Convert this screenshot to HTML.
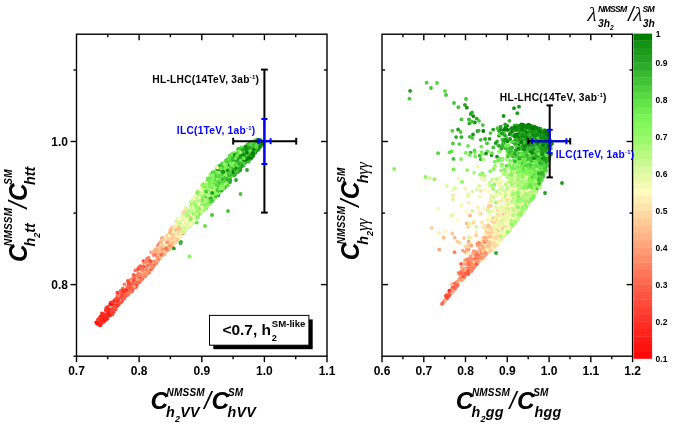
<!DOCTYPE html>
<html><head><meta charset="utf-8"><title>chart</title>
<style>
html,body{margin:0;padding:0;background:#fff;}
body{width:692px;height:425px;position:relative;overflow:hidden;font-family:"Liberation Sans",sans-serif;}
svg text{font-family:"Liberation Sans",sans-serif;}
svg .sf{font-family:"Liberation Serif",serif;}
svg .ss{font-family:"Liberation Sans",sans-serif;}
</style></head><body>
<svg width="692" height="425" viewBox="0 0 692 425" style="position:absolute;left:0;top:0;will-change:transform">
<rect width="692" height="425" fill="#fff"/>
<g>
<circle cx="178.2" cy="226.2" r="1.9" fill="#ffc694"/>
<circle cx="240.5" cy="167.8" r="1.9" fill="#22a022"/>
<circle cx="191.6" cy="220.7" r="1.9" fill="#a4f872"/>
<circle cx="243.4" cy="160.3" r="1.9" fill="#169416"/>
<circle cx="256.5" cy="149.6" r="1.9" fill="#39b932"/>
<circle cx="176.4" cy="241.2" r="1.9" fill="#ffdba2"/>
<circle cx="215.9" cy="170.6" r="1.9" fill="#a3f871"/>
<circle cx="166.8" cy="243.1" r="1.9" fill="#ffe7ad"/>
<circle cx="261.4" cy="142.7" r="1.9" fill="#4ecf3d"/>
<circle cx="181.2" cy="223.3" r="1.9" fill="#ffe2a9"/>
<circle cx="241.5" cy="158.7" r="1.9" fill="#5adc44"/>
<circle cx="134.1" cy="282.9" r="1.9" fill="#ff674d"/>
<circle cx="112.4" cy="308.7" r="1.9" fill="#ff4b39"/>
<circle cx="214.8" cy="192.9" r="1.9" fill="#89f65e"/>
<circle cx="177.3" cy="238.5" r="1.9" fill="#ffe2a8"/>
<circle cx="177.6" cy="239.1" r="1.9" fill="#ff936e"/>
<circle cx="185.3" cy="227.3" r="1.9" fill="#ffedb2"/>
<circle cx="166.8" cy="236.3" r="1.9" fill="#ffc693"/>
<circle cx="235.4" cy="160.4" r="1.9" fill="#118f11"/>
<circle cx="173.8" cy="238.9" r="1.9" fill="#ffcb97"/>
<circle cx="180.1" cy="236.7" r="1.9" fill="#ffd8a1"/>
<circle cx="260.9" cy="142.3" r="1.9" fill="#028002"/>
<circle cx="161.5" cy="244.9" r="1.9" fill="#ff926d"/>
<circle cx="211.9" cy="178.7" r="1.9" fill="#caf991"/>
<circle cx="188.6" cy="224.9" r="1.9" fill="#e6faa9"/>
<circle cx="225.4" cy="160.7" r="1.9" fill="#8ff761"/>
<circle cx="129.2" cy="290.1" r="1.9" fill="#ff4736"/>
<circle cx="262.1" cy="143.8" r="1.9" fill="#007e00"/>
<circle cx="230.2" cy="175.7" r="1.9" fill="#5bdc44"/>
<circle cx="142.3" cy="278.4" r="1.9" fill="#ff8564"/>
<circle cx="226.4" cy="182.8" r="1.9" fill="#69e74c"/>
<circle cx="226.8" cy="169.6" r="1.9" fill="#69e74c"/>
<circle cx="246.8" cy="156.6" r="1.9" fill="#22a022"/>
<circle cx="100.2" cy="325.3" r="1.9" fill="#ff0303"/>
<circle cx="204.5" cy="190.8" r="1.9" fill="#c0f98a"/>
<circle cx="157.1" cy="255.0" r="1.9" fill="#ffd09b"/>
<circle cx="174.8" cy="241.2" r="1.9" fill="#ffc190"/>
<circle cx="209.8" cy="185.0" r="1.9" fill="#79f255"/>
<circle cx="180.5" cy="243.0" r="1.9" fill="#28a628"/>
<circle cx="208.5" cy="194.5" r="1.9" fill="#7af355"/>
<circle cx="240.7" cy="165.8" r="1.9" fill="#23a123"/>
<circle cx="259.2" cy="142.9" r="1.9" fill="#0c8a0c"/>
<circle cx="172.2" cy="241.1" r="1.9" fill="#ffcc98"/>
<circle cx="100.6" cy="316.7" r="1.9" fill="#ff100d"/>
<circle cx="255.2" cy="143.2" r="1.9" fill="#159315"/>
<circle cx="214.3" cy="196.7" r="1.9" fill="#5fe147"/>
<circle cx="243.2" cy="161.2" r="1.9" fill="#179517"/>
<circle cx="173.0" cy="245.5" r="1.9" fill="#ffd7a0"/>
<circle cx="130.6" cy="285.6" r="1.9" fill="#ff5d46"/>
<circle cx="239.0" cy="154.5" r="1.9" fill="#84f55b"/>
<circle cx="217.2" cy="192.9" r="1.9" fill="#60e147"/>
<circle cx="216.3" cy="176.4" r="1.9" fill="#5fe146"/>
<circle cx="184.0" cy="211.7" r="1.9" fill="#ecfaae"/>
<circle cx="187.6" cy="215.2" r="1.9" fill="#aff97b"/>
<circle cx="228.0" cy="159.1" r="1.9" fill="#52d33f"/>
<circle cx="158.3" cy="258.0" r="1.9" fill="#ffaf83"/>
<circle cx="219.4" cy="182.9" r="1.9" fill="#2aa929"/>
<circle cx="244.1" cy="159.6" r="1.9" fill="#169416"/>
<circle cx="123.1" cy="297.3" r="1.9" fill="#ff382b"/>
<circle cx="230.6" cy="165.5" r="1.9" fill="#30af2d"/>
<circle cx="107.8" cy="306.8" r="1.9" fill="#ff392b"/>
<circle cx="247.3" cy="155.4" r="1.9" fill="#0b890b"/>
<circle cx="240.7" cy="165.0" r="1.9" fill="#0e8c0e"/>
<circle cx="248.6" cy="156.4" r="1.9" fill="#007e00"/>
<circle cx="226.0" cy="185.4" r="1.9" fill="#3aba32"/>
<circle cx="236.5" cy="171.7" r="1.9" fill="#118f11"/>
<circle cx="118.5" cy="303.8" r="1.9" fill="#ff5c45"/>
<circle cx="182.4" cy="218.1" r="1.9" fill="#d5fa9b"/>
<circle cx="145.0" cy="268.2" r="1.9" fill="#ff6c51"/>
<circle cx="183.1" cy="233.3" r="1.9" fill="#ff9570"/>
<circle cx="260.0" cy="140.8" r="1.9" fill="#37b630"/>
<circle cx="177.5" cy="237.3" r="1.9" fill="#fff2b7"/>
<circle cx="258.3" cy="144.0" r="1.9" fill="#0e8c0e"/>
<circle cx="180.2" cy="225.0" r="1.9" fill="#ddfaa1"/>
<circle cx="250.3" cy="146.1" r="1.9" fill="#45c538"/>
<circle cx="126.3" cy="289.7" r="1.9" fill="#ff231b"/>
<circle cx="207.0" cy="206.8" r="1.9" fill="#95f865"/>
<circle cx="198.2" cy="215.0" r="1.9" fill="#fcfabb"/>
<circle cx="175.5" cy="241.5" r="1.9" fill="#ffc895"/>
<circle cx="244.6" cy="158.6" r="1.9" fill="#007e00"/>
<circle cx="186.5" cy="227.5" r="1.9" fill="#f5fab6"/>
<circle cx="244.8" cy="148.3" r="1.9" fill="#4bcc3c"/>
<circle cx="255.5" cy="145.1" r="1.9" fill="#23a123"/>
<circle cx="223.6" cy="173.4" r="1.9" fill="#2aa829"/>
<circle cx="130.9" cy="280.2" r="1.9" fill="#ff3f2f"/>
<circle cx="243.6" cy="161.6" r="1.9" fill="#007e00"/>
<circle cx="245.7" cy="150.9" r="1.9" fill="#3bba33"/>
<circle cx="199.5" cy="209.4" r="1.9" fill="#a9f975"/>
<circle cx="194.2" cy="219.6" r="1.9" fill="#e2faa6"/>
<circle cx="208.0" cy="197.8" r="1.9" fill="#90f762"/>
<circle cx="257.0" cy="144.8" r="1.9" fill="#1f9d1f"/>
<circle cx="189.2" cy="210.3" r="1.9" fill="#c3f98c"/>
<circle cx="154.7" cy="249.8" r="1.9" fill="#ffbc8c"/>
<circle cx="192.3" cy="219.8" r="1.9" fill="#ffd09b"/>
<circle cx="239.3" cy="170.1" r="1.9" fill="#40c035"/>
<circle cx="147.9" cy="269.7" r="1.9" fill="#ff8e6a"/>
<circle cx="174.5" cy="235.9" r="1.9" fill="#ffb788"/>
<circle cx="247.1" cy="157.6" r="1.9" fill="#8cf75f"/>
<circle cx="123.3" cy="291.7" r="1.9" fill="#ff503c"/>
<circle cx="253.4" cy="144.6" r="1.9" fill="#38b731"/>
<circle cx="197.5" cy="205.9" r="1.9" fill="#6be94d"/>
<circle cx="184.5" cy="232.0" r="1.9" fill="#ffdba3"/>
<circle cx="244.6" cy="162.5" r="1.9" fill="#3dbc33"/>
<circle cx="212.5" cy="195.6" r="1.9" fill="#75f052"/>
<circle cx="233.0" cy="166.2" r="1.9" fill="#6ce94d"/>
<circle cx="130.5" cy="287.5" r="1.9" fill="#ff4534"/>
<circle cx="143.6" cy="276.4" r="1.9" fill="#ff6b51"/>
<circle cx="148.9" cy="272.8" r="1.9" fill="#ff5d46"/>
<circle cx="248.2" cy="150.2" r="1.9" fill="#2dab2b"/>
<circle cx="234.2" cy="165.1" r="1.9" fill="#48c93a"/>
<circle cx="224.6" cy="170.0" r="1.9" fill="#58da43"/>
<circle cx="124.4" cy="284.5" r="1.9" fill="#ff8564"/>
<circle cx="232.0" cy="175.3" r="1.9" fill="#24a224"/>
<circle cx="245.4" cy="154.1" r="1.9" fill="#159315"/>
<circle cx="214.6" cy="189.4" r="1.9" fill="#3bbb33"/>
<circle cx="227.0" cy="160.8" r="1.9" fill="#45c638"/>
<circle cx="142.8" cy="268.3" r="1.9" fill="#ffb285"/>
<circle cx="165.2" cy="251.9" r="1.9" fill="#ffb98a"/>
<circle cx="117.0" cy="300.5" r="1.9" fill="#ff7759"/>
<circle cx="247.1" cy="150.1" r="1.9" fill="#28a628"/>
<circle cx="205.8" cy="195.3" r="1.9" fill="#47c739"/>
<circle cx="211.3" cy="181.8" r="1.9" fill="#3fbe35"/>
<circle cx="230.9" cy="157.6" r="1.9" fill="#22a022"/>
<circle cx="232.1" cy="165.9" r="1.9" fill="#3ebd34"/>
<circle cx="229.3" cy="180.6" r="1.9" fill="#4fd03e"/>
<circle cx="206.5" cy="194.9" r="1.9" fill="#84f55b"/>
<circle cx="235.4" cy="169.6" r="1.9" fill="#2aa829"/>
<circle cx="217.0" cy="195.4" r="1.9" fill="#8af65e"/>
<circle cx="243.5" cy="158.4" r="1.9" fill="#62e348"/>
<circle cx="196.6" cy="217.5" r="1.9" fill="#c2f98b"/>
<circle cx="182.4" cy="218.4" r="1.9" fill="#e3faa6"/>
<circle cx="145.3" cy="275.8" r="1.9" fill="#ff7b5c"/>
<circle cx="210.1" cy="202.4" r="1.9" fill="#41c136"/>
<circle cx="231.0" cy="171.5" r="1.9" fill="#219f21"/>
<circle cx="189.6" cy="221.7" r="1.9" fill="#b7f982"/>
<circle cx="114.3" cy="303.9" r="1.9" fill="#ff513d"/>
<circle cx="196.1" cy="217.8" r="1.9" fill="#8cf75f"/>
<circle cx="232.9" cy="153.5" r="1.9" fill="#80f559"/>
<circle cx="244.5" cy="148.7" r="1.9" fill="#47c739"/>
<circle cx="204.1" cy="207.8" r="1.9" fill="#dbfaa0"/>
<circle cx="253.4" cy="150.5" r="1.9" fill="#50d13e"/>
<circle cx="212.3" cy="199.1" r="1.9" fill="#8ef760"/>
<circle cx="148.4" cy="270.6" r="1.9" fill="#ffa77d"/>
<circle cx="157.7" cy="245.8" r="1.9" fill="#ff8a68"/>
<circle cx="157.2" cy="260.8" r="1.9" fill="#ffb185"/>
<circle cx="248.8" cy="159.2" r="1.9" fill="#169416"/>
<circle cx="135.5" cy="285.9" r="1.9" fill="#ff6249"/>
<circle cx="254.8" cy="148.9" r="1.9" fill="#1d9b1d"/>
<circle cx="185.3" cy="215.1" r="1.9" fill="#eefab0"/>
<circle cx="158.1" cy="260.5" r="1.9" fill="#ffb688"/>
<circle cx="234.2" cy="152.8" r="1.9" fill="#79f254"/>
<circle cx="215.5" cy="192.6" r="1.9" fill="#8bf75f"/>
<circle cx="254.1" cy="144.9" r="1.9" fill="#33b22e"/>
<circle cx="171.8" cy="242.2" r="1.9" fill="#ff9570"/>
<circle cx="152.8" cy="252.7" r="1.9" fill="#ff946f"/>
<circle cx="201.4" cy="194.1" r="1.9" fill="#e5faa9"/>
<circle cx="173.7" cy="226.5" r="1.9" fill="#ffe8ae"/>
<circle cx="147.3" cy="272.6" r="1.9" fill="#ffa078"/>
<circle cx="189.6" cy="222.1" r="1.9" fill="#fafaba"/>
<circle cx="211.3" cy="180.8" r="1.9" fill="#51d23f"/>
<circle cx="255.2" cy="149.8" r="1.9" fill="#2fae2c"/>
<circle cx="189.6" cy="224.0" r="1.9" fill="#c5f98e"/>
<circle cx="226.0" cy="160.3" r="1.9" fill="#59db43"/>
<circle cx="198.1" cy="196.8" r="1.9" fill="#e8faab"/>
<circle cx="256.6" cy="139.6" r="1.9" fill="#59da43"/>
<circle cx="211.2" cy="180.0" r="1.9" fill="#5ddf46"/>
<circle cx="248.8" cy="155.1" r="1.9" fill="#0a880a"/>
<circle cx="241.6" cy="163.7" r="1.9" fill="#abf977"/>
<circle cx="143.0" cy="277.0" r="1.9" fill="#ff7155"/>
<circle cx="139.4" cy="282.1" r="1.9" fill="#ff7457"/>
<circle cx="159.5" cy="252.0" r="1.9" fill="#ffb688"/>
<circle cx="242.0" cy="154.5" r="1.9" fill="#3dbc33"/>
<circle cx="140.2" cy="280.9" r="1.9" fill="#ff8160"/>
<circle cx="224.5" cy="187.7" r="1.9" fill="#48c93a"/>
<circle cx="192.0" cy="222.4" r="1.9" fill="#ecfaae"/>
<circle cx="240.7" cy="163.0" r="1.9" fill="#7ef457"/>
<circle cx="209.8" cy="202.5" r="1.9" fill="#7ff458"/>
<circle cx="180.9" cy="225.8" r="1.9" fill="#fbfaba"/>
<circle cx="233.4" cy="174.3" r="1.9" fill="#65e54a"/>
<circle cx="178.0" cy="218.6" r="1.9" fill="#d1fa98"/>
<circle cx="237.2" cy="167.3" r="1.9" fill="#3fbe35"/>
<circle cx="256.6" cy="140.7" r="1.9" fill="#0e8c0e"/>
<circle cx="246.4" cy="147.2" r="1.9" fill="#82f55a"/>
<circle cx="249.0" cy="146.0" r="1.9" fill="#58d943"/>
<circle cx="236.1" cy="157.8" r="1.9" fill="#7bf456"/>
<circle cx="181.0" cy="242.0" r="1.9" fill="#33b22e"/>
<circle cx="157.5" cy="251.1" r="1.9" fill="#ff7658"/>
<circle cx="244.9" cy="154.9" r="1.9" fill="#068406"/>
<circle cx="241.5" cy="157.6" r="1.9" fill="#3bba32"/>
<circle cx="196.1" cy="197.5" r="1.9" fill="#baf984"/>
<circle cx="211.2" cy="194.8" r="1.9" fill="#81f559"/>
<circle cx="244.8" cy="153.4" r="1.9" fill="#4fd03e"/>
<circle cx="132.3" cy="290.2" r="1.9" fill="#ff3a2c"/>
<circle cx="135.3" cy="280.2" r="1.9" fill="#ff6f54"/>
<circle cx="258.1" cy="146.2" r="1.9" fill="#007e00"/>
<circle cx="240.0" cy="163.1" r="1.9" fill="#2eac2b"/>
<circle cx="244.6" cy="148.1" r="1.9" fill="#55d741"/>
<circle cx="229.6" cy="180.7" r="1.9" fill="#72ee51"/>
<circle cx="214.0" cy="194.4" r="1.9" fill="#8ef760"/>
<circle cx="146.9" cy="273.0" r="1.9" fill="#ffc593"/>
<circle cx="215.1" cy="197.7" r="1.9" fill="#7df457"/>
<circle cx="147.1" cy="258.7" r="1.9" fill="#ff8060"/>
<circle cx="220.3" cy="188.0" r="1.9" fill="#41c136"/>
<circle cx="196.7" cy="215.1" r="1.9" fill="#ccf993"/>
<circle cx="169.7" cy="239.5" r="1.9" fill="#ffe3aa"/>
<circle cx="175.5" cy="241.7" r="1.9" fill="#ffc291"/>
<circle cx="257.9" cy="140.2" r="1.9" fill="#30af2c"/>
<circle cx="243.6" cy="150.0" r="1.9" fill="#5ddf46"/>
<circle cx="179.1" cy="229.2" r="1.9" fill="#fff2b7"/>
<circle cx="223.8" cy="175.1" r="1.9" fill="#2ead2b"/>
<circle cx="139.1" cy="275.4" r="1.9" fill="#ff5e46"/>
<circle cx="259.2" cy="141.0" r="1.9" fill="#30af2d"/>
<circle cx="217.6" cy="192.9" r="1.9" fill="#64e449"/>
<circle cx="225.9" cy="172.4" r="1.9" fill="#73ee51"/>
<circle cx="96.3" cy="322.5" r="1.9" fill="#ff0f0c"/>
<circle cx="257.8" cy="147.9" r="1.9" fill="#149214"/>
<circle cx="235.0" cy="167.9" r="1.9" fill="#59db43"/>
<circle cx="161.1" cy="252.8" r="1.9" fill="#ff9670"/>
<circle cx="172.0" cy="242.7" r="1.9" fill="#ff8b69"/>
<circle cx="144.5" cy="269.8" r="1.9" fill="#ffcc98"/>
<circle cx="144.8" cy="273.4" r="1.9" fill="#ff6249"/>
<circle cx="159.6" cy="245.5" r="1.9" fill="#ffdaa2"/>
<circle cx="135.8" cy="286.0" r="1.9" fill="#ff5b44"/>
<circle cx="213.9" cy="173.5" r="1.9" fill="#46c739"/>
<circle cx="192.5" cy="222.2" r="1.9" fill="#70ec50"/>
<circle cx="108.3" cy="313.0" r="1.9" fill="#ff4736"/>
<circle cx="202.3" cy="186.0" r="1.9" fill="#73ee51"/>
<circle cx="242.3" cy="162.8" r="1.9" fill="#1b991b"/>
<circle cx="165.8" cy="248.7" r="1.9" fill="#ffdfa6"/>
<circle cx="215.4" cy="176.0" r="1.9" fill="#58da43"/>
<circle cx="247.1" cy="158.5" r="1.9" fill="#118f11"/>
<circle cx="242.1" cy="150.1" r="1.9" fill="#33b22e"/>
<circle cx="224.4" cy="177.8" r="1.9" fill="#43c337"/>
<circle cx="240.3" cy="169.0" r="1.9" fill="#007e00"/>
<circle cx="191.1" cy="211.9" r="1.9" fill="#83f55a"/>
<circle cx="111.1" cy="302.3" r="1.9" fill="#ff3528"/>
<circle cx="160.3" cy="258.9" r="1.9" fill="#ffd49e"/>
<circle cx="111.9" cy="304.8" r="1.9" fill="#ff503c"/>
<circle cx="243.8" cy="156.4" r="1.9" fill="#35b42f"/>
<circle cx="147.2" cy="268.7" r="1.9" fill="#ff8866"/>
<circle cx="168.0" cy="241.0" r="1.9" fill="#ffa67c"/>
<circle cx="169.2" cy="240.5" r="1.9" fill="#ffb889"/>
<circle cx="255.6" cy="145.7" r="1.9" fill="#149214"/>
<circle cx="188.8" cy="211.6" r="1.9" fill="#adf979"/>
<circle cx="242.4" cy="156.7" r="1.9" fill="#3cbb33"/>
<circle cx="128.5" cy="285.7" r="1.9" fill="#ff503d"/>
<circle cx="231.3" cy="157.8" r="1.9" fill="#50d13e"/>
<circle cx="174.2" cy="241.2" r="1.9" fill="#ffdca4"/>
<circle cx="194.1" cy="210.1" r="1.9" fill="#bdf986"/>
<circle cx="218.6" cy="170.6" r="1.9" fill="#8ff761"/>
<circle cx="198.9" cy="191.0" r="1.9" fill="#d3fa9a"/>
<circle cx="197.3" cy="215.9" r="1.9" fill="#fffabe"/>
<circle cx="222.3" cy="163.6" r="1.9" fill="#6cea4e"/>
<circle cx="171.3" cy="236.5" r="1.9" fill="#ffc190"/>
<circle cx="243.0" cy="165.7" r="1.9" fill="#28a628"/>
<circle cx="138.7" cy="267.5" r="1.9" fill="#ff7f5f"/>
<circle cx="141.7" cy="277.4" r="1.9" fill="#ff684e"/>
<circle cx="260.0" cy="141.3" r="1.9" fill="#43c337"/>
<circle cx="112.1" cy="312.1" r="1.9" fill="#ff4534"/>
<circle cx="239.5" cy="163.0" r="1.9" fill="#2baa2a"/>
<circle cx="197.9" cy="215.6" r="1.9" fill="#91f762"/>
<circle cx="206.2" cy="185.8" r="1.9" fill="#93f863"/>
<circle cx="239.7" cy="164.0" r="1.9" fill="#007e00"/>
<circle cx="200.6" cy="209.8" r="1.9" fill="#85f55b"/>
<circle cx="189.5" cy="223.0" r="1.9" fill="#e5faa8"/>
<circle cx="237.3" cy="171.2" r="1.9" fill="#4acb3b"/>
<circle cx="247.0" cy="170.0" r="1.9" fill="#28a628"/>
<circle cx="222.7" cy="181.7" r="1.9" fill="#51d23f"/>
<circle cx="215.1" cy="189.1" r="1.9" fill="#30ae2c"/>
<circle cx="189.5" cy="223.5" r="1.9" fill="#baf984"/>
<circle cx="221.3" cy="170.9" r="1.9" fill="#a5f873"/>
<circle cx="162.7" cy="249.6" r="1.9" fill="#ffab80"/>
<circle cx="236.1" cy="163.8" r="1.9" fill="#23a123"/>
<circle cx="159.4" cy="243.9" r="1.9" fill="#ff6249"/>
<circle cx="117.1" cy="305.7" r="1.9" fill="#ff3226"/>
<circle cx="224.9" cy="182.4" r="1.9" fill="#6ae84c"/>
<circle cx="257.0" cy="149.5" r="1.9" fill="#38b731"/>
<circle cx="173.1" cy="242.3" r="1.9" fill="#ffe2a9"/>
<circle cx="219.2" cy="187.9" r="1.9" fill="#66e54a"/>
<circle cx="155.0" cy="261.4" r="1.9" fill="#ff8463"/>
<circle cx="254.8" cy="147.7" r="1.9" fill="#007e00"/>
<circle cx="177.8" cy="237.5" r="1.9" fill="#ffeab0"/>
<circle cx="152.2" cy="265.7" r="1.9" fill="#ffc996"/>
<circle cx="247.5" cy="144.7" r="1.9" fill="#37b630"/>
<circle cx="262.2" cy="141.3" r="1.9" fill="#36b530"/>
<circle cx="246.5" cy="150.9" r="1.9" fill="#4acb3b"/>
<circle cx="239.0" cy="161.5" r="1.9" fill="#51d33f"/>
<circle cx="224.8" cy="165.2" r="1.9" fill="#65e54a"/>
<circle cx="213.0" cy="183.2" r="1.9" fill="#a7f874"/>
<circle cx="159.4" cy="250.8" r="1.9" fill="#ff936e"/>
<circle cx="224.0" cy="180.4" r="1.9" fill="#59da43"/>
<circle cx="197.7" cy="193.7" r="1.9" fill="#d2fa98"/>
<circle cx="140.4" cy="277.1" r="1.9" fill="#ff9d76"/>
<circle cx="217.8" cy="192.6" r="1.9" fill="#81f559"/>
<circle cx="135.0" cy="285.5" r="1.9" fill="#ff684e"/>
<circle cx="161.5" cy="241.1" r="1.9" fill="#ffdca4"/>
<circle cx="154.0" cy="251.7" r="1.9" fill="#ffad81"/>
<circle cx="165.4" cy="252.5" r="1.9" fill="#ffcf9a"/>
<circle cx="234.7" cy="173.3" r="1.9" fill="#1f9d1f"/>
<circle cx="181.2" cy="229.0" r="1.9" fill="#caf992"/>
<circle cx="134.0" cy="287.5" r="1.9" fill="#ff4232"/>
<circle cx="250.0" cy="148.1" r="1.9" fill="#42c236"/>
<circle cx="205.1" cy="193.3" r="1.9" fill="#99f868"/>
<circle cx="234.5" cy="159.8" r="1.9" fill="#088608"/>
<circle cx="212.6" cy="188.5" r="1.9" fill="#92f863"/>
<circle cx="246.3" cy="158.3" r="1.9" fill="#108e10"/>
<circle cx="103.8" cy="316.7" r="1.9" fill="#ff2b21"/>
<circle cx="178.7" cy="232.3" r="1.9" fill="#fff6ba"/>
<circle cx="198.3" cy="197.8" r="1.9" fill="#57d842"/>
<circle cx="254.5" cy="147.8" r="1.9" fill="#34b32f"/>
<circle cx="106.9" cy="315.8" r="1.9" fill="#ff3125"/>
<circle cx="167.0" cy="246.8" r="1.9" fill="#ffd69f"/>
<circle cx="245.3" cy="159.9" r="1.9" fill="#49c93a"/>
<circle cx="161.7" cy="254.6" r="1.9" fill="#ffa47b"/>
<circle cx="169.5" cy="242.3" r="1.9" fill="#ffc290"/>
<circle cx="138.0" cy="269.3" r="1.9" fill="#ff4333"/>
<circle cx="176.7" cy="226.3" r="1.9" fill="#ffedb3"/>
<circle cx="144.5" cy="272.9" r="1.9" fill="#ffac80"/>
<circle cx="215.9" cy="181.2" r="1.9" fill="#45c638"/>
<circle cx="142.3" cy="275.4" r="1.9" fill="#ff9872"/>
<circle cx="213.0" cy="198.2" r="1.9" fill="#8af65e"/>
<circle cx="182.7" cy="222.9" r="1.9" fill="#ffbe8e"/>
<circle cx="227.0" cy="182.8" r="1.9" fill="#4acb3b"/>
<circle cx="247.1" cy="157.3" r="1.9" fill="#5adb44"/>
<circle cx="170.7" cy="239.6" r="1.9" fill="#ffbf8e"/>
<circle cx="211.2" cy="180.9" r="1.9" fill="#81f559"/>
<circle cx="207.0" cy="200.2" r="1.9" fill="#a9f976"/>
<circle cx="239.5" cy="152.0" r="1.9" fill="#46c638"/>
<circle cx="245.9" cy="148.7" r="1.9" fill="#7df457"/>
<circle cx="239.6" cy="167.8" r="1.9" fill="#149214"/>
<circle cx="175.5" cy="236.3" r="1.9" fill="#f2fab3"/>
<circle cx="198.4" cy="214.4" r="1.9" fill="#9cf86b"/>
<circle cx="246.2" cy="161.6" r="1.9" fill="#27a527"/>
<circle cx="118.3" cy="299.5" r="1.9" fill="#ff3a2c"/>
<circle cx="171.4" cy="229.6" r="1.9" fill="#ffeeb4"/>
<circle cx="243.9" cy="156.5" r="1.9" fill="#007e00"/>
<circle cx="240.7" cy="153.3" r="1.9" fill="#7ff558"/>
<circle cx="216.9" cy="187.4" r="1.9" fill="#90f761"/>
<circle cx="176.7" cy="226.2" r="1.9" fill="#dcfaa0"/>
<circle cx="245.4" cy="160.3" r="1.9" fill="#209e20"/>
<circle cx="225.3" cy="180.1" r="1.9" fill="#5bdd44"/>
<circle cx="158.6" cy="253.4" r="1.9" fill="#ffaf83"/>
<circle cx="110.5" cy="315.3" r="1.9" fill="#ff4937"/>
<circle cx="239.9" cy="169.3" r="1.9" fill="#007e00"/>
<circle cx="105.7" cy="319.9" r="1.9" fill="#ff261d"/>
<circle cx="251.5" cy="154.3" r="1.9" fill="#108e10"/>
<circle cx="207.9" cy="189.3" r="1.9" fill="#cffa96"/>
<circle cx="192.7" cy="209.9" r="1.9" fill="#ddfaa2"/>
<circle cx="150.6" cy="268.8" r="1.9" fill="#ff6d52"/>
<circle cx="257.0" cy="145.8" r="1.9" fill="#4dce3c"/>
<circle cx="199.1" cy="192.2" r="1.9" fill="#f8fab8"/>
<circle cx="189.9" cy="218.4" r="1.9" fill="#b7f982"/>
<circle cx="175.5" cy="232.3" r="1.9" fill="#ffd49e"/>
<circle cx="224.0" cy="180.0" r="1.9" fill="#6be94d"/>
<circle cx="205.3" cy="202.4" r="1.9" fill="#90f761"/>
<circle cx="247.1" cy="151.0" r="1.9" fill="#56d842"/>
<circle cx="251.1" cy="153.7" r="1.9" fill="#007e00"/>
<circle cx="198.1" cy="194.3" r="1.9" fill="#7ef457"/>
<circle cx="146.0" cy="272.8" r="1.9" fill="#ff7759"/>
<circle cx="248.6" cy="158.1" r="1.9" fill="#44c438"/>
<circle cx="135.3" cy="270.4" r="1.9" fill="#ff7356"/>
<circle cx="232.3" cy="164.5" r="1.9" fill="#8cf75f"/>
<circle cx="160.7" cy="246.7" r="1.9" fill="#ffb889"/>
<circle cx="257.2" cy="149.4" r="1.9" fill="#30af2d"/>
<circle cx="253.9" cy="153.4" r="1.9" fill="#83f55a"/>
<circle cx="236.2" cy="158.3" r="1.9" fill="#1e9c1e"/>
<circle cx="186.2" cy="227.3" r="1.9" fill="#c2f98b"/>
<circle cx="234.7" cy="162.1" r="1.9" fill="#4ecf3d"/>
<circle cx="203.0" cy="209.3" r="1.9" fill="#bdf986"/>
<circle cx="208.8" cy="195.4" r="1.9" fill="#a0f86e"/>
<circle cx="135.6" cy="287.2" r="1.9" fill="#ff684e"/>
<circle cx="259.1" cy="144.2" r="1.9" fill="#007e00"/>
<circle cx="195.0" cy="218.9" r="1.9" fill="#c6f98e"/>
<circle cx="242.0" cy="159.5" r="1.9" fill="#4aca3b"/>
<circle cx="259.6" cy="146.0" r="1.9" fill="#098709"/>
<circle cx="249.7" cy="159.4" r="1.9" fill="#1c9a1c"/>
<circle cx="144.0" cy="271.1" r="1.9" fill="#ff6148"/>
<circle cx="225.5" cy="185.4" r="1.9" fill="#40c035"/>
<circle cx="179.0" cy="228.9" r="1.9" fill="#ffcd99"/>
<circle cx="202.3" cy="187.9" r="1.9" fill="#bbf985"/>
<circle cx="149.3" cy="265.3" r="1.9" fill="#ffa178"/>
<circle cx="205.0" cy="226.0" r="1.9" fill="#5ee046"/>
<circle cx="244.6" cy="161.9" r="1.9" fill="#42c237"/>
<circle cx="174.4" cy="242.0" r="1.9" fill="#ffd69f"/>
<circle cx="104.3" cy="315.4" r="1.9" fill="#ff3529"/>
<circle cx="164.2" cy="238.4" r="1.9" fill="#ffb588"/>
<circle cx="254.4" cy="150.9" r="1.9" fill="#38b731"/>
<circle cx="193.9" cy="206.9" r="1.9" fill="#a7f874"/>
<circle cx="239.9" cy="165.0" r="1.9" fill="#3fbf35"/>
<circle cx="224.7" cy="187.5" r="1.9" fill="#2fae2c"/>
<circle cx="200.5" cy="209.3" r="1.9" fill="#86f65c"/>
<circle cx="217.0" cy="195.0" r="1.9" fill="#43c337"/>
<circle cx="201.6" cy="195.9" r="1.9" fill="#59db43"/>
<circle cx="191.2" cy="216.8" r="1.9" fill="#dbfaa0"/>
<circle cx="191.0" cy="202.1" r="1.9" fill="#9ef86c"/>
<circle cx="224.0" cy="181.1" r="1.9" fill="#55d741"/>
<circle cx="254.1" cy="150.3" r="1.9" fill="#098709"/>
<circle cx="98.1" cy="319.5" r="1.9" fill="#ff2a20"/>
<circle cx="183.3" cy="216.9" r="1.9" fill="#c7f98f"/>
<circle cx="144.7" cy="276.2" r="1.9" fill="#ff684e"/>
<circle cx="191.8" cy="213.7" r="1.9" fill="#f3fab4"/>
<circle cx="105.9" cy="309.9" r="1.9" fill="#ff4131"/>
<circle cx="260.3" cy="145.1" r="1.9" fill="#28a628"/>
<circle cx="216.6" cy="179.0" r="1.9" fill="#3dbd34"/>
<circle cx="204.5" cy="205.6" r="1.9" fill="#eafaac"/>
<circle cx="222.9" cy="172.5" r="1.9" fill="#89f65e"/>
<circle cx="120.8" cy="290.7" r="1.9" fill="#ff5c45"/>
<circle cx="172.8" cy="242.9" r="1.9" fill="#ff8967"/>
<circle cx="150.4" cy="262.0" r="1.9" fill="#ff9872"/>
<circle cx="261.1" cy="144.6" r="1.9" fill="#007e00"/>
<circle cx="126.3" cy="294.1" r="1.9" fill="#ff5c45"/>
<circle cx="247.6" cy="160.1" r="1.9" fill="#7ef457"/>
<circle cx="104.7" cy="320.4" r="1.9" fill="#ff3c2d"/>
<circle cx="185.0" cy="218.4" r="1.9" fill="#f7fab8"/>
<circle cx="223.0" cy="182.9" r="1.9" fill="#3fbe35"/>
<circle cx="195.7" cy="212.2" r="1.9" fill="#8df760"/>
<circle cx="128.0" cy="294.7" r="1.9" fill="#ff5d46"/>
<circle cx="232.1" cy="175.9" r="1.9" fill="#6be94d"/>
<circle cx="107.9" cy="312.7" r="1.9" fill="#ff4937"/>
<circle cx="196.1" cy="213.0" r="1.9" fill="#a3f870"/>
<circle cx="247.3" cy="160.1" r="1.9" fill="#007e00"/>
<circle cx="105.6" cy="315.8" r="1.9" fill="#ff2019"/>
<circle cx="221.9" cy="189.9" r="1.9" fill="#74ef52"/>
<circle cx="218.3" cy="176.6" r="1.9" fill="#74ee51"/>
<circle cx="107.4" cy="308.2" r="1.9" fill="#ff2f24"/>
<circle cx="146.7" cy="273.4" r="1.9" fill="#ff523e"/>
<circle cx="240.4" cy="165.2" r="1.9" fill="#6be94d"/>
<circle cx="218.2" cy="170.0" r="1.9" fill="#82f559"/>
<circle cx="238.9" cy="154.6" r="1.9" fill="#7bf355"/>
<circle cx="245.9" cy="160.4" r="1.9" fill="#56d742"/>
<circle cx="238.9" cy="149.4" r="1.9" fill="#1e9c1e"/>
<circle cx="127.9" cy="280.6" r="1.9" fill="#ff7c5d"/>
<circle cx="143.2" cy="275.8" r="1.9" fill="#ff5c45"/>
<circle cx="249.0" cy="153.5" r="1.9" fill="#46c639"/>
<circle cx="223.8" cy="183.9" r="1.9" fill="#54d541"/>
<circle cx="225.8" cy="161.3" r="1.9" fill="#aaf977"/>
<circle cx="139.9" cy="267.4" r="1.9" fill="#ff5f47"/>
<circle cx="216.8" cy="170.0" r="1.9" fill="#9af869"/>
<circle cx="189.7" cy="221.5" r="1.9" fill="#9bf86a"/>
<circle cx="254.3" cy="145.5" r="1.9" fill="#3ebe34"/>
<circle cx="186.4" cy="210.5" r="1.9" fill="#ffeeb3"/>
<circle cx="200.4" cy="197.4" r="1.9" fill="#9af869"/>
<circle cx="260.4" cy="141.6" r="1.9" fill="#1e9c1e"/>
<circle cx="143.1" cy="267.0" r="1.9" fill="#ffaa80"/>
<circle cx="205.8" cy="199.0" r="1.9" fill="#a2f870"/>
<circle cx="135.0" cy="277.7" r="1.9" fill="#ff5741"/>
<circle cx="131.4" cy="281.9" r="1.9" fill="#ff4635"/>
<circle cx="257.4" cy="141.9" r="1.9" fill="#4ecf3d"/>
<circle cx="142.2" cy="270.7" r="1.9" fill="#ff8463"/>
<circle cx="199.9" cy="210.1" r="1.9" fill="#cdf994"/>
<circle cx="178.4" cy="234.4" r="1.9" fill="#e6faa9"/>
<circle cx="131.3" cy="288.1" r="1.9" fill="#ff6149"/>
<circle cx="208.0" cy="204.2" r="1.9" fill="#a1f86f"/>
<circle cx="218.4" cy="192.3" r="1.9" fill="#64e449"/>
<circle cx="200.0" cy="211.7" r="1.9" fill="#cefa95"/>
<circle cx="143.2" cy="266.1" r="1.9" fill="#ffa57c"/>
<circle cx="258.4" cy="145.2" r="1.9" fill="#0c8a0c"/>
<circle cx="194.7" cy="214.5" r="1.9" fill="#f2fab3"/>
<circle cx="227.9" cy="166.3" r="1.9" fill="#2fae2c"/>
<circle cx="237.5" cy="163.1" r="1.9" fill="#2dab2b"/>
<circle cx="247.5" cy="149.4" r="1.9" fill="#5ddf46"/>
<circle cx="194.1" cy="197.7" r="1.9" fill="#effab0"/>
<circle cx="132.4" cy="281.6" r="1.9" fill="#ff5a43"/>
<circle cx="238.6" cy="154.2" r="1.9" fill="#7af355"/>
<circle cx="214.3" cy="191.9" r="1.9" fill="#99f868"/>
<circle cx="253.1" cy="151.7" r="1.9" fill="#0e8c0e"/>
<circle cx="249.2" cy="149.1" r="1.9" fill="#30ae2c"/>
<circle cx="113.2" cy="309.7" r="1.9" fill="#ff3125"/>
<circle cx="133.9" cy="287.3" r="1.9" fill="#ff6149"/>
<circle cx="207.2" cy="200.9" r="1.9" fill="#25a325"/>
<circle cx="188.7" cy="220.0" r="1.9" fill="#dbfaa0"/>
<circle cx="255.5" cy="141.5" r="1.9" fill="#3fbf35"/>
<circle cx="257.0" cy="142.1" r="1.9" fill="#169416"/>
<circle cx="111.5" cy="312.5" r="1.9" fill="#ff4937"/>
<circle cx="222.0" cy="165.5" r="1.9" fill="#6ce94d"/>
<circle cx="216.6" cy="182.1" r="1.9" fill="#cffa96"/>
<circle cx="214.7" cy="183.2" r="1.9" fill="#46c638"/>
<circle cx="208.3" cy="201.2" r="1.9" fill="#8af65e"/>
<circle cx="249.5" cy="144.3" r="1.9" fill="#91f862"/>
<circle cx="157.4" cy="257.2" r="1.9" fill="#ff906c"/>
<circle cx="172.5" cy="245.0" r="1.9" fill="#ffd39d"/>
<circle cx="221.1" cy="180.9" r="1.9" fill="#77f153"/>
<circle cx="191.2" cy="206.4" r="1.9" fill="#90f762"/>
<circle cx="202.0" cy="186.8" r="1.9" fill="#f2fab3"/>
<circle cx="142.2" cy="279.1" r="1.9" fill="#ff674d"/>
<circle cx="169.8" cy="245.9" r="1.9" fill="#ffa57c"/>
<circle cx="236.1" cy="155.1" r="1.9" fill="#4acb3b"/>
<circle cx="235.1" cy="168.0" r="1.9" fill="#209e20"/>
<circle cx="127.5" cy="287.3" r="1.9" fill="#ff6b50"/>
<circle cx="179.5" cy="235.7" r="1.9" fill="#edfaaf"/>
<circle cx="218.2" cy="191.5" r="1.9" fill="#94f864"/>
<circle cx="236.7" cy="166.4" r="1.9" fill="#0b890b"/>
<circle cx="214.3" cy="172.0" r="1.9" fill="#68e74b"/>
<circle cx="240.4" cy="157.4" r="1.9" fill="#5ee046"/>
<circle cx="131.9" cy="285.2" r="1.9" fill="#ff5842"/>
<circle cx="225.6" cy="184.0" r="1.9" fill="#95f864"/>
<circle cx="163.2" cy="251.8" r="1.9" fill="#ff8f6b"/>
<circle cx="209.2" cy="178.6" r="1.9" fill="#41c136"/>
<circle cx="193.1" cy="222.4" r="1.9" fill="#ccf994"/>
<circle cx="207.6" cy="200.6" r="1.9" fill="#87f65d"/>
<circle cx="176.6" cy="221.1" r="1.9" fill="#ffd7a0"/>
<circle cx="252.2" cy="154.2" r="1.9" fill="#3fbf35"/>
<circle cx="244.6" cy="154.5" r="1.9" fill="#1f9d1f"/>
<circle cx="198.2" cy="215.4" r="1.9" fill="#b6f981"/>
<circle cx="201.5" cy="210.1" r="1.9" fill="#c6f98e"/>
<circle cx="222.3" cy="185.7" r="1.9" fill="#97f866"/>
<circle cx="251.0" cy="147.7" r="1.9" fill="#34b32f"/>
<circle cx="199.7" cy="207.5" r="1.9" fill="#d9fa9e"/>
<circle cx="227.9" cy="185.1" r="1.9" fill="#5fe147"/>
<circle cx="253.6" cy="150.5" r="1.9" fill="#007e00"/>
<circle cx="235.5" cy="163.9" r="1.9" fill="#46c638"/>
<circle cx="239.2" cy="169.4" r="1.9" fill="#4fcf3d"/>
<circle cx="117.8" cy="293.3" r="1.9" fill="#ff5e46"/>
<circle cx="194.2" cy="201.0" r="1.9" fill="#92f863"/>
<circle cx="113.6" cy="310.5" r="1.9" fill="#ff2c22"/>
<circle cx="228.4" cy="179.4" r="1.9" fill="#6be84d"/>
<circle cx="111.9" cy="304.3" r="1.9" fill="#ff291f"/>
<circle cx="209.1" cy="198.0" r="1.9" fill="#7ff458"/>
<circle cx="238.3" cy="153.0" r="1.9" fill="#70ec50"/>
<circle cx="140.3" cy="276.6" r="1.9" fill="#ff664d"/>
<circle cx="167.7" cy="249.8" r="1.9" fill="#ff8b68"/>
<circle cx="237.6" cy="160.5" r="1.9" fill="#52d440"/>
<circle cx="182.6" cy="212.8" r="1.9" fill="#ffe3a9"/>
<circle cx="203.9" cy="184.4" r="1.9" fill="#b6f981"/>
<circle cx="205.6" cy="203.9" r="1.9" fill="#6feb4f"/>
<circle cx="120.3" cy="296.9" r="1.9" fill="#ff5d46"/>
<circle cx="256.5" cy="144.5" r="1.9" fill="#33b12e"/>
<circle cx="101.3" cy="323.6" r="1.9" fill="#ff2f24"/>
<circle cx="120.6" cy="292.2" r="1.9" fill="#ff7759"/>
<circle cx="257.9" cy="143.4" r="1.9" fill="#028002"/>
<circle cx="250.2" cy="155.4" r="1.9" fill="#007e00"/>
<circle cx="223.6" cy="187.6" r="1.9" fill="#57d942"/>
<circle cx="126.1" cy="295.6" r="1.9" fill="#ff684e"/>
<circle cx="189.8" cy="225.3" r="1.9" fill="#e2faa5"/>
<circle cx="223.3" cy="185.2" r="1.9" fill="#42c236"/>
<circle cx="165.8" cy="245.4" r="1.9" fill="#ffcf9a"/>
<circle cx="245.3" cy="147.9" r="1.9" fill="#209e20"/>
<circle cx="212.4" cy="176.7" r="1.9" fill="#42c236"/>
<circle cx="211.6" cy="199.6" r="1.9" fill="#40c036"/>
<circle cx="200.9" cy="198.5" r="1.9" fill="#90f762"/>
<circle cx="226.2" cy="169.6" r="1.9" fill="#8df760"/>
<circle cx="130.7" cy="289.9" r="1.9" fill="#ff694f"/>
<circle cx="255.5" cy="145.8" r="1.9" fill="#37b630"/>
<circle cx="243.0" cy="165.0" r="1.9" fill="#40bf35"/>
<circle cx="153.1" cy="265.2" r="1.9" fill="#ff634a"/>
<circle cx="149.7" cy="260.6" r="1.9" fill="#ff7054"/>
<circle cx="123.4" cy="291.6" r="1.9" fill="#ff7054"/>
<circle cx="192.5" cy="220.1" r="1.9" fill="#a1f86f"/>
<circle cx="231.6" cy="163.8" r="1.9" fill="#71ed50"/>
<circle cx="201.5" cy="187.1" r="1.9" fill="#fff8bc"/>
<circle cx="230.1" cy="160.1" r="1.9" fill="#5bdd44"/>
<circle cx="115.7" cy="309.3" r="1.9" fill="#ff6148"/>
<circle cx="190.2" cy="207.9" r="1.9" fill="#eefaaf"/>
<circle cx="241.2" cy="159.8" r="1.9" fill="#48c83a"/>
<circle cx="172.4" cy="243.5" r="1.9" fill="#ffe1a8"/>
<circle cx="222.2" cy="164.0" r="1.9" fill="#7ef457"/>
<circle cx="178.3" cy="231.1" r="1.9" fill="#d8fa9e"/>
<circle cx="254.4" cy="144.0" r="1.9" fill="#84f55b"/>
<circle cx="167.2" cy="250.7" r="1.9" fill="#ffc08f"/>
<circle cx="259.9" cy="145.6" r="1.9" fill="#038103"/>
<circle cx="103.9" cy="321.8" r="1.9" fill="#ff2f24"/>
<circle cx="244.8" cy="152.0" r="1.9" fill="#76f053"/>
<circle cx="147.7" cy="262.5" r="1.9" fill="#ffa57c"/>
<circle cx="112.9" cy="310.1" r="1.9" fill="#ff5a43"/>
<circle cx="204.6" cy="204.2" r="1.9" fill="#a4f872"/>
<circle cx="192.5" cy="209.9" r="1.9" fill="#96f866"/>
<circle cx="164.6" cy="238.6" r="1.9" fill="#ffb688"/>
<circle cx="245.1" cy="162.3" r="1.9" fill="#29a728"/>
<circle cx="146.2" cy="274.0" r="1.9" fill="#ff6149"/>
<circle cx="115.6" cy="307.0" r="1.9" fill="#ff5540"/>
<circle cx="202.7" cy="200.1" r="1.9" fill="#92f863"/>
<circle cx="186.6" cy="222.7" r="1.9" fill="#ffecb1"/>
<circle cx="250.7" cy="154.6" r="1.9" fill="#1f9d1f"/>
<circle cx="245.1" cy="158.8" r="1.9" fill="#29a729"/>
<circle cx="220.9" cy="184.7" r="1.9" fill="#83f55a"/>
<circle cx="197.0" cy="195.8" r="1.9" fill="#aff97b"/>
<circle cx="166.1" cy="251.3" r="1.9" fill="#ffa97e"/>
<circle cx="115.1" cy="307.8" r="1.9" fill="#ff3f30"/>
<circle cx="226.1" cy="166.3" r="1.9" fill="#59db43"/>
<circle cx="205.9" cy="208.8" r="1.9" fill="#9bf86a"/>
<circle cx="182.1" cy="222.1" r="1.9" fill="#ffd7a0"/>
<circle cx="176.4" cy="229.7" r="1.9" fill="#ffc190"/>
<circle cx="223.1" cy="170.3" r="1.9" fill="#54d540"/>
<circle cx="121.9" cy="293.4" r="1.9" fill="#ff533e"/>
<circle cx="186.6" cy="228.3" r="1.9" fill="#defaa3"/>
<circle cx="100.1" cy="317.6" r="1.9" fill="#ff2f24"/>
<circle cx="244.5" cy="157.0" r="1.9" fill="#209e20"/>
<circle cx="236.7" cy="160.1" r="1.9" fill="#32b12e"/>
<circle cx="184.9" cy="229.7" r="1.9" fill="#d0fa96"/>
<circle cx="158.6" cy="258.5" r="1.9" fill="#ff8866"/>
<circle cx="236.1" cy="168.7" r="1.9" fill="#3fbf35"/>
<circle cx="236.7" cy="166.2" r="1.9" fill="#1c9a1c"/>
<circle cx="137.4" cy="277.5" r="1.9" fill="#ff8866"/>
<circle cx="210.6" cy="200.7" r="1.9" fill="#8af65e"/>
<circle cx="219.5" cy="181.8" r="1.9" fill="#72ed51"/>
<circle cx="189.5" cy="256.5" r="1.9" fill="#8af65e"/>
<circle cx="240.9" cy="154.3" r="1.9" fill="#3fbf35"/>
<circle cx="201.3" cy="198.2" r="1.9" fill="#89f65d"/>
<circle cx="254.4" cy="149.9" r="1.9" fill="#4ccc3c"/>
<circle cx="251.6" cy="145.8" r="1.9" fill="#1d9b1d"/>
<circle cx="161.6" cy="248.6" r="1.9" fill="#ffa77d"/>
<circle cx="240.6" cy="155.6" r="1.9" fill="#23a123"/>
<circle cx="202.0" cy="211.5" r="1.9" fill="#b1f97c"/>
<circle cx="214.3" cy="195.2" r="1.9" fill="#74ef52"/>
<circle cx="145.9" cy="273.8" r="1.9" fill="#ff8b68"/>
<circle cx="258.6" cy="148.8" r="1.9" fill="#2cab2a"/>
<circle cx="210.2" cy="190.3" r="1.9" fill="#6be94d"/>
<circle cx="137.9" cy="279.6" r="1.9" fill="#ff8564"/>
<circle cx="242.1" cy="147.9" r="1.9" fill="#23a123"/>
<circle cx="238.0" cy="149.1" r="1.9" fill="#4dce3d"/>
<circle cx="232.3" cy="167.0" r="1.9" fill="#3bbb33"/>
<circle cx="189.3" cy="216.9" r="1.9" fill="#ffbf8e"/>
<circle cx="218.0" cy="178.4" r="1.9" fill="#54d540"/>
<circle cx="256.7" cy="141.7" r="1.9" fill="#54d540"/>
<circle cx="212.9" cy="179.1" r="1.9" fill="#3bba33"/>
<circle cx="205.7" cy="198.8" r="1.9" fill="#51d23f"/>
<circle cx="229.8" cy="170.9" r="1.9" fill="#59db43"/>
<circle cx="211.4" cy="201.3" r="1.9" fill="#7bf355"/>
<circle cx="223.4" cy="178.9" r="1.9" fill="#49c93a"/>
<circle cx="185.8" cy="212.2" r="1.9" fill="#ccf993"/>
<circle cx="212.8" cy="191.9" r="1.9" fill="#a6f873"/>
<circle cx="242.7" cy="164.1" r="1.9" fill="#0a880a"/>
<circle cx="235.0" cy="166.1" r="1.9" fill="#1a981a"/>
<circle cx="240.7" cy="150.2" r="1.9" fill="#5cde45"/>
<circle cx="167.2" cy="244.7" r="1.9" fill="#fff9bd"/>
<circle cx="225.6" cy="168.4" r="1.9" fill="#b2f97d"/>
<circle cx="259.6" cy="146.8" r="1.9" fill="#34b32f"/>
<circle cx="183.7" cy="224.1" r="1.9" fill="#ecfaae"/>
<circle cx="253.8" cy="146.9" r="1.9" fill="#37b630"/>
<circle cx="173.1" cy="233.6" r="1.9" fill="#ffe0a7"/>
<circle cx="175.8" cy="233.1" r="1.9" fill="#ff946f"/>
<circle cx="214.1" cy="174.8" r="1.9" fill="#6fec4f"/>
<circle cx="206.2" cy="192.2" r="1.9" fill="#61e248"/>
<circle cx="208.6" cy="204.1" r="1.9" fill="#d8fa9e"/>
<circle cx="128.1" cy="294.1" r="1.9" fill="#ff4b38"/>
<circle cx="137.8" cy="275.4" r="1.9" fill="#ff4937"/>
<circle cx="213.6" cy="181.4" r="1.9" fill="#6be84d"/>
<circle cx="187.0" cy="224.8" r="1.9" fill="#b8f982"/>
<circle cx="122.8" cy="289.0" r="1.9" fill="#ff7457"/>
<circle cx="253.5" cy="148.9" r="1.9" fill="#53d440"/>
<circle cx="201.8" cy="194.2" r="1.9" fill="#88f65d"/>
<circle cx="227.0" cy="180.4" r="1.9" fill="#22a022"/>
<circle cx="194.9" cy="202.9" r="1.9" fill="#d2fa99"/>
<circle cx="234.7" cy="175.0" r="1.9" fill="#219f21"/>
<circle cx="240.9" cy="153.7" r="1.9" fill="#6dea4e"/>
<circle cx="250.8" cy="156.4" r="1.9" fill="#0f8d0f"/>
<circle cx="248.6" cy="158.2" r="1.9" fill="#32b12e"/>
<circle cx="246.2" cy="153.8" r="1.9" fill="#0c8a0c"/>
<circle cx="224.6" cy="177.1" r="1.9" fill="#7cf456"/>
<circle cx="236.7" cy="159.1" r="1.9" fill="#2dac2b"/>
<circle cx="232.0" cy="171.2" r="1.9" fill="#76f053"/>
<circle cx="183.1" cy="215.6" r="1.9" fill="#d5fa9b"/>
<circle cx="123.7" cy="295.9" r="1.9" fill="#ff513d"/>
<circle cx="143.8" cy="266.3" r="1.9" fill="#ff5b45"/>
<circle cx="230.0" cy="182.0" r="1.9" fill="#219f21"/>
<circle cx="219.6" cy="171.9" r="1.9" fill="#8ef761"/>
<circle cx="207.2" cy="181.6" r="1.9" fill="#adf979"/>
<circle cx="213.8" cy="188.7" r="1.9" fill="#b9f983"/>
<circle cx="204.3" cy="187.8" r="1.9" fill="#87f65c"/>
<circle cx="224.5" cy="173.8" r="1.9" fill="#94f864"/>
<circle cx="222.4" cy="179.3" r="1.9" fill="#25a325"/>
<circle cx="205.5" cy="198.1" r="1.9" fill="#7ef457"/>
<circle cx="246.0" cy="151.4" r="1.9" fill="#4acb3b"/>
<circle cx="135.9" cy="286.5" r="1.9" fill="#ff5742"/>
<circle cx="205.2" cy="193.8" r="1.9" fill="#b8f982"/>
<circle cx="172.7" cy="244.2" r="1.9" fill="#ffcd99"/>
<circle cx="232.0" cy="156.6" r="1.9" fill="#6ae84d"/>
<circle cx="245.9" cy="161.3" r="1.9" fill="#52d440"/>
<circle cx="258.8" cy="147.4" r="1.9" fill="#1b991b"/>
<circle cx="142.4" cy="268.7" r="1.9" fill="#ff7457"/>
<circle cx="250.2" cy="153.0" r="1.9" fill="#3dbc34"/>
<circle cx="207.7" cy="195.5" r="1.9" fill="#5adc44"/>
<circle cx="218.2" cy="195.3" r="1.9" fill="#1d9b1d"/>
<circle cx="255.6" cy="141.2" r="1.9" fill="#56d842"/>
<circle cx="104.3" cy="318.6" r="1.9" fill="#ff211a"/>
<circle cx="171.4" cy="240.9" r="1.9" fill="#ffa77d"/>
<circle cx="148.5" cy="257.8" r="1.9" fill="#ff7e5e"/>
<circle cx="128.2" cy="281.3" r="1.9" fill="#ff5641"/>
<circle cx="199.2" cy="194.8" r="1.9" fill="#bcf986"/>
<circle cx="243.9" cy="164.4" r="1.9" fill="#43c337"/>
<circle cx="131.8" cy="280.1" r="1.9" fill="#ffb285"/>
<circle cx="149.1" cy="269.6" r="1.9" fill="#ff7c5d"/>
<circle cx="246.6" cy="148.4" r="1.9" fill="#149214"/>
<circle cx="179.7" cy="236.4" r="1.9" fill="#ffa57c"/>
<circle cx="212.7" cy="180.8" r="1.9" fill="#99f868"/>
<circle cx="198.3" cy="208.3" r="1.9" fill="#c9f991"/>
<circle cx="129.1" cy="282.8" r="1.9" fill="#ff7b5c"/>
<circle cx="196.8" cy="194.6" r="1.9" fill="#cbf992"/>
<circle cx="261.4" cy="142.5" r="1.9" fill="#118f11"/>
<circle cx="171.1" cy="240.7" r="1.9" fill="#ffd8a1"/>
<circle cx="191.5" cy="220.9" r="1.9" fill="#b6f980"/>
<circle cx="249.2" cy="153.6" r="1.9" fill="#2dab2b"/>
<circle cx="183.1" cy="219.1" r="1.9" fill="#ffb285"/>
<circle cx="200.7" cy="194.7" r="1.9" fill="#8bf75f"/>
<circle cx="195.0" cy="219.1" r="1.9" fill="#ffdfa6"/>
<circle cx="172.0" cy="244.9" r="1.9" fill="#ffe8ae"/>
<circle cx="126.8" cy="293.2" r="1.9" fill="#ff3b2d"/>
<circle cx="148.4" cy="269.0" r="1.9" fill="#ff7054"/>
<circle cx="143.7" cy="261.2" r="1.9" fill="#ff3226"/>
<circle cx="245.2" cy="151.2" r="1.9" fill="#4fd03e"/>
<circle cx="124.3" cy="297.9" r="1.9" fill="#ff2f24"/>
<circle cx="216.8" cy="177.6" r="1.9" fill="#4ecf3d"/>
<circle cx="238.5" cy="157.6" r="1.9" fill="#24a224"/>
<circle cx="225.9" cy="178.1" r="1.9" fill="#2ba92a"/>
<circle cx="234.5" cy="160.6" r="1.9" fill="#4ecf3d"/>
<circle cx="238.1" cy="170.9" r="1.9" fill="#29a728"/>
<circle cx="246.8" cy="146.9" r="1.9" fill="#23a123"/>
<circle cx="135.3" cy="285.6" r="1.9" fill="#ff7e5f"/>
<circle cx="172.3" cy="241.6" r="1.9" fill="#ffeaaf"/>
<circle cx="145.2" cy="275.1" r="1.9" fill="#ffbb8c"/>
<circle cx="224.8" cy="182.2" r="1.9" fill="#48c93a"/>
<circle cx="192.0" cy="224.3" r="1.9" fill="#f4fab5"/>
<circle cx="171.2" cy="246.0" r="1.9" fill="#ff8f6b"/>
<circle cx="189.7" cy="224.7" r="1.9" fill="#c8f990"/>
<circle cx="189.4" cy="224.2" r="1.9" fill="#e2faa5"/>
<circle cx="259.5" cy="143.6" r="1.9" fill="#0e8c0e"/>
<circle cx="161.4" cy="255.7" r="1.9" fill="#ffc794"/>
<circle cx="130.1" cy="291.7" r="1.9" fill="#ff5641"/>
<circle cx="232.1" cy="164.1" r="1.9" fill="#219f21"/>
<circle cx="145.3" cy="273.3" r="1.9" fill="#ff7c5d"/>
<circle cx="257.9" cy="149.9" r="1.9" fill="#0a880a"/>
<circle cx="254.5" cy="152.5" r="1.9" fill="#209e20"/>
<circle cx="253.3" cy="153.0" r="1.9" fill="#34b32f"/>
<circle cx="173.0" cy="237.1" r="1.9" fill="#ffcb97"/>
<circle cx="117.7" cy="294.9" r="1.9" fill="#ff7054"/>
<circle cx="174.4" cy="231.9" r="1.9" fill="#f3fab4"/>
<circle cx="205.6" cy="202.9" r="1.9" fill="#56d842"/>
<circle cx="245.3" cy="154.8" r="1.9" fill="#29a729"/>
<circle cx="248.8" cy="157.7" r="1.9" fill="#45c638"/>
<circle cx="168.2" cy="247.7" r="1.9" fill="#ff9a73"/>
<circle cx="260.1" cy="141.9" r="1.9" fill="#0a880a"/>
<circle cx="125.6" cy="292.1" r="1.9" fill="#ff3e2f"/>
<circle cx="258.5" cy="145.5" r="1.9" fill="#4aca3b"/>
<circle cx="221.8" cy="173.8" r="1.9" fill="#42c236"/>
<circle cx="253.6" cy="141.4" r="1.9" fill="#3fbf35"/>
<circle cx="235.9" cy="166.9" r="1.9" fill="#47c739"/>
<circle cx="230.2" cy="180.6" r="1.9" fill="#22a022"/>
<circle cx="221.2" cy="186.2" r="1.9" fill="#55d641"/>
<circle cx="243.7" cy="148.9" r="1.9" fill="#81f559"/>
<circle cx="262.6" cy="143.2" r="1.9" fill="#007e00"/>
<circle cx="204.9" cy="200.3" r="1.9" fill="#8ff761"/>
<circle cx="97.3" cy="323.9" r="1.9" fill="#ff1813"/>
<circle cx="202.4" cy="200.1" r="1.9" fill="#96f866"/>
<circle cx="106.4" cy="310.3" r="1.9" fill="#ff130f"/>
<circle cx="249.9" cy="147.6" r="1.9" fill="#007e00"/>
<circle cx="106.3" cy="307.9" r="1.9" fill="#ff3528"/>
<circle cx="241.6" cy="152.6" r="1.9" fill="#45c538"/>
<circle cx="255.3" cy="152.4" r="1.9" fill="#088608"/>
<circle cx="234.9" cy="168.8" r="1.9" fill="#179517"/>
<circle cx="152.0" cy="264.7" r="1.9" fill="#ff916c"/>
<circle cx="180.2" cy="233.7" r="1.9" fill="#ffe3aa"/>
<circle cx="252.7" cy="142.9" r="1.9" fill="#1e9c1e"/>
<circle cx="248.3" cy="156.1" r="1.9" fill="#4ccc3c"/>
<circle cx="114.2" cy="300.7" r="1.9" fill="#ff231b"/>
<circle cx="210.3" cy="198.8" r="1.9" fill="#aef97a"/>
<circle cx="170.5" cy="245.6" r="1.9" fill="#ffc794"/>
<circle cx="196.9" cy="217.6" r="1.9" fill="#e9faac"/>
<circle cx="215.8" cy="179.5" r="1.9" fill="#56d842"/>
<circle cx="242.1" cy="153.1" r="1.9" fill="#209e20"/>
<circle cx="186.0" cy="208.2" r="1.9" fill="#bbf985"/>
<circle cx="197.1" cy="218.0" r="1.9" fill="#a7f874"/>
<circle cx="254.5" cy="141.5" r="1.9" fill="#82f55a"/>
<circle cx="251.4" cy="146.4" r="1.9" fill="#0f8d0f"/>
<circle cx="187.4" cy="217.2" r="1.9" fill="#aff97b"/>
<circle cx="173.5" cy="242.7" r="1.9" fill="#ffe2a9"/>
<circle cx="258.9" cy="147.9" r="1.9" fill="#149214"/>
<circle cx="224.1" cy="179.3" r="1.9" fill="#1f9d1f"/>
<circle cx="227.6" cy="173.0" r="1.9" fill="#3dbc34"/>
<circle cx="218.2" cy="166.1" r="1.9" fill="#6feb4f"/>
<circle cx="232.0" cy="167.5" r="1.9" fill="#0d8b0d"/>
<circle cx="193.6" cy="199.2" r="1.9" fill="#f6fab7"/>
<circle cx="106.3" cy="310.6" r="1.9" fill="#ff3427"/>
<circle cx="226.0" cy="167.1" r="1.9" fill="#32b02d"/>
<circle cx="253.2" cy="141.9" r="1.9" fill="#4bcc3b"/>
<circle cx="232.3" cy="155.7" r="1.9" fill="#56d842"/>
<circle cx="194.8" cy="207.2" r="1.9" fill="#90f762"/>
<circle cx="231.6" cy="171.2" r="1.9" fill="#0f8d0f"/>
<circle cx="235.5" cy="173.2" r="1.9" fill="#27a527"/>
<circle cx="204.5" cy="198.5" r="1.9" fill="#a0f86e"/>
<circle cx="136.5" cy="284.8" r="1.9" fill="#ff4f3c"/>
<circle cx="229.0" cy="177.4" r="1.9" fill="#22a022"/>
<circle cx="217.9" cy="169.5" r="1.9" fill="#89f65e"/>
<circle cx="203.8" cy="190.1" r="1.9" fill="#c4f98c"/>
<circle cx="173.4" cy="233.9" r="1.9" fill="#ffc694"/>
<circle cx="258.6" cy="147.4" r="1.9" fill="#007e00"/>
<circle cx="208.6" cy="179.8" r="1.9" fill="#65e54a"/>
<circle cx="228.0" cy="211.0" r="1.9" fill="#43c337"/>
<circle cx="260.6" cy="140.4" r="1.9" fill="#219f21"/>
<circle cx="254.0" cy="153.5" r="1.9" fill="#41c136"/>
<circle cx="173.1" cy="243.5" r="1.9" fill="#ffeeb4"/>
<circle cx="248.6" cy="145.7" r="1.9" fill="#28a628"/>
<circle cx="213.4" cy="185.5" r="1.9" fill="#82f55a"/>
<circle cx="239.9" cy="150.4" r="1.9" fill="#31b02d"/>
<circle cx="248.8" cy="154.7" r="1.9" fill="#0d8b0d"/>
<circle cx="247.9" cy="147.4" r="1.9" fill="#1a981a"/>
<circle cx="210.2" cy="174.3" r="1.9" fill="#c4f98c"/>
<circle cx="255.5" cy="143.7" r="1.9" fill="#007e00"/>
<circle cx="199.8" cy="204.4" r="1.9" fill="#a3f871"/>
<circle cx="245.6" cy="152.4" r="1.9" fill="#2baa2a"/>
<circle cx="220.5" cy="185.6" r="1.9" fill="#8bf75f"/>
<circle cx="180.5" cy="231.9" r="1.9" fill="#fff1b6"/>
<circle cx="213.2" cy="195.3" r="1.9" fill="#89f65e"/>
<circle cx="210.6" cy="191.3" r="1.9" fill="#85f55b"/>
<circle cx="239.2" cy="163.8" r="1.9" fill="#007e00"/>
<circle cx="187.4" cy="212.3" r="1.9" fill="#bff988"/>
<circle cx="134.5" cy="276.2" r="1.9" fill="#ff4534"/>
<circle cx="234.9" cy="171.3" r="1.9" fill="#3ab932"/>
<circle cx="238.9" cy="149.2" r="1.9" fill="#a9f976"/>
<circle cx="234.2" cy="168.8" r="1.9" fill="#5adc44"/>
<circle cx="183.2" cy="232.0" r="1.9" fill="#ffdea5"/>
<circle cx="226.4" cy="171.0" r="1.9" fill="#6fec4f"/>
<circle cx="144.0" cy="272.6" r="1.9" fill="#ffb386"/>
<circle cx="161.8" cy="238.5" r="1.9" fill="#ff9c75"/>
<circle cx="132.6" cy="285.6" r="1.9" fill="#ff664d"/>
<circle cx="209.5" cy="180.6" r="1.9" fill="#74ef52"/>
<circle cx="186.0" cy="228.9" r="1.9" fill="#cbf992"/>
<circle cx="205.7" cy="184.9" r="1.9" fill="#65e54a"/>
<circle cx="177.4" cy="236.5" r="1.9" fill="#ff8564"/>
<circle cx="178.6" cy="223.0" r="1.9" fill="#70ec4f"/>
<circle cx="216.7" cy="167.2" r="1.9" fill="#cbf992"/>
<circle cx="222.2" cy="164.0" r="1.9" fill="#84f55a"/>
<circle cx="243.0" cy="160.0" r="1.9" fill="#51d23f"/>
<circle cx="195.4" cy="212.5" r="1.9" fill="#84f55b"/>
<circle cx="243.4" cy="154.6" r="1.9" fill="#34b32f"/>
<circle cx="173.8" cy="248.4" r="1.9" fill="#209e20"/>
<circle cx="197.3" cy="192.1" r="1.9" fill="#8df760"/>
<circle cx="101.8" cy="319.7" r="1.9" fill="#ff4030"/>
<circle cx="176.8" cy="236.4" r="1.9" fill="#fff4b9"/>
<circle cx="190.0" cy="224.0" r="1.9" fill="#f5fab6"/>
<circle cx="153.4" cy="266.7" r="1.9" fill="#ff8f6c"/>
<circle cx="189.6" cy="224.9" r="1.9" fill="#a0f86e"/>
<circle cx="250.5" cy="144.9" r="1.9" fill="#44c437"/>
<circle cx="227.2" cy="179.3" r="1.9" fill="#4fcf3d"/>
<circle cx="244.8" cy="152.8" r="1.9" fill="#007e00"/>
<circle cx="202.5" cy="204.4" r="1.9" fill="#6dea4e"/>
<circle cx="100.6" cy="322.6" r="1.9" fill="#ff2f24"/>
<circle cx="188.7" cy="219.6" r="1.9" fill="#dffaa3"/>
<circle cx="230.0" cy="178.1" r="1.9" fill="#64e449"/>
<circle cx="122.1" cy="295.5" r="1.9" fill="#ff4433"/>
<circle cx="168.9" cy="249.2" r="1.9" fill="#ffa37a"/>
<circle cx="221.2" cy="187.9" r="1.9" fill="#2dac2b"/>
<circle cx="132.1" cy="278.7" r="1.9" fill="#ff9972"/>
<circle cx="212.6" cy="190.3" r="1.9" fill="#96f866"/>
<circle cx="243.7" cy="147.9" r="1.9" fill="#3fbe35"/>
<circle cx="226.1" cy="178.9" r="1.9" fill="#2dac2b"/>
<circle cx="238.9" cy="157.1" r="1.9" fill="#3ebe34"/>
<circle cx="190.7" cy="219.7" r="1.9" fill="#b7f981"/>
<circle cx="225.3" cy="168.5" r="1.9" fill="#81f559"/>
<circle cx="229.7" cy="176.7" r="1.9" fill="#47c839"/>
<circle cx="203.2" cy="185.5" r="1.9" fill="#7ff458"/>
<circle cx="212.9" cy="178.0" r="1.9" fill="#b6f980"/>
<circle cx="212.2" cy="181.1" r="1.9" fill="#82f559"/>
<circle cx="188.8" cy="226.8" r="1.9" fill="#9ff86d"/>
<circle cx="251.3" cy="148.0" r="1.9" fill="#129012"/>
<circle cx="253.7" cy="146.2" r="1.9" fill="#84f55b"/>
<circle cx="131.8" cy="286.4" r="1.9" fill="#ff4634"/>
<circle cx="163.0" cy="238.3" r="1.9" fill="#ff684e"/>
<circle cx="224.2" cy="165.0" r="1.9" fill="#5fe147"/>
<circle cx="220.1" cy="191.5" r="1.9" fill="#a5f873"/>
<circle cx="233.4" cy="171.3" r="1.9" fill="#47c839"/>
<circle cx="101.7" cy="316.4" r="1.9" fill="#ff0c09"/>
<circle cx="191.3" cy="219.3" r="1.9" fill="#97f866"/>
<circle cx="188.4" cy="225.7" r="1.9" fill="#f2fab3"/>
<circle cx="258.8" cy="140.1" r="1.9" fill="#7ff558"/>
<circle cx="175.3" cy="238.9" r="1.9" fill="#ffcd99"/>
<circle cx="220.1" cy="185.6" r="1.9" fill="#5adc44"/>
<circle cx="197.4" cy="193.1" r="1.9" fill="#78f254"/>
<circle cx="144.1" cy="262.4" r="1.9" fill="#ff8b68"/>
<circle cx="228.3" cy="172.2" r="1.9" fill="#57d942"/>
<circle cx="148.7" cy="270.2" r="1.9" fill="#ff6b50"/>
<circle cx="239.9" cy="167.2" r="1.9" fill="#31b02d"/>
<circle cx="172.3" cy="244.2" r="1.9" fill="#ffc996"/>
<circle cx="228.7" cy="167.2" r="1.9" fill="#c8f990"/>
<circle cx="228.7" cy="178.9" r="1.9" fill="#76f053"/>
<circle cx="260.1" cy="141.8" r="1.9" fill="#3fbe35"/>
<circle cx="196.7" cy="222.5" r="1.9" fill="#5ee046"/>
<circle cx="206.8" cy="205.0" r="1.9" fill="#75ef52"/>
<circle cx="220.5" cy="183.9" r="1.9" fill="#27a527"/>
<circle cx="250.0" cy="144.0" r="1.9" fill="#4ece3d"/>
<circle cx="138.4" cy="273.3" r="1.9" fill="#ff7f5f"/>
<circle cx="258.4" cy="142.2" r="1.9" fill="#6eeb4f"/>
<circle cx="134.5" cy="276.5" r="1.9" fill="#ff7054"/>
<circle cx="241.2" cy="147.7" r="1.9" fill="#72ed51"/>
<circle cx="188.1" cy="226.0" r="1.9" fill="#96f866"/>
<circle cx="212.8" cy="200.6" r="1.9" fill="#5ddf45"/>
<circle cx="162.7" cy="239.2" r="1.9" fill="#ffab80"/>
<circle cx="114.7" cy="305.5" r="1.9" fill="#ff3125"/>
<circle cx="186.8" cy="226.9" r="1.9" fill="#adf979"/>
<circle cx="216.6" cy="183.4" r="1.9" fill="#1c9a1c"/>
<circle cx="198.0" cy="215.6" r="1.9" fill="#6dea4e"/>
<circle cx="241.8" cy="149.3" r="1.9" fill="#28a628"/>
<circle cx="220.9" cy="190.4" r="1.9" fill="#39b932"/>
<circle cx="116.4" cy="306.2" r="1.9" fill="#ff372a"/>
<circle cx="140.8" cy="274.3" r="1.9" fill="#ff8866"/>
<circle cx="223.3" cy="164.4" r="1.9" fill="#7bf355"/>
<circle cx="191.9" cy="204.4" r="1.9" fill="#7af355"/>
<circle cx="257.5" cy="140.4" r="1.9" fill="#6dea4e"/>
<circle cx="150.9" cy="252.3" r="1.9" fill="#ffad82"/>
<circle cx="184.8" cy="221.7" r="1.9" fill="#f1fab2"/>
<circle cx="206.4" cy="207.3" r="1.9" fill="#73ee51"/>
<circle cx="239.7" cy="163.7" r="1.9" fill="#088608"/>
<circle cx="238.4" cy="166.3" r="1.9" fill="#2ba929"/>
<circle cx="217.3" cy="189.2" r="1.9" fill="#47c739"/>
<circle cx="196.6" cy="215.4" r="1.9" fill="#cbf992"/>
<circle cx="197.5" cy="211.3" r="1.9" fill="#71ec50"/>
<circle cx="136.7" cy="284.9" r="1.9" fill="#ff4635"/>
<circle cx="219.1" cy="169.4" r="1.9" fill="#42c236"/>
<circle cx="202.9" cy="203.1" r="1.9" fill="#b0f97c"/>
<circle cx="139.5" cy="275.6" r="1.9" fill="#ff8765"/>
<circle cx="180.6" cy="226.1" r="1.9" fill="#effab1"/>
<circle cx="201.5" cy="200.3" r="1.9" fill="#62e348"/>
<circle cx="238.1" cy="150.0" r="1.9" fill="#6ae84c"/>
<circle cx="217.8" cy="173.0" r="1.9" fill="#70ec50"/>
<circle cx="208.4" cy="201.5" r="1.9" fill="#e1faa5"/>
<circle cx="188.1" cy="224.7" r="1.9" fill="#e6faa9"/>
<circle cx="177.8" cy="219.0" r="1.9" fill="#e4faa7"/>
<circle cx="165.5" cy="250.6" r="1.9" fill="#ff9671"/>
<circle cx="154.0" cy="262.8" r="1.9" fill="#ffd8a1"/>
<circle cx="207.5" cy="178.4" r="1.9" fill="#75f053"/>
<circle cx="216.9" cy="177.5" r="1.9" fill="#50d13e"/>
<circle cx="249.0" cy="147.9" r="1.9" fill="#1d9b1d"/>
<circle cx="170.6" cy="246.1" r="1.9" fill="#ffd49e"/>
<circle cx="202.0" cy="198.4" r="1.9" fill="#dbfaa0"/>
<circle cx="192.8" cy="210.4" r="1.9" fill="#dafa9f"/>
<circle cx="228.5" cy="164.7" r="1.9" fill="#098709"/>
<circle cx="257.9" cy="147.4" r="1.9" fill="#58d942"/>
<circle cx="157.5" cy="253.7" r="1.9" fill="#ffc190"/>
<circle cx="235.7" cy="172.5" r="1.9" fill="#51d23f"/>
<circle cx="130.0" cy="285.6" r="1.9" fill="#ff5c45"/>
<circle cx="207.8" cy="181.2" r="1.9" fill="#59db43"/>
<circle cx="191.2" cy="221.7" r="1.9" fill="#a8f975"/>
<circle cx="118.7" cy="303.9" r="1.9" fill="#ff382a"/>
<circle cx="177.9" cy="219.2" r="1.9" fill="#dafa9f"/>
<circle cx="164.1" cy="249.3" r="1.9" fill="#ffdaa2"/>
<circle cx="220.2" cy="189.6" r="1.9" fill="#55d741"/>
<circle cx="231.5" cy="167.6" r="1.9" fill="#3aba32"/>
<circle cx="228.2" cy="159.6" r="1.9" fill="#078507"/>
<circle cx="154.8" cy="264.1" r="1.9" fill="#ff6d52"/>
<circle cx="209.9" cy="185.1" r="1.9" fill="#92f863"/>
<circle cx="219.4" cy="176.4" r="1.9" fill="#70ec50"/>
<circle cx="138.6" cy="277.5" r="1.9" fill="#ff8c69"/>
<circle cx="250.8" cy="156.6" r="1.9" fill="#108e10"/>
<circle cx="223.9" cy="173.2" r="1.9" fill="#54d540"/>
<circle cx="194.6" cy="217.1" r="1.9" fill="#8ff761"/>
<circle cx="206.0" cy="195.8" r="1.9" fill="#8ff761"/>
<circle cx="162.9" cy="249.4" r="1.9" fill="#ff9872"/>
<circle cx="203.0" cy="184.4" r="1.9" fill="#7ff558"/>
<circle cx="154.8" cy="249.0" r="1.9" fill="#ffdfa6"/>
<circle cx="255.0" cy="145.2" r="1.9" fill="#2caa2a"/>
<circle cx="244.2" cy="163.3" r="1.9" fill="#85f55b"/>
<circle cx="193.5" cy="216.5" r="1.9" fill="#ccf993"/>
<circle cx="239.0" cy="163.7" r="1.9" fill="#72ed51"/>
<circle cx="131.7" cy="291.7" r="1.9" fill="#ff7558"/>
<circle cx="113.6" cy="310.2" r="1.9" fill="#ff2f24"/>
<circle cx="250.6" cy="145.1" r="1.9" fill="#0f8d0f"/>
<circle cx="100.2" cy="317.9" r="1.9" fill="#ff2c22"/>
<circle cx="226.2" cy="178.9" r="1.9" fill="#25a325"/>
<circle cx="159.6" cy="253.5" r="1.9" fill="#ff9872"/>
<circle cx="153.6" cy="255.1" r="1.9" fill="#ff906c"/>
<circle cx="178.3" cy="225.5" r="1.9" fill="#ffe1a8"/>
<circle cx="242.1" cy="158.3" r="1.9" fill="#28a628"/>
<circle cx="231.8" cy="165.2" r="1.9" fill="#7bf355"/>
<circle cx="243.1" cy="156.7" r="1.9" fill="#159315"/>
<circle cx="227.1" cy="182.8" r="1.9" fill="#6cea4e"/>
<circle cx="189.0" cy="224.3" r="1.9" fill="#c5f98d"/>
<circle cx="237.9" cy="165.2" r="1.9" fill="#58d942"/>
<circle cx="127.6" cy="293.4" r="1.9" fill="#ff5c45"/>
<circle cx="217.6" cy="168.3" r="1.9" fill="#83f55a"/>
<circle cx="103.8" cy="319.7" r="1.9" fill="#ff0a08"/>
<circle cx="239.9" cy="170.4" r="1.9" fill="#1e9c1e"/>
<circle cx="231.7" cy="163.2" r="1.9" fill="#31af2d"/>
<circle cx="261.2" cy="144.1" r="1.9" fill="#007e00"/>
<circle cx="194.7" cy="206.1" r="1.9" fill="#89f65d"/>
<circle cx="198.1" cy="209.6" r="1.9" fill="#a8f975"/>
<circle cx="258.9" cy="144.5" r="1.9" fill="#57d842"/>
<circle cx="117.7" cy="301.6" r="1.9" fill="#ff2b21"/>
<circle cx="152.7" cy="261.6" r="1.9" fill="#ffad81"/>
<circle cx="244.9" cy="148.5" r="1.9" fill="#47c739"/>
<circle cx="255.7" cy="143.5" r="1.9" fill="#69e74c"/>
<circle cx="217.1" cy="192.3" r="1.9" fill="#4bcc3c"/>
<circle cx="255.5" cy="150.1" r="1.9" fill="#007e00"/>
<circle cx="216.9" cy="186.3" r="1.9" fill="#aaf976"/>
<circle cx="206.5" cy="187.9" r="1.9" fill="#92f863"/>
<circle cx="99.8" cy="324.9" r="1.9" fill="#ff2019"/>
<circle cx="193.0" cy="220.0" r="1.9" fill="#effab0"/>
<circle cx="205.1" cy="198.6" r="1.9" fill="#c4f98c"/>
<circle cx="241.1" cy="148.1" r="1.9" fill="#5adc44"/>
<circle cx="200.7" cy="211.9" r="1.9" fill="#82f55a"/>
<circle cx="146.2" cy="260.8" r="1.9" fill="#ff8866"/>
<circle cx="137.0" cy="284.9" r="1.9" fill="#ff7f60"/>
<circle cx="259.9" cy="139.8" r="1.9" fill="#149214"/>
<circle cx="205.2" cy="206.1" r="1.9" fill="#61e248"/>
<circle cx="221.7" cy="169.5" r="1.9" fill="#46c639"/>
<circle cx="181.3" cy="223.4" r="1.9" fill="#f6fab7"/>
<circle cx="161.0" cy="244.4" r="1.9" fill="#ffac81"/>
<circle cx="234.7" cy="170.1" r="1.9" fill="#52d33f"/>
<circle cx="223.1" cy="186.4" r="1.9" fill="#9ff86e"/>
<circle cx="125.9" cy="296.2" r="1.9" fill="#ff7b5c"/>
<circle cx="231.6" cy="160.1" r="1.9" fill="#56d742"/>
<circle cx="164.6" cy="251.2" r="1.9" fill="#ffc895"/>
<circle cx="122.8" cy="289.0" r="1.9" fill="#ff5b45"/>
<circle cx="176.4" cy="240.7" r="1.9" fill="#ffc190"/>
<circle cx="169.0" cy="246.5" r="1.9" fill="#fff0b5"/>
<circle cx="176.0" cy="232.5" r="1.9" fill="#ebfaae"/>
<circle cx="212.0" cy="201.0" r="1.9" fill="#4bcb3b"/>
<circle cx="252.6" cy="150.4" r="1.9" fill="#179517"/>
<circle cx="205.6" cy="197.6" r="1.9" fill="#43c437"/>
<circle cx="182.0" cy="222.7" r="1.9" fill="#fff8bc"/>
<circle cx="217.6" cy="169.0" r="1.9" fill="#159315"/>
<circle cx="205.0" cy="202.3" r="1.9" fill="#c2f98b"/>
<circle cx="231.0" cy="168.4" r="1.9" fill="#50d13e"/>
<circle cx="227.8" cy="162.1" r="1.9" fill="#6ce94d"/>
<circle cx="161.7" cy="253.6" r="1.9" fill="#ffa57c"/>
<circle cx="193.1" cy="213.3" r="1.9" fill="#9bf86a"/>
<circle cx="185.6" cy="223.4" r="1.9" fill="#ffedb2"/>
<circle cx="180.1" cy="229.6" r="1.9" fill="#fff8bc"/>
<circle cx="168.1" cy="236.2" r="1.9" fill="#ff9a73"/>
<circle cx="108.5" cy="312.2" r="1.9" fill="#ff271e"/>
<circle cx="209.5" cy="178.2" r="1.9" fill="#6ae84d"/>
<circle cx="233.9" cy="167.6" r="1.9" fill="#84f55b"/>
<circle cx="220.4" cy="185.7" r="1.9" fill="#39b932"/>
<circle cx="198.0" cy="209.1" r="1.9" fill="#95f865"/>
<circle cx="212.1" cy="188.3" r="1.9" fill="#f1fab3"/>
<circle cx="227.0" cy="161.9" r="1.9" fill="#48c83a"/>
<circle cx="162.2" cy="253.1" r="1.9" fill="#ffa078"/>
<circle cx="244.1" cy="148.1" r="1.9" fill="#74ef52"/>
<circle cx="257.9" cy="147.4" r="1.9" fill="#24a224"/>
<circle cx="217.0" cy="194.2" r="1.9" fill="#90f762"/>
<circle cx="211.0" cy="195.1" r="1.9" fill="#c3f98c"/>
<circle cx="156.4" cy="263.0" r="1.9" fill="#ff8362"/>
<circle cx="179.5" cy="227.4" r="1.9" fill="#ffb688"/>
<circle cx="200.1" cy="213.3" r="1.9" fill="#82f55a"/>
<circle cx="238.8" cy="149.0" r="1.9" fill="#3fbf35"/>
<circle cx="140.5" cy="266.1" r="1.9" fill="#ff644b"/>
<circle cx="242.9" cy="155.2" r="1.9" fill="#0b890b"/>
<circle cx="217.7" cy="179.3" r="1.9" fill="#88f65d"/>
<circle cx="254.2" cy="144.8" r="1.9" fill="#0a880a"/>
<circle cx="262.0" cy="142.7" r="1.9" fill="#29a729"/>
<circle cx="233.4" cy="162.8" r="1.9" fill="#5ddf46"/>
<circle cx="203.3" cy="191.0" r="1.9" fill="#81f559"/>
<circle cx="233.7" cy="159.5" r="1.9" fill="#0d8b0d"/>
<circle cx="227.0" cy="175.7" r="1.9" fill="#219f21"/>
<circle cx="209.9" cy="200.0" r="1.9" fill="#51d23f"/>
<circle cx="207.3" cy="183.6" r="1.9" fill="#82f559"/>
<circle cx="251.8" cy="146.4" r="1.9" fill="#3fbe35"/>
<circle cx="197.4" cy="201.3" r="1.9" fill="#bdf986"/>
<circle cx="201.5" cy="191.9" r="1.9" fill="#88f65d"/>
<circle cx="187.7" cy="227.4" r="1.9" fill="#dffaa3"/>
<circle cx="166.9" cy="235.7" r="1.9" fill="#f6fab7"/>
<circle cx="258.6" cy="142.9" r="1.9" fill="#50d13e"/>
<circle cx="185.8" cy="227.6" r="1.9" fill="#e6faa9"/>
<circle cx="211.1" cy="189.3" r="1.9" fill="#aef97a"/>
<circle cx="212.0" cy="215.0" r="1.9" fill="#43c337"/>
<circle cx="110.5" cy="303.2" r="1.9" fill="#ff4433"/>
<circle cx="188.3" cy="211.6" r="1.9" fill="#9ef86c"/>
<circle cx="134.1" cy="280.2" r="1.9" fill="#ff523d"/>
<circle cx="259.2" cy="141.4" r="1.9" fill="#65e44a"/>
<circle cx="145.5" cy="274.5" r="1.9" fill="#ff906c"/>
<circle cx="217.6" cy="167.5" r="1.9" fill="#e6faa9"/>
<circle cx="232.9" cy="173.2" r="1.9" fill="#32b12e"/>
<circle cx="144.6" cy="276.4" r="1.9" fill="#ff7b5c"/>
<circle cx="232.6" cy="159.1" r="1.9" fill="#4dcd3c"/>
<circle cx="261.6" cy="145.1" r="1.9" fill="#118f11"/>
<circle cx="256.2" cy="149.5" r="1.9" fill="#28a628"/>
<circle cx="170.1" cy="231.9" r="1.9" fill="#ffe4ab"/>
<circle cx="182.1" cy="218.5" r="1.9" fill="#f7fab7"/>
<circle cx="245.4" cy="160.9" r="1.9" fill="#179517"/>
<circle cx="224.0" cy="182.3" r="1.9" fill="#49c93a"/>
<circle cx="117.2" cy="298.2" r="1.9" fill="#ff7b5c"/>
<circle cx="248.5" cy="161.7" r="1.9" fill="#41c136"/>
<circle cx="245.0" cy="147.5" r="1.9" fill="#55d641"/>
<circle cx="222.3" cy="186.6" r="1.9" fill="#80f558"/>
<circle cx="172.9" cy="230.0" r="1.9" fill="#ffbf8f"/>
<circle cx="210.8" cy="200.2" r="1.9" fill="#b6f980"/>
<circle cx="251.1" cy="146.4" r="1.9" fill="#52d440"/>
<circle cx="179.1" cy="222.6" r="1.9" fill="#f3fab4"/>
<circle cx="212.0" cy="177.2" r="1.9" fill="#74ef52"/>
<circle cx="175.6" cy="240.3" r="1.9" fill="#ffce99"/>
<circle cx="190.4" cy="226.1" r="1.9" fill="#ffe0a7"/>
<circle cx="199.9" cy="200.0" r="1.9" fill="#b3f97e"/>
<circle cx="255.8" cy="149.2" r="1.9" fill="#007e00"/>
<circle cx="232.1" cy="174.2" r="1.9" fill="#38b731"/>
<circle cx="232.8" cy="163.2" r="1.9" fill="#84f55b"/>
<circle cx="162.2" cy="255.1" r="1.9" fill="#ff9670"/>
<circle cx="217.7" cy="184.8" r="1.9" fill="#49ca3a"/>
<circle cx="228.3" cy="167.7" r="1.9" fill="#179517"/>
<circle cx="159.3" cy="246.9" r="1.9" fill="#ffba8b"/>
<circle cx="112.3" cy="312.5" r="1.9" fill="#ff4332"/>
<circle cx="211.4" cy="174.3" r="1.9" fill="#79f255"/>
<circle cx="205.2" cy="197.4" r="1.9" fill="#33b22e"/>
<circle cx="200.4" cy="211.1" r="1.9" fill="#d1fa98"/>
<circle cx="258.2" cy="140.5" r="1.9" fill="#34b32f"/>
<circle cx="228.3" cy="179.9" r="1.9" fill="#34b32f"/>
<circle cx="249.4" cy="157.2" r="1.9" fill="#007e00"/>
<circle cx="178.8" cy="232.5" r="1.9" fill="#f0fab2"/>
<circle cx="157.2" cy="249.4" r="1.9" fill="#ffcc98"/>
<circle cx="254.4" cy="151.5" r="1.9" fill="#5adc44"/>
<circle cx="245.0" cy="162.0" r="1.9" fill="#179517"/>
<circle cx="255.1" cy="140.4" r="1.9" fill="#5ee046"/>
<circle cx="241.5" cy="166.6" r="1.9" fill="#22a022"/>
<circle cx="260.1" cy="146.3" r="1.9" fill="#007e00"/>
<circle cx="155.9" cy="250.2" r="1.9" fill="#ff946f"/>
<circle cx="204.5" cy="184.9" r="1.9" fill="#60e147"/>
<circle cx="247.5" cy="154.4" r="1.9" fill="#48c93a"/>
<circle cx="222.2" cy="166.8" r="1.9" fill="#37b630"/>
<circle cx="207.4" cy="196.2" r="1.9" fill="#44c438"/>
<circle cx="196.7" cy="213.9" r="1.9" fill="#c5f98d"/>
<circle cx="124.2" cy="296.8" r="1.9" fill="#ff4232"/>
<circle cx="122.6" cy="299.8" r="1.9" fill="#ff3e2f"/>
<circle cx="153.9" cy="252.2" r="1.9" fill="#ffb084"/>
<circle cx="221.5" cy="187.1" r="1.9" fill="#62e348"/>
<circle cx="221.7" cy="190.6" r="1.9" fill="#2fae2c"/>
<circle cx="222.6" cy="163.5" r="1.9" fill="#4dce3d"/>
<circle cx="206.7" cy="194.9" r="1.9" fill="#a1f86f"/>
<circle cx="247.0" cy="145.8" r="1.9" fill="#44c437"/>
<circle cx="212.5" cy="188.4" r="1.9" fill="#61e247"/>
<circle cx="225.5" cy="164.8" r="1.9" fill="#66e64a"/>
<circle cx="177.6" cy="235.2" r="1.9" fill="#ffedb2"/>
<circle cx="251.6" cy="157.9" r="1.9" fill="#007e00"/>
<circle cx="183.3" cy="218.7" r="1.9" fill="#e7faaa"/>
<circle cx="245.1" cy="147.3" r="1.9" fill="#3aba32"/>
<circle cx="214.0" cy="191.6" r="1.9" fill="#52d33f"/>
<circle cx="233.9" cy="172.1" r="1.9" fill="#49ca3a"/>
<circle cx="161.4" cy="254.6" r="1.9" fill="#ff6149"/>
<circle cx="121.5" cy="302.1" r="1.9" fill="#ff5943"/>
<circle cx="240.4" cy="149.7" r="1.9" fill="#54d541"/>
<circle cx="161.4" cy="244.4" r="1.9" fill="#ffad82"/>
<circle cx="153.1" cy="262.5" r="1.9" fill="#ff6149"/>
<circle cx="216.8" cy="191.2" r="1.9" fill="#4ecf3d"/>
<circle cx="129.9" cy="290.2" r="1.9" fill="#ff6f53"/>
<circle cx="226.2" cy="184.7" r="1.9" fill="#57d842"/>
<circle cx="257.4" cy="142.7" r="1.9" fill="#007e00"/>
<circle cx="168.9" cy="246.1" r="1.9" fill="#ff9c75"/>
<circle cx="220.8" cy="188.1" r="1.9" fill="#52d33f"/>
<circle cx="200.1" cy="193.2" r="1.9" fill="#8bf65f"/>
<circle cx="231.1" cy="160.9" r="1.9" fill="#5bdd44"/>
<circle cx="239.4" cy="162.8" r="1.9" fill="#74ee52"/>
<circle cx="223.7" cy="184.3" r="1.9" fill="#69e74c"/>
<circle cx="99.1" cy="321.7" r="1.9" fill="#ff221a"/>
<circle cx="176.6" cy="223.5" r="1.9" fill="#f2fab3"/>
<circle cx="209.3" cy="182.2" r="1.9" fill="#75ef52"/>
<circle cx="219.4" cy="184.0" r="1.9" fill="#58da43"/>
<circle cx="240.9" cy="152.9" r="1.9" fill="#209e20"/>
<circle cx="212.5" cy="172.5" r="1.9" fill="#51d23f"/>
<circle cx="237.1" cy="170.1" r="1.9" fill="#3cbc33"/>
<circle cx="206.2" cy="191.7" r="1.9" fill="#4ccd3c"/>
<circle cx="239.9" cy="169.1" r="1.9" fill="#179517"/>
<circle cx="126.1" cy="294.6" r="1.9" fill="#ff7658"/>
<circle cx="242.2" cy="162.2" r="1.9" fill="#7bf456"/>
<circle cx="180.0" cy="221.0" r="1.9" fill="#fff9bd"/>
<circle cx="238.4" cy="151.8" r="1.9" fill="#74ef52"/>
<circle cx="202.4" cy="210.7" r="1.9" fill="#c8f990"/>
<circle cx="249.9" cy="154.6" r="1.9" fill="#32b12e"/>
<circle cx="247.4" cy="150.0" r="1.9" fill="#108e10"/>
<circle cx="261.1" cy="142.0" r="1.9" fill="#1d9b1d"/>
<circle cx="196.7" cy="196.7" r="1.9" fill="#a6f873"/>
<circle cx="206.9" cy="206.2" r="1.9" fill="#cbf993"/>
<circle cx="249.2" cy="149.8" r="1.9" fill="#0a880a"/>
<circle cx="104.5" cy="314.1" r="1.9" fill="#ff2c22"/>
<circle cx="139.2" cy="281.9" r="1.9" fill="#ff5a43"/>
<circle cx="235.5" cy="156.6" r="1.9" fill="#7ff558"/>
<circle cx="241.9" cy="163.3" r="1.9" fill="#007e00"/>
<circle cx="192.3" cy="207.1" r="1.9" fill="#cdf994"/>
<circle cx="236.9" cy="164.2" r="1.9" fill="#83f55a"/>
<circle cx="257.2" cy="146.0" r="1.9" fill="#57d942"/>
<circle cx="254.9" cy="149.7" r="1.9" fill="#209e20"/>
<circle cx="220.9" cy="182.6" r="1.9" fill="#54d540"/>
<circle cx="188.7" cy="224.0" r="1.9" fill="#ffdba3"/>
<circle cx="158.8" cy="248.0" r="1.9" fill="#ffcd98"/>
<circle cx="216.4" cy="183.0" r="1.9" fill="#7cf456"/>
<circle cx="184.3" cy="228.2" r="1.9" fill="#c9f991"/>
<circle cx="247.8" cy="153.3" r="1.9" fill="#28a628"/>
<circle cx="227.6" cy="162.1" r="1.9" fill="#40c035"/>
<circle cx="205.7" cy="201.2" r="1.9" fill="#7df457"/>
<circle cx="139.2" cy="281.7" r="1.9" fill="#ff664d"/>
<circle cx="216.7" cy="185.5" r="1.9" fill="#56d842"/>
<circle cx="187.1" cy="225.8" r="1.9" fill="#fff3b7"/>
<circle cx="257.9" cy="149.4" r="1.9" fill="#29a729"/>
<circle cx="258.9" cy="142.4" r="1.9" fill="#36b530"/>
<circle cx="218.0" cy="182.6" r="1.9" fill="#69e74c"/>
<circle cx="157.4" cy="260.0" r="1.9" fill="#ffce9a"/>
<circle cx="195.5" cy="196.1" r="1.9" fill="#e4faa7"/>
<circle cx="149.5" cy="269.0" r="1.9" fill="#ffdca3"/>
<circle cx="198.9" cy="197.6" r="1.9" fill="#f4fab5"/>
<circle cx="259.5" cy="146.7" r="1.9" fill="#007e00"/>
<circle cx="237.5" cy="172.2" r="1.9" fill="#2eac2b"/>
<circle cx="250.4" cy="155.8" r="1.9" fill="#007e00"/>
<circle cx="123.1" cy="290.9" r="1.9" fill="#ff3226"/>
<circle cx="107.5" cy="318.4" r="1.9" fill="#ff2c21"/>
<circle cx="251.4" cy="145.8" r="1.9" fill="#6eeb4e"/>
<circle cx="187.5" cy="224.2" r="1.9" fill="#e1faa5"/>
<circle cx="260.4" cy="145.3" r="1.9" fill="#219f21"/>
<circle cx="237.6" cy="156.6" r="1.9" fill="#55d641"/>
<circle cx="250.5" cy="151.9" r="1.9" fill="#76f053"/>
<circle cx="251.6" cy="150.0" r="1.9" fill="#2aa929"/>
<circle cx="251.7" cy="144.6" r="1.9" fill="#4acb3b"/>
<circle cx="102.0" cy="313.4" r="1.9" fill="#ff231b"/>
<circle cx="260.4" cy="145.3" r="1.9" fill="#33b22e"/>
<circle cx="167.9" cy="235.4" r="1.9" fill="#ffb789"/>
<circle cx="176.3" cy="231.7" r="1.9" fill="#ffa67c"/>
<circle cx="129.7" cy="291.2" r="1.9" fill="#ff7558"/>
<circle cx="237.2" cy="163.1" r="1.9" fill="#4fd03e"/>
<circle cx="243.8" cy="157.7" r="1.9" fill="#3bba32"/>
<circle cx="171.6" cy="227.6" r="1.9" fill="#ffd39d"/>
<circle cx="256.3" cy="148.9" r="1.9" fill="#0e8c0e"/>
<circle cx="134.8" cy="281.7" r="1.9" fill="#ff4534"/>
<circle cx="242.1" cy="162.2" r="1.9" fill="#27a527"/>
<circle cx="252.3" cy="154.3" r="1.9" fill="#0d8b0d"/>
<circle cx="117.6" cy="297.6" r="1.9" fill="#ff281e"/>
<circle cx="170.2" cy="248.5" r="1.9" fill="#ffc291"/>
<circle cx="237.2" cy="153.3" r="1.9" fill="#4acb3b"/>
<circle cx="214.2" cy="191.0" r="1.9" fill="#95f865"/>
<circle cx="245.6" cy="146.6" r="1.9" fill="#0f8d0f"/>
<circle cx="135.1" cy="282.3" r="1.9" fill="#ff8564"/>
<circle cx="255.2" cy="149.8" r="1.9" fill="#2fae2c"/>
<circle cx="219.0" cy="182.1" r="1.9" fill="#45c538"/>
<circle cx="157.0" cy="253.9" r="1.9" fill="#ffb688"/>
<circle cx="181.2" cy="226.8" r="1.9" fill="#d5fa9b"/>
<circle cx="220.1" cy="165.7" r="1.9" fill="#36b630"/>
<circle cx="191.1" cy="219.5" r="1.9" fill="#7ff558"/>
<circle cx="258.7" cy="140.1" r="1.9" fill="#60e147"/>
<circle cx="260.5" cy="142.5" r="1.9" fill="#0e8c0e"/>
<circle cx="109.4" cy="314.3" r="1.9" fill="#ff120e"/>
<circle cx="170.4" cy="245.6" r="1.9" fill="#ff9772"/>
<circle cx="230.3" cy="180.0" r="1.9" fill="#35b42f"/>
<circle cx="229.3" cy="167.3" r="1.9" fill="#55d741"/>
<circle cx="254.8" cy="145.8" r="1.9" fill="#4ecf3d"/>
<circle cx="231.5" cy="170.6" r="1.9" fill="#0d8b0d"/>
<circle cx="133.3" cy="279.5" r="1.9" fill="#ff795b"/>
<circle cx="205.0" cy="199.6" r="1.9" fill="#ddfaa2"/>
<circle cx="103.4" cy="320.2" r="1.9" fill="#ff1712"/>
<circle cx="202.3" cy="193.9" r="1.9" fill="#b7f981"/>
<circle cx="135.2" cy="278.0" r="1.9" fill="#ff533e"/>
<circle cx="226.1" cy="175.8" r="1.9" fill="#7cf456"/>
<circle cx="187.0" cy="218.2" r="1.9" fill="#f8fab8"/>
<circle cx="185.3" cy="209.2" r="1.9" fill="#e1faa5"/>
<circle cx="132.3" cy="284.5" r="1.9" fill="#ff664c"/>
<circle cx="115.9" cy="298.9" r="1.9" fill="#ff4937"/>
<circle cx="249.7" cy="143.3" r="1.9" fill="#3fbf35"/>
<circle cx="258.5" cy="147.2" r="1.9" fill="#27a527"/>
<circle cx="231.9" cy="154.2" r="1.9" fill="#66e54a"/>
<circle cx="205.9" cy="182.5" r="1.9" fill="#dcfaa1"/>
<circle cx="223.0" cy="186.9" r="1.9" fill="#adf979"/>
<circle cx="237.0" cy="160.4" r="1.9" fill="#2aa829"/>
<circle cx="177.3" cy="232.5" r="1.9" fill="#fafaba"/>
<circle cx="119.8" cy="297.2" r="1.9" fill="#ff4534"/>
<circle cx="231.5" cy="157.3" r="1.9" fill="#6be84d"/>
<circle cx="230.2" cy="160.8" r="1.9" fill="#4bcc3c"/>
<circle cx="238.8" cy="166.3" r="1.9" fill="#5adc44"/>
<circle cx="135.6" cy="275.9" r="1.9" fill="#ff8866"/>
<circle cx="166.6" cy="251.3" r="1.9" fill="#ffdba3"/>
<circle cx="174.7" cy="239.8" r="1.9" fill="#ffd49e"/>
<circle cx="224.8" cy="173.6" r="1.9" fill="#88f65d"/>
<circle cx="147.6" cy="264.9" r="1.9" fill="#ff684e"/>
<circle cx="253.0" cy="149.7" r="1.9" fill="#4dce3d"/>
<circle cx="186.0" cy="212.8" r="1.9" fill="#bff989"/>
<circle cx="191.7" cy="223.3" r="1.9" fill="#91f762"/>
<circle cx="251.1" cy="149.6" r="1.9" fill="#57d842"/>
<circle cx="206.3" cy="204.6" r="1.9" fill="#81f559"/>
<circle cx="222.1" cy="188.4" r="1.9" fill="#9af869"/>
<circle cx="112.4" cy="314.4" r="1.9" fill="#ff503c"/>
<circle cx="170.0" cy="232.9" r="1.9" fill="#ffad82"/>
<circle cx="236.0" cy="180.0" r="1.9" fill="#28a628"/>
<circle cx="148.1" cy="271.2" r="1.9" fill="#ff8866"/>
<circle cx="158.6" cy="259.5" r="1.9" fill="#ffe7ad"/>
<circle cx="160.7" cy="244.6" r="1.9" fill="#ffd8a1"/>
<circle cx="228.5" cy="159.6" r="1.9" fill="#61e248"/>
<circle cx="137.7" cy="280.7" r="1.9" fill="#ff6048"/>
<circle cx="160.9" cy="241.5" r="1.9" fill="#ffb084"/>
<circle cx="202.7" cy="199.0" r="1.9" fill="#72ed51"/>
<circle cx="188.1" cy="224.4" r="1.9" fill="#e2faa6"/>
<circle cx="109.3" cy="309.3" r="1.9" fill="#ff2b21"/>
<circle cx="258.2" cy="147.0" r="1.9" fill="#007e00"/>
<circle cx="131.4" cy="289.5" r="1.9" fill="#ff644b"/>
<circle cx="208.3" cy="198.6" r="1.9" fill="#8ef761"/>
<circle cx="227.3" cy="168.6" r="1.9" fill="#84f55a"/>
<circle cx="259.9" cy="146.5" r="1.9" fill="#0f8d0f"/>
<circle cx="249.0" cy="154.6" r="1.9" fill="#4fd03e"/>
<circle cx="192.0" cy="201.0" r="1.9" fill="#c6f98e"/>
<circle cx="204.3" cy="209.4" r="1.9" fill="#93f863"/>
<circle cx="181.3" cy="221.2" r="1.9" fill="#e2faa6"/>
<circle cx="243.8" cy="152.6" r="1.9" fill="#55d641"/>
<circle cx="197.9" cy="210.4" r="1.9" fill="#88f65d"/>
<circle cx="112.6" cy="310.5" r="1.9" fill="#ff4634"/>
<circle cx="240.7" cy="157.3" r="1.9" fill="#7df457"/>
<circle cx="241.7" cy="163.9" r="1.9" fill="#189618"/>
<circle cx="222.2" cy="184.1" r="1.9" fill="#63e449"/>
<circle cx="112.0" cy="312.6" r="1.9" fill="#ff4d3a"/>
<circle cx="133.7" cy="274.8" r="1.9" fill="#ff5c45"/>
<circle cx="202.9" cy="197.0" r="1.9" fill="#90f762"/>
<circle cx="195.6" cy="219.7" r="1.9" fill="#f0fab2"/>
<circle cx="242.6" cy="154.2" r="1.9" fill="#007e00"/>
<circle cx="178.1" cy="233.3" r="1.9" fill="#ffe3aa"/>
<circle cx="250.3" cy="145.6" r="1.9" fill="#53d540"/>
<circle cx="262.2" cy="142.7" r="1.9" fill="#26a426"/>
<circle cx="201.8" cy="190.5" r="1.9" fill="#edfaaf"/>
<circle cx="227.7" cy="170.3" r="1.9" fill="#189618"/>
<circle cx="128.5" cy="294.1" r="1.9" fill="#ff7558"/>
<circle cx="210.6" cy="198.2" r="1.9" fill="#2aa829"/>
<circle cx="200.6" cy="207.6" r="1.9" fill="#adf979"/>
<circle cx="249.7" cy="149.1" r="1.9" fill="#007e00"/>
<circle cx="172.8" cy="243.0" r="1.9" fill="#ffbf8e"/>
<circle cx="240.2" cy="157.4" r="1.9" fill="#28a628"/>
<circle cx="252.6" cy="148.0" r="1.9" fill="#199719"/>
<circle cx="246.0" cy="150.7" r="1.9" fill="#4bcc3c"/>
<circle cx="225.4" cy="166.9" r="1.9" fill="#74ef52"/>
<circle cx="101.2" cy="320.1" r="1.9" fill="#ff261d"/>
<circle cx="202.3" cy="185.6" r="1.9" fill="#91f862"/>
<circle cx="262.8" cy="143.7" r="1.9" fill="#22a022"/>
<circle cx="233.5" cy="174.6" r="1.9" fill="#3cbc33"/>
<circle cx="177.6" cy="232.5" r="1.9" fill="#ffeeb4"/>
<circle cx="169.9" cy="240.9" r="1.9" fill="#ffc895"/>
<circle cx="145.9" cy="273.3" r="1.9" fill="#ff9570"/>
<circle cx="253.0" cy="150.3" r="1.9" fill="#007e00"/>
<circle cx="232.2" cy="169.1" r="1.9" fill="#219f21"/>
<circle cx="146.8" cy="273.5" r="1.9" fill="#ff9771"/>
<circle cx="220.8" cy="176.4" r="1.9" fill="#70ec50"/>
<circle cx="189.2" cy="212.1" r="1.9" fill="#c3f98c"/>
<circle cx="139.3" cy="279.2" r="1.9" fill="#ff7457"/>
<circle cx="233.8" cy="172.2" r="1.9" fill="#007e00"/>
<circle cx="140.8" cy="280.4" r="1.9" fill="#ff8060"/>
<circle cx="190.4" cy="223.1" r="1.9" fill="#ccf993"/>
<circle cx="219.5" cy="176.2" r="1.9" fill="#59db43"/>
<circle cx="167.0" cy="242.2" r="1.9" fill="#ff936e"/>
<circle cx="135.8" cy="285.0" r="1.9" fill="#ff4d3a"/>
<circle cx="251.3" cy="154.9" r="1.9" fill="#5fe046"/>
<circle cx="184.7" cy="211.8" r="1.9" fill="#ffd29c"/>
<circle cx="179.2" cy="223.1" r="1.9" fill="#c5f98e"/>
<circle cx="249.1" cy="147.8" r="1.9" fill="#209e20"/>
<circle cx="139.3" cy="278.3" r="1.9" fill="#ff4736"/>
<circle cx="253.2" cy="143.6" r="1.9" fill="#2aa929"/>
<circle cx="260.1" cy="143.0" r="1.9" fill="#26a426"/>
<circle cx="196.0" cy="216.3" r="1.9" fill="#99f868"/>
<circle cx="190.9" cy="225.2" r="1.9" fill="#edfaaf"/>
<circle cx="214.7" cy="187.8" r="1.9" fill="#a4f872"/>
<circle cx="98.4" cy="320.4" r="1.9" fill="#ff3125"/>
<circle cx="258.1" cy="141.6" r="1.9" fill="#007e00"/>
<circle cx="219.6" cy="187.9" r="1.9" fill="#3ebe34"/>
<circle cx="192.4" cy="205.4" r="1.9" fill="#c3f98c"/>
<circle cx="211.2" cy="200.4" r="1.9" fill="#49ca3a"/>
<circle cx="158.3" cy="259.6" r="1.9" fill="#ff8665"/>
<circle cx="251.5" cy="143.0" r="1.9" fill="#57d842"/>
<circle cx="168.8" cy="238.2" r="1.9" fill="#ffd69f"/>
<circle cx="118.5" cy="304.2" r="1.9" fill="#ff4e3a"/>
<circle cx="194.5" cy="217.5" r="1.9" fill="#ffdaa2"/>
<circle cx="251.6" cy="152.0" r="1.9" fill="#038103"/>
<circle cx="202.1" cy="211.9" r="1.9" fill="#e2faa6"/>
<circle cx="233.6" cy="159.3" r="1.9" fill="#1d9b1d"/>
<circle cx="118.5" cy="296.1" r="1.9" fill="#ff7e5e"/>
<circle cx="241.2" cy="160.7" r="1.9" fill="#54d540"/>
<circle cx="193.0" cy="202.4" r="1.9" fill="#9bf86a"/>
<circle cx="191.9" cy="201.1" r="1.9" fill="#d2fa99"/>
<circle cx="210.1" cy="195.0" r="1.9" fill="#8df760"/>
<circle cx="180.8" cy="230.0" r="1.9" fill="#ffca96"/>
<circle cx="216.1" cy="196.1" r="1.9" fill="#40c035"/>
<circle cx="165.8" cy="248.4" r="1.9" fill="#ff694f"/>
<circle cx="241.4" cy="152.7" r="1.9" fill="#41c136"/>
<circle cx="252.2" cy="147.8" r="1.9" fill="#39b831"/>
<circle cx="242.4" cy="149.8" r="1.9" fill="#26a426"/>
<circle cx="244.3" cy="163.7" r="1.9" fill="#4aca3b"/>
<circle cx="221.1" cy="168.3" r="1.9" fill="#6feb4f"/>
<circle cx="257.4" cy="144.5" r="1.9" fill="#007e00"/>
<circle cx="254.1" cy="147.9" r="1.9" fill="#4dcd3c"/>
<circle cx="209.0" cy="203.7" r="1.9" fill="#54d641"/>
<circle cx="209.4" cy="187.2" r="1.9" fill="#b0f97b"/>
<circle cx="113.3" cy="312.2" r="1.9" fill="#ff3d2e"/>
<circle cx="237.8" cy="169.2" r="1.9" fill="#60e147"/>
<circle cx="226.0" cy="165.0" r="1.9" fill="#90f762"/>
<circle cx="129.9" cy="288.6" r="1.9" fill="#ff5a43"/>
<circle cx="202.7" cy="204.9" r="1.9" fill="#88f65d"/>
<circle cx="186.6" cy="216.5" r="1.9" fill="#ffe1a8"/>
<circle cx="139.2" cy="279.7" r="1.9" fill="#ff8463"/>
<circle cx="212.2" cy="190.6" r="1.9" fill="#c1f98a"/>
<circle cx="160.1" cy="251.4" r="1.9" fill="#ffc392"/>
<circle cx="220.0" cy="180.3" r="1.9" fill="#5ee046"/>
<circle cx="214.8" cy="193.7" r="1.9" fill="#7ef457"/>
<circle cx="195.3" cy="219.4" r="1.9" fill="#d1fa97"/>
<circle cx="239.6" cy="156.6" r="1.9" fill="#1b991b"/>
<circle cx="107.0" cy="318.7" r="1.9" fill="#ff3629"/>
<circle cx="200.2" cy="207.4" r="1.9" fill="#9ef86d"/>
<circle cx="199.1" cy="209.3" r="1.9" fill="#bdf986"/>
<circle cx="200.0" cy="194.7" r="1.9" fill="#b9f983"/>
<circle cx="201.2" cy="206.8" r="1.9" fill="#9cf86a"/>
<circle cx="125.6" cy="295.5" r="1.9" fill="#ff634a"/>
<circle cx="156.4" cy="250.1" r="1.9" fill="#ffaa7f"/>
<circle cx="151.2" cy="269.3" r="1.9" fill="#ff5842"/>
<circle cx="204.4" cy="207.3" r="1.9" fill="#bff988"/>
<circle cx="117.4" cy="292.6" r="1.9" fill="#ff3d2e"/>
<circle cx="179.8" cy="236.6" r="1.9" fill="#f6fab6"/>
<circle cx="133.9" cy="280.3" r="1.9" fill="#ff4d3a"/>
<circle cx="216.4" cy="193.6" r="1.9" fill="#89f65e"/>
<circle cx="193.7" cy="208.6" r="1.9" fill="#d3fa99"/>
<circle cx="150.2" cy="261.2" r="1.9" fill="#ff4c3a"/>
<circle cx="110.5" cy="304.3" r="1.9" fill="#ff100d"/>
<circle cx="255.2" cy="147.9" r="1.9" fill="#40c035"/>
<circle cx="241.4" cy="160.8" r="1.9" fill="#79f254"/>
<circle cx="250.1" cy="150.9" r="1.9" fill="#64e449"/>
<circle cx="254.2" cy="150.0" r="1.9" fill="#58da43"/>
<circle cx="246.9" cy="159.2" r="1.9" fill="#088608"/>
<circle cx="194.5" cy="211.3" r="1.9" fill="#b4f97f"/>
<circle cx="239.8" cy="168.7" r="1.9" fill="#29a729"/>
<circle cx="181.9" cy="217.6" r="1.9" fill="#e6faa9"/>
<circle cx="117.4" cy="305.4" r="1.9" fill="#ff372a"/>
<circle cx="236.0" cy="171.8" r="1.9" fill="#45c638"/>
<circle cx="253.6" cy="153.2" r="1.9" fill="#2aa829"/>
<circle cx="169.1" cy="235.8" r="1.9" fill="#fefabd"/>
<circle cx="221.6" cy="171.8" r="1.9" fill="#33b12e"/>
<circle cx="173.0" cy="231.4" r="1.9" fill="#e3faa7"/>
<circle cx="200.5" cy="208.7" r="1.9" fill="#74ef52"/>
<circle cx="183.9" cy="230.3" r="1.9" fill="#ebfaae"/>
<circle cx="255.0" cy="142.6" r="1.9" fill="#52d33f"/>
<circle cx="203.3" cy="209.9" r="1.9" fill="#90f762"/>
<circle cx="179.0" cy="219.8" r="1.9" fill="#f8fab8"/>
<circle cx="221.2" cy="186.8" r="1.9" fill="#b6f980"/>
<circle cx="106.1" cy="318.2" r="1.9" fill="#ff261d"/>
<circle cx="230.0" cy="172.3" r="1.9" fill="#4bcc3c"/>
<circle cx="229.5" cy="155.9" r="1.9" fill="#5ddf46"/>
<circle cx="234.7" cy="158.4" r="1.9" fill="#89f65d"/>
<circle cx="254.0" cy="149.2" r="1.9" fill="#058305"/>
<circle cx="128.6" cy="283.0" r="1.9" fill="#ff4131"/>
<circle cx="137.2" cy="279.2" r="1.9" fill="#ffa67d"/>
<circle cx="223.3" cy="172.0" r="1.9" fill="#169416"/>
<circle cx="258.1" cy="140.0" r="1.9" fill="#189618"/>
<circle cx="170.5" cy="230.2" r="1.9" fill="#ffb386"/>
<circle cx="114.8" cy="309.4" r="1.9" fill="#ff4e3b"/>
<circle cx="202.2" cy="206.9" r="1.9" fill="#ffe5ab"/>
<circle cx="257.8" cy="147.0" r="1.9" fill="#017f01"/>
<circle cx="239.9" cy="163.7" r="1.9" fill="#159315"/>
<circle cx="123.7" cy="298.5" r="1.9" fill="#ff654c"/>
<circle cx="194.9" cy="217.4" r="1.9" fill="#eefab0"/>
<circle cx="153.5" cy="262.4" r="1.9" fill="#ff9771"/>
<circle cx="193.5" cy="220.7" r="1.9" fill="#ebfaae"/>
<circle cx="260.2" cy="140.6" r="1.9" fill="#007e00"/>
<circle cx="208.2" cy="195.3" r="1.9" fill="#bcf986"/>
<circle cx="230.7" cy="169.1" r="1.9" fill="#58da43"/>
<circle cx="109.4" cy="315.1" r="1.9" fill="#ff1914"/>
<circle cx="258.5" cy="141.5" r="1.9" fill="#007e00"/>
<circle cx="224.7" cy="178.0" r="1.9" fill="#48c83a"/>
<circle cx="167.8" cy="239.0" r="1.9" fill="#ffc996"/>
<circle cx="224.2" cy="163.9" r="1.9" fill="#8cf760"/>
<circle cx="151.9" cy="268.2" r="1.9" fill="#ff8463"/>
<circle cx="230.4" cy="163.4" r="1.9" fill="#75ef52"/>
<circle cx="240.0" cy="152.2" r="1.9" fill="#9cf86b"/>
<circle cx="165.2" cy="238.1" r="1.9" fill="#ffe5ab"/>
<circle cx="248.7" cy="157.8" r="1.9" fill="#007e00"/>
<circle cx="255.3" cy="143.8" r="1.9" fill="#3fbe35"/>
<circle cx="226.0" cy="160.7" r="1.9" fill="#54d641"/>
<circle cx="191.2" cy="223.3" r="1.9" fill="#fff3b8"/>
<circle cx="212.2" cy="192.9" r="1.9" fill="#1f9d1f"/>
<circle cx="232.9" cy="158.2" r="1.9" fill="#3dbc33"/>
<circle cx="243.6" cy="159.4" r="1.9" fill="#007e00"/>
<circle cx="253.2" cy="155.9" r="1.9" fill="#078507"/>
<circle cx="187.4" cy="215.2" r="1.9" fill="#a4f872"/>
<circle cx="164.4" cy="254.6" r="1.9" fill="#ffaf83"/>
<circle cx="240.4" cy="163.1" r="1.9" fill="#3bba32"/>
<circle cx="194.0" cy="207.4" r="1.9" fill="#e2faa6"/>
<circle cx="184.3" cy="231.3" r="1.9" fill="#d6fa9b"/>
<circle cx="223.2" cy="186.0" r="1.9" fill="#7ef457"/>
<circle cx="198.0" cy="208.1" r="1.9" fill="#96f866"/>
<circle cx="186.2" cy="223.1" r="1.9" fill="#fff1b6"/>
<circle cx="219.5" cy="173.8" r="1.9" fill="#56d741"/>
<circle cx="246.1" cy="149.2" r="1.9" fill="#118f11"/>
<circle cx="205.4" cy="202.0" r="1.9" fill="#a5f873"/>
<circle cx="218.7" cy="173.4" r="1.9" fill="#9bf86a"/>
<circle cx="208.6" cy="204.6" r="1.9" fill="#8df760"/>
<circle cx="143.6" cy="276.7" r="1.9" fill="#ff916d"/>
<circle cx="219.0" cy="189.8" r="1.9" fill="#4fd03e"/>
<circle cx="144.9" cy="272.0" r="1.9" fill="#ff9b74"/>
<circle cx="187.9" cy="226.2" r="1.9" fill="#e1faa5"/>
<circle cx="115.1" cy="307.1" r="1.9" fill="#ff523e"/>
<circle cx="178.7" cy="233.7" r="1.9" fill="#ffdba3"/>
<circle cx="214.9" cy="174.9" r="1.9" fill="#4dce3d"/>
<circle cx="225.5" cy="182.9" r="1.9" fill="#b7f982"/>
<circle cx="219.2" cy="175.4" r="1.9" fill="#5bdd44"/>
<circle cx="212.8" cy="175.2" r="1.9" fill="#96f866"/>
<circle cx="202.0" cy="193.0" r="1.9" fill="#d2fa98"/>
<circle cx="262.4" cy="143.5" r="1.9" fill="#007e00"/>
<circle cx="204.6" cy="206.4" r="1.9" fill="#84f55a"/>
<circle cx="166.7" cy="249.8" r="1.9" fill="#ffae82"/>
<circle cx="197.1" cy="217.5" r="1.9" fill="#8bf65f"/>
<circle cx="224.2" cy="181.0" r="1.9" fill="#53d440"/>
<circle cx="202.5" cy="207.9" r="1.9" fill="#e6faa9"/>
<circle cx="250.3" cy="155.1" r="1.9" fill="#1b991b"/>
<circle cx="206.1" cy="184.7" r="1.9" fill="#a2f86f"/>
<circle cx="253.0" cy="153.0" r="1.9" fill="#007e00"/>
<circle cx="134.1" cy="286.5" r="1.9" fill="#ffa078"/>
<circle cx="246.7" cy="152.6" r="1.9" fill="#007e00"/>
<circle cx="178.5" cy="228.9" r="1.9" fill="#ffbe8e"/>
<circle cx="147.0" cy="262.9" r="1.9" fill="#ff8e6a"/>
<circle cx="194.5" cy="210.1" r="1.9" fill="#d3fa9a"/>
<circle cx="255.7" cy="146.5" r="1.9" fill="#50d13e"/>
<circle cx="256.6" cy="147.3" r="1.9" fill="#57d942"/>
<circle cx="235.9" cy="168.5" r="1.9" fill="#199719"/>
<circle cx="182.1" cy="231.3" r="1.9" fill="#ccf994"/>
<circle cx="179.4" cy="218.7" r="1.9" fill="#fffabe"/>
<circle cx="198.5" cy="204.6" r="1.9" fill="#f2fab3"/>
<circle cx="162.2" cy="239.7" r="1.9" fill="#ffc996"/>
<circle cx="209.6" cy="186.0" r="1.9" fill="#77f153"/>
<circle cx="243.8" cy="158.4" r="1.9" fill="#66e64a"/>
<circle cx="195.5" cy="205.1" r="1.9" fill="#91f862"/>
<circle cx="185.2" cy="218.7" r="1.9" fill="#ebfaad"/>
<circle cx="240.5" cy="194.0" r="1.9" fill="#43c337"/>
<circle cx="166.8" cy="249.1" r="1.9" fill="#ff7759"/>
<circle cx="257.1" cy="144.5" r="1.9" fill="#59db43"/>
<circle cx="202.1" cy="211.1" r="1.9" fill="#bff988"/>
<circle cx="220.2" cy="188.4" r="1.9" fill="#89f65d"/>
<circle cx="176.3" cy="235.7" r="1.9" fill="#ffe6ac"/>
<circle cx="103.4" cy="316.0" r="1.9" fill="#ff2c22"/>
<circle cx="155.1" cy="254.7" r="1.9" fill="#ff7658"/>
<circle cx="234.7" cy="154.9" r="1.9" fill="#199719"/>
<circle cx="237.1" cy="155.4" r="1.9" fill="#6be94d"/>
<circle cx="257.0" cy="141.1" r="1.9" fill="#159315"/>
</g>
<g>
<circle cx="512.2" cy="193.0" r="1.9" fill="#bbf985"/>
<circle cx="519.9" cy="208.1" r="1.9" fill="#bef988"/>
<circle cx="513.9" cy="153.3" r="1.9" fill="#35b42f"/>
<circle cx="536.6" cy="152.4" r="1.9" fill="#80f558"/>
<circle cx="490.1" cy="246.6" r="1.9" fill="#ffd09b"/>
<circle cx="500.4" cy="216.2" r="1.9" fill="#fcfabb"/>
<circle cx="466.3" cy="252.3" r="1.9" fill="#ff7a5b"/>
<circle cx="503.2" cy="199.7" r="1.9" fill="#c6f98f"/>
<circle cx="517.8" cy="206.3" r="1.9" fill="#e3faa7"/>
<circle cx="531.1" cy="194.0" r="1.9" fill="#6eeb4f"/>
<circle cx="515.0" cy="199.0" r="1.9" fill="#ffe5ac"/>
<circle cx="527.1" cy="133.2" r="1.9" fill="#4ccd3c"/>
<circle cx="523.4" cy="207.5" r="1.9" fill="#a9f976"/>
<circle cx="509.8" cy="191.6" r="1.9" fill="#b4f97f"/>
<circle cx="542.5" cy="135.3" r="1.9" fill="#209e20"/>
<circle cx="485.2" cy="254.9" r="1.9" fill="#ffaa7f"/>
<circle cx="529.6" cy="154.7" r="1.9" fill="#6feb4f"/>
<circle cx="505.3" cy="225.9" r="1.9" fill="#c9f991"/>
<circle cx="501.9" cy="224.5" r="1.9" fill="#ffedb2"/>
<circle cx="541.2" cy="136.4" r="1.9" fill="#26a426"/>
<circle cx="479.6" cy="196.5" r="1.9" fill="#eefab0"/>
<circle cx="505.8" cy="126.9" r="1.9" fill="#1d9b1d"/>
<circle cx="529.0" cy="164.1" r="1.9" fill="#54d540"/>
<circle cx="518.3" cy="195.0" r="1.9" fill="#d5fa9b"/>
<circle cx="540.6" cy="150.0" r="1.9" fill="#27a527"/>
<circle cx="439.2" cy="232.7" r="1.9" fill="#ffeeb3"/>
<circle cx="524.5" cy="197.4" r="1.9" fill="#cffa96"/>
<circle cx="519.0" cy="159.5" r="1.9" fill="#179517"/>
<circle cx="489.9" cy="239.2" r="1.9" fill="#fff6bb"/>
<circle cx="498.4" cy="129.2" r="1.9" fill="#2cab2a"/>
<circle cx="477.5" cy="131.0" r="1.9" fill="#199719"/>
<circle cx="519.0" cy="185.6" r="1.9" fill="#ebfaad"/>
<circle cx="528.4" cy="203.2" r="1.9" fill="#71ed50"/>
<circle cx="543.6" cy="169.5" r="1.9" fill="#50d13e"/>
<circle cx="465.7" cy="272.1" r="1.9" fill="#ff8b68"/>
<circle cx="515.3" cy="219.1" r="1.9" fill="#cefa95"/>
<circle cx="509.0" cy="219.0" r="1.9" fill="#a3f870"/>
<circle cx="544.5" cy="153.7" r="1.9" fill="#2ba92a"/>
<circle cx="493.1" cy="189.0" r="1.9" fill="#a4f871"/>
<circle cx="541.5" cy="161.7" r="1.9" fill="#50d13e"/>
<circle cx="504.6" cy="231.5" r="1.9" fill="#e8faab"/>
<circle cx="528.2" cy="173.9" r="1.9" fill="#5bdd44"/>
<circle cx="545.3" cy="159.2" r="1.9" fill="#5ee046"/>
<circle cx="522.8" cy="209.1" r="1.9" fill="#caf991"/>
<circle cx="516.9" cy="219.0" r="1.9" fill="#d4fa9a"/>
<circle cx="532.9" cy="150.8" r="1.9" fill="#55d641"/>
<circle cx="517.3" cy="164.6" r="1.9" fill="#7cf456"/>
<circle cx="525.5" cy="162.4" r="1.9" fill="#59da43"/>
<circle cx="547.0" cy="152.3" r="1.9" fill="#108e10"/>
<circle cx="516.7" cy="211.4" r="1.9" fill="#f1fab3"/>
<circle cx="537.2" cy="153.1" r="1.9" fill="#118f11"/>
<circle cx="544.0" cy="141.7" r="1.9" fill="#0d8b0d"/>
<circle cx="520.0" cy="149.5" r="1.9" fill="#52d440"/>
<circle cx="443.7" cy="237.7" r="1.9" fill="#ffbd8d"/>
<circle cx="453.0" cy="189.8" r="1.9" fill="#ebfaad"/>
<circle cx="515.7" cy="215.4" r="1.9" fill="#b4f97f"/>
<circle cx="490.7" cy="250.0" r="1.9" fill="#edfaaf"/>
<circle cx="464.9" cy="104.8" r="1.9" fill="#23a123"/>
<circle cx="466.5" cy="211.4" r="1.9" fill="#fcfabb"/>
<circle cx="540.4" cy="161.0" r="1.9" fill="#42c237"/>
<circle cx="456.9" cy="281.7" r="1.9" fill="#ff9e76"/>
<circle cx="535.0" cy="152.4" r="1.9" fill="#3fbf35"/>
<circle cx="509.0" cy="215.9" r="1.9" fill="#ffdba3"/>
<circle cx="470.0" cy="215.4" r="1.9" fill="#ffb688"/>
<circle cx="523.6" cy="163.5" r="1.9" fill="#70ec4f"/>
<circle cx="543.2" cy="170.4" r="1.9" fill="#7ef457"/>
<circle cx="538.2" cy="186.6" r="1.9" fill="#57d942"/>
<circle cx="453.6" cy="283.9" r="1.9" fill="#ff634a"/>
<circle cx="503.6" cy="116.0" r="1.9" fill="#179517"/>
<circle cx="509.0" cy="229.5" r="1.9" fill="#d7fa9c"/>
<circle cx="551.3" cy="143.6" r="1.9" fill="#0f8d0f"/>
<circle cx="521.7" cy="179.7" r="1.9" fill="#baf984"/>
<circle cx="532.0" cy="127.8" r="1.9" fill="#007e00"/>
<circle cx="490.3" cy="248.9" r="1.9" fill="#ffb688"/>
<circle cx="533.3" cy="183.7" r="1.9" fill="#6ae84d"/>
<circle cx="505.2" cy="128.2" r="1.9" fill="#007e00"/>
<circle cx="511.1" cy="217.5" r="1.9" fill="#d5fa9b"/>
<circle cx="531.4" cy="173.1" r="1.9" fill="#a7f974"/>
<circle cx="522.2" cy="190.3" r="1.9" fill="#e7faaa"/>
<circle cx="517.7" cy="152.4" r="1.9" fill="#70ec50"/>
<circle cx="526.7" cy="175.2" r="1.9" fill="#55d641"/>
<circle cx="483.9" cy="246.6" r="1.9" fill="#ff9d76"/>
<circle cx="489.6" cy="138.8" r="1.9" fill="#1c9a1c"/>
<circle cx="529.4" cy="157.8" r="1.9" fill="#60e247"/>
<circle cx="527.1" cy="192.1" r="1.9" fill="#e2faa6"/>
<circle cx="521.3" cy="205.7" r="1.9" fill="#fff6bb"/>
<circle cx="511.9" cy="127.8" r="1.9" fill="#199719"/>
<circle cx="522.2" cy="142.1" r="1.9" fill="#34b32f"/>
<circle cx="532.2" cy="140.3" r="1.9" fill="#3cbc33"/>
<circle cx="506.4" cy="230.5" r="1.9" fill="#ffe7ad"/>
<circle cx="532.1" cy="173.7" r="1.9" fill="#90f762"/>
<circle cx="537.0" cy="175.8" r="1.9" fill="#48c83a"/>
<circle cx="520.8" cy="193.9" r="1.9" fill="#eefab0"/>
<circle cx="515.2" cy="174.1" r="1.9" fill="#d3fa9a"/>
<circle cx="516.4" cy="208.6" r="1.9" fill="#cefa95"/>
<circle cx="519.6" cy="207.7" r="1.9" fill="#c4f98c"/>
<circle cx="540.4" cy="134.7" r="1.9" fill="#038103"/>
<circle cx="535.2" cy="187.3" r="1.9" fill="#69e74c"/>
<circle cx="465.6" cy="152.8" r="1.9" fill="#78f154"/>
<circle cx="546.9" cy="134.0" r="1.9" fill="#007e00"/>
<circle cx="523.1" cy="194.2" r="1.9" fill="#eafaad"/>
<circle cx="541.1" cy="165.9" r="1.9" fill="#5cdd45"/>
<circle cx="498.5" cy="222.2" r="1.9" fill="#f8fab8"/>
<circle cx="534.4" cy="175.5" r="1.9" fill="#77f153"/>
<circle cx="484.8" cy="180.0" r="1.9" fill="#eafaad"/>
<circle cx="533.9" cy="180.8" r="1.9" fill="#8cf75f"/>
<circle cx="510.7" cy="225.9" r="1.9" fill="#c3f98c"/>
<circle cx="517.9" cy="161.6" r="1.9" fill="#62e348"/>
<circle cx="490.5" cy="250.3" r="1.9" fill="#ffc895"/>
<circle cx="546.5" cy="131.8" r="1.9" fill="#2ba92a"/>
<circle cx="506.4" cy="166.0" r="1.9" fill="#5adc44"/>
<circle cx="546.8" cy="152.2" r="1.9" fill="#33b22e"/>
<circle cx="541.6" cy="169.5" r="1.9" fill="#77f154"/>
<circle cx="472.7" cy="260.8" r="1.9" fill="#ffae82"/>
<circle cx="540.6" cy="160.2" r="1.9" fill="#29a729"/>
<circle cx="500.3" cy="188.9" r="1.9" fill="#caf992"/>
<circle cx="543.9" cy="135.3" r="1.9" fill="#22a022"/>
<circle cx="543.1" cy="146.2" r="1.9" fill="#65e54a"/>
<circle cx="539.9" cy="143.2" r="1.9" fill="#42c237"/>
<circle cx="545.5" cy="147.3" r="1.9" fill="#169416"/>
<circle cx="538.3" cy="133.2" r="1.9" fill="#088608"/>
<circle cx="530.3" cy="132.1" r="1.9" fill="#169416"/>
<circle cx="540.4" cy="160.7" r="1.9" fill="#73ee51"/>
<circle cx="530.5" cy="134.4" r="1.9" fill="#48c93a"/>
<circle cx="540.8" cy="160.2" r="1.9" fill="#0b890b"/>
<circle cx="507.3" cy="226.3" r="1.9" fill="#a5f872"/>
<circle cx="541.1" cy="134.8" r="1.9" fill="#1e9c1e"/>
<circle cx="539.7" cy="180.9" r="1.9" fill="#5adc44"/>
<circle cx="547.2" cy="143.0" r="1.9" fill="#1d9b1d"/>
<circle cx="527.3" cy="151.3" r="1.9" fill="#5cde45"/>
<circle cx="494.2" cy="242.0" r="1.9" fill="#ffe8ae"/>
<circle cx="538.6" cy="171.0" r="1.9" fill="#56d741"/>
<circle cx="530.4" cy="150.0" r="1.9" fill="#32b12d"/>
<circle cx="507.9" cy="210.4" r="1.9" fill="#cefa95"/>
<circle cx="534.2" cy="194.3" r="1.9" fill="#7af355"/>
<circle cx="533.3" cy="158.6" r="1.9" fill="#78f154"/>
<circle cx="469.0" cy="223.8" r="1.9" fill="#ffcd99"/>
<circle cx="524.2" cy="164.2" r="1.9" fill="#48c83a"/>
<circle cx="535.5" cy="143.5" r="1.9" fill="#26a426"/>
<circle cx="530.5" cy="125.5" r="1.9" fill="#34b32f"/>
<circle cx="490.8" cy="249.7" r="1.9" fill="#ffbd8d"/>
<circle cx="477.1" cy="263.3" r="1.9" fill="#ffa67c"/>
<circle cx="506.3" cy="229.3" r="1.9" fill="#9df86c"/>
<circle cx="516.3" cy="173.1" r="1.9" fill="#93f863"/>
<circle cx="521.4" cy="200.3" r="1.9" fill="#89f65e"/>
<circle cx="485.1" cy="252.4" r="1.9" fill="#ffc492"/>
<circle cx="469.1" cy="267.8" r="1.9" fill="#ffba8b"/>
<circle cx="537.0" cy="140.1" r="1.9" fill="#007e00"/>
<circle cx="522.5" cy="187.2" r="1.9" fill="#b6f980"/>
<circle cx="548.0" cy="157.3" r="1.9" fill="#4bcb3b"/>
<circle cx="492.6" cy="249.0" r="1.9" fill="#fff7bb"/>
<circle cx="537.5" cy="160.0" r="1.9" fill="#25a325"/>
<circle cx="509.3" cy="223.2" r="1.9" fill="#fff8bc"/>
<circle cx="523.8" cy="193.4" r="1.9" fill="#b7f982"/>
<circle cx="521.7" cy="159.0" r="1.9" fill="#5cde45"/>
<circle cx="515.7" cy="210.6" r="1.9" fill="#fff3b8"/>
<circle cx="503.6" cy="223.1" r="1.9" fill="#eafaad"/>
<circle cx="532.5" cy="188.9" r="1.9" fill="#67e64b"/>
<circle cx="534.2" cy="179.8" r="1.9" fill="#58da43"/>
<circle cx="529.6" cy="175.4" r="1.9" fill="#67e64b"/>
<circle cx="521.8" cy="204.5" r="1.9" fill="#caf991"/>
<circle cx="543.8" cy="162.2" r="1.9" fill="#22a022"/>
<circle cx="501.7" cy="229.8" r="1.9" fill="#edfaaf"/>
<circle cx="431.0" cy="88.0" r="1.9" fill="#43c337"/>
<circle cx="523.1" cy="186.1" r="1.9" fill="#c7f98f"/>
<circle cx="529.1" cy="187.9" r="1.9" fill="#7bf356"/>
<circle cx="524.2" cy="209.7" r="1.9" fill="#93f864"/>
<circle cx="525.8" cy="171.0" r="1.9" fill="#79f255"/>
<circle cx="526.1" cy="181.4" r="1.9" fill="#bbf985"/>
<circle cx="537.0" cy="161.1" r="1.9" fill="#8df760"/>
<circle cx="503.5" cy="227.5" r="1.9" fill="#c2f98b"/>
<circle cx="468.9" cy="271.0" r="1.9" fill="#ffae82"/>
<circle cx="548.9" cy="156.6" r="1.9" fill="#56d741"/>
<circle cx="527.4" cy="181.2" r="1.9" fill="#92f863"/>
<circle cx="519.5" cy="197.6" r="1.9" fill="#b3f97e"/>
<circle cx="512.6" cy="215.5" r="1.9" fill="#ffe8ae"/>
<circle cx="529.7" cy="156.6" r="1.9" fill="#3ab932"/>
<circle cx="502.7" cy="233.1" r="1.9" fill="#f8fab8"/>
<circle cx="542.5" cy="165.9" r="1.9" fill="#3cbc33"/>
<circle cx="516.3" cy="150.4" r="1.9" fill="#64e449"/>
<circle cx="541.0" cy="170.7" r="1.9" fill="#48c83a"/>
<circle cx="520.7" cy="186.7" r="1.9" fill="#9bf86a"/>
<circle cx="506.5" cy="208.8" r="1.9" fill="#d3fa99"/>
<circle cx="545.5" cy="157.4" r="1.9" fill="#5ddf45"/>
<circle cx="514.5" cy="191.0" r="1.9" fill="#d9fa9e"/>
<circle cx="504.7" cy="230.0" r="1.9" fill="#eafaad"/>
<circle cx="548.5" cy="145.7" r="1.9" fill="#1f9d1f"/>
<circle cx="474.3" cy="253.9" r="1.9" fill="#ffa87e"/>
<circle cx="526.4" cy="132.8" r="1.9" fill="#149214"/>
<circle cx="545.2" cy="159.2" r="1.9" fill="#28a628"/>
<circle cx="516.2" cy="195.2" r="1.9" fill="#e7faaa"/>
<circle cx="489.8" cy="182.7" r="1.9" fill="#c7f98f"/>
<circle cx="461.4" cy="279.5" r="1.9" fill="#ff795b"/>
<circle cx="528.6" cy="192.5" r="1.9" fill="#92f863"/>
<circle cx="529.2" cy="143.2" r="1.9" fill="#24a224"/>
<circle cx="507.5" cy="155.1" r="1.9" fill="#85f65b"/>
<circle cx="539.2" cy="136.5" r="1.9" fill="#1b991b"/>
<circle cx="527.3" cy="151.8" r="1.9" fill="#3ebe34"/>
<circle cx="521.0" cy="160.0" r="1.9" fill="#27a527"/>
<circle cx="538.5" cy="129.1" r="1.9" fill="#098709"/>
<circle cx="543.7" cy="162.5" r="1.9" fill="#49c93a"/>
<circle cx="530.3" cy="187.7" r="1.9" fill="#bcf986"/>
<circle cx="522.5" cy="146.6" r="1.9" fill="#27a527"/>
<circle cx="532.1" cy="133.2" r="1.9" fill="#38b831"/>
<circle cx="513.2" cy="208.6" r="1.9" fill="#f3fab4"/>
<circle cx="527.1" cy="152.6" r="1.9" fill="#5ee046"/>
<circle cx="496.7" cy="226.3" r="1.9" fill="#f8fab8"/>
<circle cx="462.0" cy="181.9" r="1.9" fill="#87f65d"/>
<circle cx="502.6" cy="223.5" r="1.9" fill="#fff2b7"/>
<circle cx="545.1" cy="136.8" r="1.9" fill="#0b890b"/>
<circle cx="532.1" cy="163.9" r="1.9" fill="#4bcb3b"/>
<circle cx="525.9" cy="167.1" r="1.9" fill="#91f862"/>
<circle cx="492.5" cy="244.0" r="1.9" fill="#ffefb4"/>
<circle cx="536.2" cy="190.8" r="1.9" fill="#67e64b"/>
<circle cx="515.7" cy="176.4" r="1.9" fill="#b8f983"/>
<circle cx="549.0" cy="159.8" r="1.9" fill="#26a426"/>
<circle cx="549.3" cy="146.7" r="1.9" fill="#31b02d"/>
<circle cx="507.2" cy="222.0" r="1.9" fill="#ffdaa2"/>
<circle cx="518.7" cy="187.8" r="1.9" fill="#cffa96"/>
<circle cx="518.3" cy="202.6" r="1.9" fill="#a2f870"/>
<circle cx="510.6" cy="212.4" r="1.9" fill="#bbf985"/>
<circle cx="512.2" cy="223.7" r="1.9" fill="#eefab0"/>
<circle cx="468.8" cy="268.7" r="1.9" fill="#ff6f53"/>
<circle cx="531.1" cy="172.4" r="1.9" fill="#5adc44"/>
<circle cx="538.0" cy="134.6" r="1.9" fill="#1a981a"/>
<circle cx="506.0" cy="216.8" r="1.9" fill="#b8f983"/>
<circle cx="526.1" cy="172.2" r="1.9" fill="#7ff558"/>
<circle cx="508.5" cy="225.7" r="1.9" fill="#f6fab6"/>
<circle cx="543.2" cy="144.4" r="1.9" fill="#007e00"/>
<circle cx="495.6" cy="241.7" r="1.9" fill="#ffd69f"/>
<circle cx="510.9" cy="190.9" r="1.9" fill="#78f154"/>
<circle cx="499.4" cy="238.7" r="1.9" fill="#ffcf9a"/>
<circle cx="486.4" cy="237.2" r="1.9" fill="#ffad81"/>
<circle cx="521.5" cy="129.9" r="1.9" fill="#0b890b"/>
<circle cx="522.3" cy="207.7" r="1.9" fill="#a8f975"/>
<circle cx="542.3" cy="154.7" r="1.9" fill="#1a981a"/>
<circle cx="523.6" cy="160.7" r="1.9" fill="#3dbd34"/>
<circle cx="498.1" cy="210.7" r="1.9" fill="#f0fab2"/>
<circle cx="497.7" cy="233.2" r="1.9" fill="#ffdea5"/>
<circle cx="495.2" cy="231.1" r="1.9" fill="#f7fab8"/>
<circle cx="494.8" cy="243.9" r="1.9" fill="#ffd59f"/>
<circle cx="545.2" cy="139.0" r="1.9" fill="#007e00"/>
<circle cx="509.3" cy="164.8" r="1.9" fill="#7af355"/>
<circle cx="520.8" cy="134.0" r="1.9" fill="#139113"/>
<circle cx="521.8" cy="203.4" r="1.9" fill="#89f65d"/>
<circle cx="517.5" cy="174.0" r="1.9" fill="#b7f982"/>
<circle cx="517.3" cy="214.9" r="1.9" fill="#97f867"/>
<circle cx="508.4" cy="208.3" r="1.9" fill="#ffe1a8"/>
<circle cx="521.3" cy="195.2" r="1.9" fill="#b4f97f"/>
<circle cx="518.9" cy="125.6" r="1.9" fill="#22a022"/>
<circle cx="520.8" cy="181.6" r="1.9" fill="#90f762"/>
<circle cx="493.5" cy="247.4" r="1.9" fill="#fff0b5"/>
<circle cx="527.5" cy="173.2" r="1.9" fill="#60e147"/>
<circle cx="535.3" cy="134.1" r="1.9" fill="#068406"/>
<circle cx="480.7" cy="159.2" r="1.9" fill="#3dbc33"/>
<circle cx="537.2" cy="135.5" r="1.9" fill="#209e20"/>
<circle cx="485.1" cy="189.6" r="1.9" fill="#f7fab7"/>
<circle cx="523.9" cy="134.7" r="1.9" fill="#3fbf35"/>
<circle cx="542.6" cy="149.4" r="1.9" fill="#2baa2a"/>
<circle cx="490.5" cy="248.3" r="1.9" fill="#ffe4aa"/>
<circle cx="510.3" cy="212.7" r="1.9" fill="#d8fa9d"/>
<circle cx="461.9" cy="279.8" r="1.9" fill="#ff6d51"/>
<circle cx="517.9" cy="196.9" r="1.9" fill="#a9f976"/>
<circle cx="528.7" cy="189.5" r="1.9" fill="#9bf86a"/>
<circle cx="547.2" cy="158.7" r="1.9" fill="#30af2d"/>
<circle cx="529.8" cy="152.4" r="1.9" fill="#30af2d"/>
<circle cx="533.6" cy="141.2" r="1.9" fill="#46c639"/>
<circle cx="538.3" cy="153.7" r="1.9" fill="#40c035"/>
<circle cx="531.4" cy="176.1" r="1.9" fill="#91f762"/>
<circle cx="546.2" cy="158.8" r="1.9" fill="#56d741"/>
<circle cx="547.8" cy="149.6" r="1.9" fill="#29a728"/>
<circle cx="527.1" cy="164.9" r="1.9" fill="#49c93a"/>
<circle cx="524.1" cy="199.8" r="1.9" fill="#dbfaa0"/>
<circle cx="476.1" cy="259.6" r="1.9" fill="#ff8f6c"/>
<circle cx="510.4" cy="187.4" r="1.9" fill="#9df86b"/>
<circle cx="522.1" cy="202.4" r="1.9" fill="#c5f98d"/>
<circle cx="544.4" cy="134.5" r="1.9" fill="#118f11"/>
<circle cx="532.7" cy="188.6" r="1.9" fill="#81f559"/>
<circle cx="479.9" cy="174.7" r="1.9" fill="#9ef86c"/>
<circle cx="505.0" cy="209.6" r="1.9" fill="#fff6bb"/>
<circle cx="479.3" cy="257.0" r="1.9" fill="#ffa87e"/>
<circle cx="545.7" cy="143.9" r="1.9" fill="#1c9a1c"/>
<circle cx="513.1" cy="142.2" r="1.9" fill="#007e00"/>
<circle cx="525.9" cy="149.4" r="1.9" fill="#4dce3d"/>
<circle cx="514.3" cy="220.8" r="1.9" fill="#cdf994"/>
<circle cx="506.5" cy="138.0" r="1.9" fill="#46c639"/>
<circle cx="541.2" cy="144.3" r="1.9" fill="#179517"/>
<circle cx="503.0" cy="206.5" r="1.9" fill="#e3faa7"/>
<circle cx="507.8" cy="199.9" r="1.9" fill="#fff0b5"/>
<circle cx="527.3" cy="159.6" r="1.9" fill="#36b530"/>
<circle cx="521.9" cy="177.2" r="1.9" fill="#aef97a"/>
<circle cx="492.2" cy="179.8" r="1.9" fill="#b8f982"/>
<circle cx="497.2" cy="232.2" r="1.9" fill="#fff4b9"/>
<circle cx="538.1" cy="180.4" r="1.9" fill="#81f559"/>
<circle cx="533.0" cy="179.2" r="1.9" fill="#82f559"/>
<circle cx="543.0" cy="176.5" r="1.9" fill="#77f154"/>
<circle cx="536.4" cy="131.8" r="1.9" fill="#0f8d0f"/>
<circle cx="539.3" cy="179.3" r="1.9" fill="#39b831"/>
<circle cx="518.9" cy="184.1" r="1.9" fill="#88f65d"/>
<circle cx="499.9" cy="212.4" r="1.9" fill="#d5fa9b"/>
<circle cx="534.5" cy="191.4" r="1.9" fill="#24a224"/>
<circle cx="496.5" cy="241.6" r="1.9" fill="#ffebb0"/>
<circle cx="541.7" cy="145.6" r="1.9" fill="#1d9b1d"/>
<circle cx="525.8" cy="172.6" r="1.9" fill="#80f559"/>
<circle cx="536.2" cy="184.1" r="1.9" fill="#86f65c"/>
<circle cx="535.7" cy="136.6" r="1.9" fill="#007e00"/>
<circle cx="547.0" cy="151.8" r="1.9" fill="#25a325"/>
<circle cx="514.2" cy="210.7" r="1.9" fill="#d3fa99"/>
<circle cx="543.8" cy="131.4" r="1.9" fill="#007e00"/>
<circle cx="495.5" cy="226.8" r="1.9" fill="#ffb789"/>
<circle cx="505.7" cy="231.3" r="1.9" fill="#ffe9af"/>
<circle cx="517.3" cy="113.2" r="1.9" fill="#1f9d1f"/>
<circle cx="520.9" cy="161.6" r="1.9" fill="#37b630"/>
<circle cx="524.3" cy="196.0" r="1.9" fill="#e6faa9"/>
<circle cx="506.3" cy="129.4" r="1.9" fill="#2aa829"/>
<circle cx="409.4" cy="98.7" r="1.9" fill="#4bcb3b"/>
<circle cx="542.9" cy="154.0" r="1.9" fill="#26a426"/>
<circle cx="541.3" cy="147.7" r="1.9" fill="#007e00"/>
<circle cx="521.2" cy="186.2" r="1.9" fill="#c5f98d"/>
<circle cx="519.2" cy="211.9" r="1.9" fill="#fdfabd"/>
<circle cx="509.7" cy="204.8" r="1.9" fill="#ffeeb3"/>
<circle cx="463.1" cy="274.8" r="1.9" fill="#ff6b51"/>
<circle cx="528.2" cy="150.7" r="1.9" fill="#007e00"/>
<circle cx="503.2" cy="231.0" r="1.9" fill="#fbfaba"/>
<circle cx="532.3" cy="171.0" r="1.9" fill="#60e147"/>
<circle cx="547.6" cy="158.4" r="1.9" fill="#27a527"/>
<circle cx="533.7" cy="139.5" r="1.9" fill="#32b12e"/>
<circle cx="516.8" cy="138.9" r="1.9" fill="#189618"/>
<circle cx="452.5" cy="287.8" r="1.9" fill="#ff4c39"/>
<circle cx="533.9" cy="167.5" r="1.9" fill="#51d23f"/>
<circle cx="513.3" cy="199.5" r="1.9" fill="#fff7bb"/>
<circle cx="453.7" cy="287.8" r="1.9" fill="#ff5a44"/>
<circle cx="540.9" cy="133.0" r="1.9" fill="#1c9a1c"/>
<circle cx="522.2" cy="176.3" r="1.9" fill="#9af869"/>
<circle cx="533.5" cy="149.8" r="1.9" fill="#35b42f"/>
<circle cx="445.4" cy="231.4" r="1.9" fill="#fff7bb"/>
<circle cx="523.4" cy="203.7" r="1.9" fill="#d2fa98"/>
<circle cx="547.7" cy="159.1" r="1.9" fill="#26a426"/>
<circle cx="542.3" cy="155.4" r="1.9" fill="#3ebd34"/>
<circle cx="533.5" cy="183.2" r="1.9" fill="#a2f870"/>
<circle cx="500.1" cy="227.0" r="1.9" fill="#f1fab3"/>
<circle cx="506.4" cy="215.4" r="1.9" fill="#ffebb0"/>
<circle cx="542.2" cy="161.1" r="1.9" fill="#2ead2c"/>
<circle cx="525.0" cy="172.8" r="1.9" fill="#58d942"/>
<circle cx="549.2" cy="147.9" r="1.9" fill="#43c337"/>
<circle cx="525.7" cy="166.2" r="1.9" fill="#6be94d"/>
<circle cx="507.1" cy="213.3" r="1.9" fill="#ffd39d"/>
<circle cx="463.8" cy="277.7" r="1.9" fill="#ff7155"/>
<circle cx="507.3" cy="151.1" r="1.9" fill="#70ec50"/>
<circle cx="501.0" cy="224.6" r="1.9" fill="#ffc694"/>
<circle cx="519.6" cy="189.1" r="1.9" fill="#fff2b7"/>
<circle cx="546.6" cy="160.1" r="1.9" fill="#57d842"/>
<circle cx="459.2" cy="278.9" r="1.9" fill="#ffa77d"/>
<circle cx="537.6" cy="153.8" r="1.9" fill="#108e10"/>
<circle cx="544.1" cy="162.8" r="1.9" fill="#75ef52"/>
<circle cx="535.8" cy="141.2" r="1.9" fill="#209e20"/>
<circle cx="460.8" cy="277.9" r="1.9" fill="#ff8262"/>
<circle cx="492.5" cy="237.2" r="1.9" fill="#ffaa7f"/>
<circle cx="510.8" cy="168.0" r="1.9" fill="#9ef86c"/>
<circle cx="517.6" cy="179.7" r="1.9" fill="#dbfaa0"/>
<circle cx="518.7" cy="192.8" r="1.9" fill="#b8f982"/>
<circle cx="468.9" cy="268.6" r="1.9" fill="#ff795b"/>
<circle cx="527.7" cy="134.7" r="1.9" fill="#3cbc33"/>
<circle cx="491.6" cy="249.4" r="1.9" fill="#c0f989"/>
<circle cx="539.4" cy="128.4" r="1.9" fill="#189618"/>
<circle cx="477.8" cy="253.2" r="1.9" fill="#ffc694"/>
<circle cx="488.4" cy="208.7" r="1.9" fill="#fff7bb"/>
<circle cx="515.1" cy="198.1" r="1.9" fill="#fdfabd"/>
<circle cx="486.0" cy="232.8" r="1.9" fill="#ffbc8d"/>
<circle cx="519.2" cy="213.0" r="1.9" fill="#d3fa99"/>
<circle cx="544.2" cy="142.7" r="1.9" fill="#179517"/>
<circle cx="468.0" cy="259.9" r="1.9" fill="#ffaa7f"/>
<circle cx="533.5" cy="178.2" r="1.9" fill="#aff97b"/>
<circle cx="541.9" cy="135.3" r="1.9" fill="#007e00"/>
<circle cx="532.1" cy="145.2" r="1.9" fill="#1a981a"/>
<circle cx="493.6" cy="169.0" r="1.9" fill="#87f65c"/>
<circle cx="521.6" cy="133.4" r="1.9" fill="#30ae2c"/>
<circle cx="527.7" cy="190.2" r="1.9" fill="#84f55b"/>
<circle cx="490.2" cy="242.5" r="1.9" fill="#ffbb8c"/>
<circle cx="501.7" cy="200.6" r="1.9" fill="#f3fab4"/>
<circle cx="531.1" cy="141.9" r="1.9" fill="#0a880a"/>
<circle cx="529.7" cy="156.1" r="1.9" fill="#70ec50"/>
<circle cx="540.6" cy="148.9" r="1.9" fill="#28a628"/>
<circle cx="506.6" cy="172.3" r="1.9" fill="#ddfaa2"/>
<circle cx="520.2" cy="209.7" r="1.9" fill="#f1fab2"/>
<circle cx="530.4" cy="191.3" r="1.9" fill="#9cf86b"/>
<circle cx="528.7" cy="170.9" r="1.9" fill="#8ef760"/>
<circle cx="523.2" cy="209.2" r="1.9" fill="#b1f97d"/>
<circle cx="479.8" cy="241.8" r="1.9" fill="#ffb386"/>
<circle cx="523.3" cy="199.2" r="1.9" fill="#8df760"/>
<circle cx="525.2" cy="185.7" r="1.9" fill="#a5f873"/>
<circle cx="447.0" cy="298.3" r="1.9" fill="#ff503c"/>
<circle cx="499.4" cy="233.4" r="1.9" fill="#9ef86c"/>
<circle cx="514.1" cy="207.0" r="1.9" fill="#c5f98d"/>
<circle cx="519.6" cy="211.9" r="1.9" fill="#a5f873"/>
<circle cx="521.2" cy="194.9" r="1.9" fill="#e1faa5"/>
<circle cx="521.5" cy="154.1" r="1.9" fill="#87f65d"/>
<circle cx="506.0" cy="214.6" r="1.9" fill="#f2fab4"/>
<circle cx="518.6" cy="173.4" r="1.9" fill="#92f863"/>
<circle cx="519.2" cy="166.0" r="1.9" fill="#92f863"/>
<circle cx="515.1" cy="187.5" r="1.9" fill="#92f863"/>
<circle cx="518.3" cy="197.4" r="1.9" fill="#a9f975"/>
<circle cx="478.5" cy="252.8" r="1.9" fill="#ffa97e"/>
<circle cx="540.5" cy="137.5" r="1.9" fill="#32b12e"/>
<circle cx="541.9" cy="156.3" r="1.9" fill="#1b991b"/>
<circle cx="488.8" cy="252.2" r="1.9" fill="#ffd29d"/>
<circle cx="528.5" cy="136.3" r="1.9" fill="#169416"/>
<circle cx="504.7" cy="232.4" r="1.9" fill="#f9fab9"/>
<circle cx="473.0" cy="134.4" r="1.9" fill="#189618"/>
<circle cx="494.1" cy="179.6" r="1.9" fill="#c3f98c"/>
<circle cx="541.7" cy="137.9" r="1.9" fill="#189618"/>
<circle cx="523.3" cy="176.6" r="1.9" fill="#89f65e"/>
<circle cx="532.7" cy="170.0" r="1.9" fill="#6eeb4f"/>
<circle cx="549.7" cy="149.3" r="1.9" fill="#199719"/>
<circle cx="515.1" cy="205.3" r="1.9" fill="#c1f98a"/>
<circle cx="527.2" cy="134.0" r="1.9" fill="#028002"/>
<circle cx="459.8" cy="242.8" r="1.9" fill="#ffd69f"/>
<circle cx="530.5" cy="187.5" r="1.9" fill="#93f864"/>
<circle cx="497.8" cy="239.2" r="1.9" fill="#ffe1a8"/>
<circle cx="532.8" cy="191.4" r="1.9" fill="#8cf75f"/>
<circle cx="518.2" cy="190.5" r="1.9" fill="#e4faa8"/>
<circle cx="544.7" cy="139.0" r="1.9" fill="#0e8c0e"/>
<circle cx="497.2" cy="230.6" r="1.9" fill="#ffe9ae"/>
<circle cx="509.6" cy="221.3" r="1.9" fill="#fff6ba"/>
<circle cx="522.9" cy="207.3" r="1.9" fill="#e2faa6"/>
<circle cx="469.0" cy="266.6" r="1.9" fill="#ffbc8c"/>
<circle cx="539.7" cy="155.1" r="1.9" fill="#45c538"/>
<circle cx="476.3" cy="232.4" r="1.9" fill="#ffecb1"/>
<circle cx="540.2" cy="153.3" r="1.9" fill="#4fd03e"/>
<circle cx="521.5" cy="168.1" r="1.9" fill="#69e74c"/>
<circle cx="528.4" cy="167.0" r="1.9" fill="#91f762"/>
<circle cx="510.9" cy="217.6" r="1.9" fill="#a5f872"/>
<circle cx="528.1" cy="188.2" r="1.9" fill="#acf978"/>
<circle cx="483.7" cy="257.6" r="1.9" fill="#ffae82"/>
<circle cx="527.3" cy="196.9" r="1.9" fill="#b6f981"/>
<circle cx="481.6" cy="250.2" r="1.9" fill="#ffcb97"/>
<circle cx="520.7" cy="211.9" r="1.9" fill="#84f55b"/>
<circle cx="531.6" cy="194.8" r="1.9" fill="#96f866"/>
<circle cx="517.1" cy="184.4" r="1.9" fill="#e3faa7"/>
<circle cx="499.3" cy="239.4" r="1.9" fill="#ffc190"/>
<circle cx="539.4" cy="168.6" r="1.9" fill="#30af2c"/>
<circle cx="446.9" cy="294.5" r="1.9" fill="#ff916d"/>
<circle cx="523.2" cy="176.1" r="1.9" fill="#56d741"/>
<circle cx="537.8" cy="158.8" r="1.9" fill="#78f154"/>
<circle cx="510.4" cy="133.0" r="1.9" fill="#159315"/>
<circle cx="545.6" cy="159.0" r="1.9" fill="#23a123"/>
<circle cx="532.2" cy="144.8" r="1.9" fill="#1e9c1e"/>
<circle cx="512.9" cy="202.1" r="1.9" fill="#78f254"/>
<circle cx="491.6" cy="186.0" r="1.9" fill="#aaf976"/>
<circle cx="525.9" cy="180.5" r="1.9" fill="#86f65c"/>
<circle cx="501.4" cy="186.4" r="1.9" fill="#fff8bc"/>
<circle cx="518.0" cy="127.1" r="1.9" fill="#0e8c0e"/>
<circle cx="517.1" cy="210.8" r="1.9" fill="#f4fab5"/>
<circle cx="517.9" cy="187.4" r="1.9" fill="#a7f874"/>
<circle cx="540.0" cy="172.9" r="1.9" fill="#7df457"/>
<circle cx="501.4" cy="211.5" r="1.9" fill="#e5faa8"/>
<circle cx="518.4" cy="209.3" r="1.9" fill="#b4f97f"/>
<circle cx="548.0" cy="137.3" r="1.9" fill="#007e00"/>
<circle cx="496.3" cy="179.3" r="1.9" fill="#a0f86e"/>
<circle cx="538.5" cy="163.6" r="1.9" fill="#5ddf45"/>
<circle cx="480.3" cy="247.3" r="1.9" fill="#ff9d76"/>
<circle cx="524.2" cy="175.1" r="1.9" fill="#84f55a"/>
<circle cx="547.9" cy="137.8" r="1.9" fill="#0b890b"/>
<circle cx="507.8" cy="221.7" r="1.9" fill="#f1fab2"/>
<circle cx="512.2" cy="218.2" r="1.9" fill="#ebfaad"/>
<circle cx="521.3" cy="156.6" r="1.9" fill="#3ebe34"/>
<circle cx="516.2" cy="125.4" r="1.9" fill="#209e20"/>
<circle cx="534.2" cy="161.1" r="1.9" fill="#3dbc33"/>
<circle cx="506.6" cy="223.2" r="1.9" fill="#fff8bd"/>
<circle cx="539.7" cy="137.5" r="1.9" fill="#159315"/>
<circle cx="526.0" cy="199.4" r="1.9" fill="#c1f98a"/>
<circle cx="522.8" cy="126.3" r="1.9" fill="#29a728"/>
<circle cx="532.9" cy="173.9" r="1.9" fill="#6ce94d"/>
<circle cx="530.4" cy="156.2" r="1.9" fill="#47c739"/>
<circle cx="534.5" cy="184.5" r="1.9" fill="#68e64b"/>
<circle cx="508.3" cy="229.8" r="1.9" fill="#ecfaae"/>
<circle cx="505.0" cy="196.1" r="1.9" fill="#abf978"/>
<circle cx="481.8" cy="251.3" r="1.9" fill="#ffe3aa"/>
<circle cx="529.6" cy="182.3" r="1.9" fill="#b3f97e"/>
<circle cx="473.7" cy="221.5" r="1.9" fill="#fff4b8"/>
<circle cx="469.7" cy="269.7" r="1.9" fill="#ff8967"/>
<circle cx="534.7" cy="143.4" r="1.9" fill="#1d9b1d"/>
<circle cx="541.6" cy="131.6" r="1.9" fill="#0b890b"/>
<circle cx="541.5" cy="133.1" r="1.9" fill="#048204"/>
<circle cx="549.1" cy="144.2" r="1.9" fill="#1c9a1c"/>
<circle cx="510.6" cy="213.4" r="1.9" fill="#8bf65f"/>
<circle cx="499.5" cy="236.6" r="1.9" fill="#ffe7ad"/>
<circle cx="536.8" cy="141.3" r="1.9" fill="#22a022"/>
<circle cx="494.8" cy="195.3" r="1.9" fill="#fffabe"/>
<circle cx="527.9" cy="168.5" r="1.9" fill="#acf978"/>
<circle cx="540.0" cy="158.2" r="1.9" fill="#52d33f"/>
<circle cx="515.4" cy="196.7" r="1.9" fill="#baf984"/>
<circle cx="514.8" cy="161.5" r="1.9" fill="#67e64b"/>
<circle cx="549.8" cy="147.8" r="1.9" fill="#108e10"/>
<circle cx="510.5" cy="190.8" r="1.9" fill="#f2fab3"/>
<circle cx="549.5" cy="148.5" r="1.9" fill="#007e00"/>
<circle cx="535.8" cy="179.4" r="1.9" fill="#6ce94d"/>
<circle cx="541.5" cy="174.9" r="1.9" fill="#66e64a"/>
<circle cx="521.4" cy="204.1" r="1.9" fill="#e7faaa"/>
<circle cx="544.5" cy="141.7" r="1.9" fill="#058305"/>
<circle cx="508.3" cy="214.5" r="1.9" fill="#ffe7ad"/>
<circle cx="549.9" cy="147.6" r="1.9" fill="#007e00"/>
<circle cx="525.5" cy="193.1" r="1.9" fill="#96f866"/>
<circle cx="489.7" cy="241.0" r="1.9" fill="#ffc593"/>
<circle cx="548.1" cy="150.9" r="1.9" fill="#007e00"/>
<circle cx="546.0" cy="153.2" r="1.9" fill="#0a880a"/>
<circle cx="523.1" cy="206.5" r="1.9" fill="#c7f98f"/>
<circle cx="527.0" cy="176.3" r="1.9" fill="#a7f974"/>
<circle cx="539.0" cy="178.9" r="1.9" fill="#5adb44"/>
<circle cx="527.5" cy="203.8" r="1.9" fill="#77f153"/>
<circle cx="536.9" cy="160.6" r="1.9" fill="#80f559"/>
<circle cx="536.7" cy="156.5" r="1.9" fill="#42c237"/>
<circle cx="461.4" cy="137.1" r="1.9" fill="#30af2c"/>
<circle cx="517.8" cy="198.2" r="1.9" fill="#bff988"/>
<circle cx="532.5" cy="176.1" r="1.9" fill="#6ce94e"/>
<circle cx="548.9" cy="157.5" r="1.9" fill="#35b42f"/>
<circle cx="542.3" cy="173.1" r="1.9" fill="#5cde45"/>
<circle cx="521.2" cy="199.6" r="1.9" fill="#92f863"/>
<circle cx="535.4" cy="150.7" r="1.9" fill="#2ba92a"/>
<circle cx="537.4" cy="177.5" r="1.9" fill="#7ff458"/>
<circle cx="533.2" cy="177.6" r="1.9" fill="#78f154"/>
<circle cx="534.5" cy="160.5" r="1.9" fill="#5bdd44"/>
<circle cx="483.4" cy="251.6" r="1.9" fill="#ff8e6a"/>
<circle cx="467.7" cy="264.5" r="1.9" fill="#ffc492"/>
<circle cx="487.8" cy="227.9" r="1.9" fill="#ffc08f"/>
<circle cx="491.5" cy="245.1" r="1.9" fill="#ffe3aa"/>
<circle cx="534.7" cy="164.4" r="1.9" fill="#51d23f"/>
<circle cx="527.6" cy="199.6" r="1.9" fill="#56d741"/>
<circle cx="516.8" cy="200.6" r="1.9" fill="#f9fab9"/>
<circle cx="507.2" cy="125.8" r="1.9" fill="#0d8b0d"/>
<circle cx="487.0" cy="143.3" r="1.9" fill="#47c739"/>
<circle cx="526.6" cy="185.3" r="1.9" fill="#91f762"/>
<circle cx="534.0" cy="169.7" r="1.9" fill="#9bf86a"/>
<circle cx="495.9" cy="202.4" r="1.9" fill="#a1f86f"/>
<circle cx="524.1" cy="169.0" r="1.9" fill="#9df86c"/>
<circle cx="546.7" cy="149.0" r="1.9" fill="#108e10"/>
<circle cx="532.9" cy="173.2" r="1.9" fill="#69e74c"/>
<circle cx="504.7" cy="169.7" r="1.9" fill="#74ef52"/>
<circle cx="506.3" cy="190.9" r="1.9" fill="#aff97b"/>
<circle cx="531.8" cy="174.9" r="1.9" fill="#c8f990"/>
<circle cx="512.7" cy="182.2" r="1.9" fill="#c8f990"/>
<circle cx="531.6" cy="133.4" r="1.9" fill="#078507"/>
<circle cx="466.8" cy="107.7" r="1.9" fill="#129012"/>
<circle cx="523.7" cy="185.0" r="1.9" fill="#78f154"/>
<circle cx="537.1" cy="146.6" r="1.9" fill="#24a224"/>
<circle cx="532.3" cy="136.0" r="1.9" fill="#23a123"/>
<circle cx="524.1" cy="153.3" r="1.9" fill="#49c93a"/>
<circle cx="524.2" cy="162.4" r="1.9" fill="#57d842"/>
<circle cx="486.2" cy="249.6" r="1.9" fill="#ffdaa2"/>
<circle cx="491.7" cy="217.1" r="1.9" fill="#fdfabc"/>
<circle cx="531.5" cy="191.4" r="1.9" fill="#84f55b"/>
<circle cx="509.2" cy="194.8" r="1.9" fill="#ffe5ac"/>
<circle cx="534.6" cy="185.6" r="1.9" fill="#aff97b"/>
<circle cx="524.5" cy="196.9" r="1.9" fill="#dafa9f"/>
<circle cx="509.5" cy="203.8" r="1.9" fill="#fff7bb"/>
<circle cx="529.2" cy="193.7" r="1.9" fill="#89f65d"/>
<circle cx="543.5" cy="151.5" r="1.9" fill="#017f01"/>
<circle cx="543.1" cy="148.3" r="1.9" fill="#1d9b1d"/>
<circle cx="541.5" cy="161.8" r="1.9" fill="#4bcc3c"/>
<circle cx="510.9" cy="128.9" r="1.9" fill="#1a981a"/>
<circle cx="533.1" cy="192.3" r="1.9" fill="#8af65e"/>
<circle cx="525.8" cy="206.4" r="1.9" fill="#a9f976"/>
<circle cx="524.8" cy="133.2" r="1.9" fill="#169416"/>
<circle cx="474.0" cy="263.3" r="1.9" fill="#ff8b69"/>
<circle cx="530.7" cy="178.9" r="1.9" fill="#a0f86e"/>
<circle cx="506.8" cy="214.6" r="1.9" fill="#caf992"/>
<circle cx="534.0" cy="167.5" r="1.9" fill="#34b32f"/>
<circle cx="507.7" cy="129.9" r="1.9" fill="#007e00"/>
<circle cx="509.4" cy="222.3" r="1.9" fill="#a7f974"/>
<circle cx="524.5" cy="161.1" r="1.9" fill="#4fd03e"/>
<circle cx="541.8" cy="141.0" r="1.9" fill="#3bbb33"/>
<circle cx="496.1" cy="243.9" r="1.9" fill="#ffe5ab"/>
<circle cx="457.6" cy="285.2" r="1.9" fill="#ff684e"/>
<circle cx="548.0" cy="136.4" r="1.9" fill="#179517"/>
<circle cx="514.7" cy="204.7" r="1.9" fill="#dbfaa0"/>
<circle cx="544.4" cy="167.7" r="1.9" fill="#81f559"/>
<circle cx="476.8" cy="189.4" r="1.9" fill="#e1faa5"/>
<circle cx="520.8" cy="211.6" r="1.9" fill="#c0f989"/>
<circle cx="537.6" cy="149.8" r="1.9" fill="#58da43"/>
<circle cx="524.9" cy="144.7" r="1.9" fill="#108e10"/>
<circle cx="548.8" cy="143.5" r="1.9" fill="#179517"/>
<circle cx="543.6" cy="152.7" r="1.9" fill="#1d9b1d"/>
<circle cx="509.2" cy="214.1" r="1.9" fill="#e6faa9"/>
<circle cx="533.8" cy="128.4" r="1.9" fill="#199719"/>
<circle cx="527.6" cy="195.5" r="1.9" fill="#85f55b"/>
<circle cx="462.8" cy="279.5" r="1.9" fill="#ffc08f"/>
<circle cx="538.5" cy="142.2" r="1.9" fill="#23a123"/>
<circle cx="488.0" cy="218.2" r="1.9" fill="#fdfabc"/>
<circle cx="526.6" cy="184.1" r="1.9" fill="#bcf986"/>
<circle cx="453.5" cy="169.3" r="1.9" fill="#72ed51"/>
<circle cx="534.2" cy="173.8" r="1.9" fill="#60e247"/>
<circle cx="525.9" cy="177.3" r="1.9" fill="#b8f982"/>
<circle cx="521.4" cy="209.9" r="1.9" fill="#75ef52"/>
<circle cx="489.5" cy="230.1" r="1.9" fill="#ffb889"/>
<circle cx="487.1" cy="244.3" r="1.9" fill="#fff9bd"/>
<circle cx="521.9" cy="206.0" r="1.9" fill="#b1f97c"/>
<circle cx="469.3" cy="123.4" r="1.9" fill="#2ba92a"/>
<circle cx="524.2" cy="133.4" r="1.9" fill="#048204"/>
<circle cx="509.7" cy="134.4" r="1.9" fill="#0f8d0f"/>
<circle cx="510.1" cy="154.0" r="1.9" fill="#30ae2c"/>
<circle cx="490.5" cy="229.3" r="1.9" fill="#ffab80"/>
<circle cx="483.5" cy="254.1" r="1.9" fill="#ff7b5d"/>
<circle cx="521.3" cy="204.5" r="1.9" fill="#caf992"/>
<circle cx="526.9" cy="188.4" r="1.9" fill="#63e449"/>
<circle cx="523.2" cy="201.6" r="1.9" fill="#97f867"/>
<circle cx="488.1" cy="235.3" r="1.9" fill="#ffb688"/>
<circle cx="497.0" cy="232.3" r="1.9" fill="#e5faa8"/>
<circle cx="507.4" cy="176.9" r="1.9" fill="#8df760"/>
<circle cx="479.7" cy="248.3" r="1.9" fill="#ffa87e"/>
<circle cx="502.4" cy="165.9" r="1.9" fill="#94f864"/>
<circle cx="534.8" cy="188.2" r="1.9" fill="#7ef457"/>
<circle cx="541.3" cy="144.8" r="1.9" fill="#1c9a1c"/>
<circle cx="531.2" cy="159.0" r="1.9" fill="#48c83a"/>
<circle cx="483.1" cy="226.7" r="1.9" fill="#ffe4aa"/>
<circle cx="526.6" cy="171.7" r="1.9" fill="#82f55a"/>
<circle cx="520.2" cy="183.2" r="1.9" fill="#9cf86b"/>
<circle cx="524.2" cy="169.5" r="1.9" fill="#acf978"/>
<circle cx="492.4" cy="216.8" r="1.9" fill="#fffabe"/>
<circle cx="504.9" cy="219.3" r="1.9" fill="#e9faab"/>
<circle cx="476.4" cy="262.1" r="1.9" fill="#ffb084"/>
<circle cx="500.4" cy="202.3" r="1.9" fill="#d3fa99"/>
<circle cx="523.2" cy="201.4" r="1.9" fill="#a0f86e"/>
<circle cx="492.3" cy="242.8" r="1.9" fill="#ffe3a9"/>
<circle cx="499.9" cy="229.0" r="1.9" fill="#fffabe"/>
<circle cx="544.8" cy="166.7" r="1.9" fill="#59db43"/>
<circle cx="493.2" cy="230.4" r="1.9" fill="#e9faac"/>
<circle cx="499.9" cy="220.6" r="1.9" fill="#ffdfa6"/>
<circle cx="533.5" cy="151.0" r="1.9" fill="#36b530"/>
<circle cx="511.1" cy="209.5" r="1.9" fill="#fffabe"/>
<circle cx="545.3" cy="145.7" r="1.9" fill="#26a426"/>
<circle cx="528.9" cy="192.8" r="1.9" fill="#a3f870"/>
<circle cx="541.0" cy="174.4" r="1.9" fill="#76f053"/>
<circle cx="514.3" cy="164.0" r="1.9" fill="#92f863"/>
<circle cx="521.3" cy="179.5" r="1.9" fill="#7af255"/>
<circle cx="485.1" cy="252.6" r="1.9" fill="#ffdba3"/>
<circle cx="519.2" cy="186.7" r="1.9" fill="#b1f97d"/>
<circle cx="468.6" cy="195.2" r="1.9" fill="#f0fab2"/>
<circle cx="485.9" cy="254.4" r="1.9" fill="#ffa47b"/>
<circle cx="505.6" cy="225.7" r="1.9" fill="#c2f98b"/>
<circle cx="533.9" cy="129.8" r="1.9" fill="#007e00"/>
<circle cx="537.2" cy="152.4" r="1.9" fill="#34b32e"/>
<circle cx="519.2" cy="210.4" r="1.9" fill="#8cf75f"/>
<circle cx="502.8" cy="198.5" r="1.9" fill="#ffefb4"/>
<circle cx="464.2" cy="270.6" r="1.9" fill="#ff664d"/>
<circle cx="530.3" cy="183.1" r="1.9" fill="#fbfaba"/>
<circle cx="532.5" cy="193.5" r="1.9" fill="#91f762"/>
<circle cx="501.5" cy="224.0" r="1.9" fill="#eafaac"/>
<circle cx="549.5" cy="143.4" r="1.9" fill="#1e9c1e"/>
<circle cx="547.7" cy="140.2" r="1.9" fill="#34b32f"/>
<circle cx="499.7" cy="201.3" r="1.9" fill="#ffdfa6"/>
<circle cx="508.8" cy="230.9" r="1.9" fill="#c5f98d"/>
<circle cx="489.1" cy="246.5" r="1.9" fill="#f6fab6"/>
<circle cx="471.4" cy="270.9" r="1.9" fill="#ff7658"/>
<circle cx="540.1" cy="182.1" r="1.9" fill="#46c739"/>
<circle cx="545.9" cy="144.4" r="1.9" fill="#3cbc33"/>
<circle cx="525.4" cy="196.8" r="1.9" fill="#7ff558"/>
<circle cx="510.5" cy="187.4" r="1.9" fill="#e1faa5"/>
<circle cx="522.9" cy="133.8" r="1.9" fill="#098709"/>
<circle cx="550.8" cy="144.9" r="1.9" fill="#068406"/>
<circle cx="467.3" cy="263.9" r="1.9" fill="#ff694e"/>
<circle cx="505.8" cy="184.2" r="1.9" fill="#abf978"/>
<circle cx="531.1" cy="142.9" r="1.9" fill="#007e00"/>
<circle cx="494.8" cy="180.3" r="1.9" fill="#edfaaf"/>
<circle cx="538.2" cy="154.6" r="1.9" fill="#007e00"/>
<circle cx="541.5" cy="131.6" r="1.9" fill="#007e00"/>
<circle cx="534.8" cy="136.1" r="1.9" fill="#1a981a"/>
<circle cx="501.5" cy="235.5" r="1.9" fill="#ddfaa2"/>
<circle cx="530.5" cy="174.9" r="1.9" fill="#87f65c"/>
<circle cx="539.4" cy="143.6" r="1.9" fill="#0b890b"/>
<circle cx="539.5" cy="176.9" r="1.9" fill="#75f052"/>
<circle cx="532.9" cy="144.1" r="1.9" fill="#0c8a0c"/>
<circle cx="544.7" cy="155.4" r="1.9" fill="#0e8c0e"/>
<circle cx="493.0" cy="230.6" r="1.9" fill="#fffabe"/>
<circle cx="529.4" cy="159.6" r="1.9" fill="#6be94d"/>
<circle cx="540.3" cy="147.0" r="1.9" fill="#0f8d0f"/>
<circle cx="511.6" cy="167.4" r="1.9" fill="#68e74c"/>
<circle cx="542.9" cy="164.2" r="1.9" fill="#33b12e"/>
<circle cx="487.1" cy="235.2" r="1.9" fill="#ffdda5"/>
<circle cx="549.1" cy="147.7" r="1.9" fill="#058305"/>
<circle cx="509.2" cy="218.0" r="1.9" fill="#e8faab"/>
<circle cx="513.2" cy="155.1" r="1.9" fill="#6dea4e"/>
<circle cx="528.0" cy="200.2" r="1.9" fill="#d4fa9a"/>
<circle cx="529.7" cy="143.8" r="1.9" fill="#29a728"/>
<circle cx="493.0" cy="244.3" r="1.9" fill="#ffa97f"/>
<circle cx="523.6" cy="171.7" r="1.9" fill="#80f558"/>
<circle cx="498.1" cy="226.7" r="1.9" fill="#fff8bd"/>
<circle cx="519.2" cy="154.8" r="1.9" fill="#57d942"/>
<circle cx="540.0" cy="167.1" r="1.9" fill="#63e348"/>
<circle cx="529.2" cy="175.3" r="1.9" fill="#b6f980"/>
<circle cx="535.8" cy="148.8" r="1.9" fill="#26a426"/>
<circle cx="502.5" cy="235.9" r="1.9" fill="#b0f97c"/>
<circle cx="530.2" cy="198.3" r="1.9" fill="#c8f990"/>
<circle cx="531.4" cy="197.7" r="1.9" fill="#97f867"/>
<circle cx="543.0" cy="171.7" r="1.9" fill="#69e74c"/>
<circle cx="491.5" cy="155.0" r="1.9" fill="#0a880a"/>
<circle cx="529.4" cy="189.3" r="1.9" fill="#8ff761"/>
<circle cx="524.2" cy="140.3" r="1.9" fill="#43c337"/>
<circle cx="532.6" cy="177.0" r="1.9" fill="#42c236"/>
<circle cx="504.4" cy="228.6" r="1.9" fill="#e9faac"/>
<circle cx="523.8" cy="168.7" r="1.9" fill="#51d23f"/>
<circle cx="533.7" cy="176.6" r="1.9" fill="#a0f86e"/>
<circle cx="482.3" cy="173.1" r="1.9" fill="#8af65e"/>
<circle cx="548.8" cy="150.1" r="1.9" fill="#53d440"/>
<circle cx="531.5" cy="157.6" r="1.9" fill="#6dea4e"/>
<circle cx="539.3" cy="180.7" r="1.9" fill="#68e74b"/>
<circle cx="529.7" cy="170.4" r="1.9" fill="#62e248"/>
<circle cx="517.2" cy="210.9" r="1.9" fill="#7ff457"/>
<circle cx="522.3" cy="193.1" r="1.9" fill="#87f65c"/>
<circle cx="539.8" cy="162.8" r="1.9" fill="#4bcc3c"/>
<circle cx="470.6" cy="266.1" r="1.9" fill="#ff7c5d"/>
<circle cx="484.8" cy="251.4" r="1.9" fill="#ff9a73"/>
<circle cx="524.4" cy="174.6" r="1.9" fill="#a5f872"/>
<circle cx="509.4" cy="210.6" r="1.9" fill="#eafaac"/>
<circle cx="509.6" cy="215.1" r="1.9" fill="#fff7bc"/>
<circle cx="531.7" cy="190.1" r="1.9" fill="#8ff761"/>
<circle cx="517.7" cy="134.6" r="1.9" fill="#4ccd3c"/>
<circle cx="462.8" cy="276.4" r="1.9" fill="#ff8e6b"/>
<circle cx="485.4" cy="239.1" r="1.9" fill="#ffb285"/>
<circle cx="535.8" cy="141.2" r="1.9" fill="#209e20"/>
<circle cx="483.2" cy="247.8" r="1.9" fill="#ffb688"/>
<circle cx="532.4" cy="185.4" r="1.9" fill="#8cf75f"/>
<circle cx="491.9" cy="153.2" r="1.9" fill="#60e147"/>
<circle cx="504.8" cy="135.2" r="1.9" fill="#22a022"/>
<circle cx="545.6" cy="154.6" r="1.9" fill="#37b630"/>
<circle cx="524.2" cy="130.8" r="1.9" fill="#32b12e"/>
<circle cx="534.5" cy="194.0" r="1.9" fill="#85f65b"/>
<circle cx="524.9" cy="175.8" r="1.9" fill="#b2f97d"/>
<circle cx="521.8" cy="167.5" r="1.9" fill="#98f867"/>
<circle cx="503.6" cy="227.4" r="1.9" fill="#d7fa9c"/>
<circle cx="502.5" cy="187.7" r="1.9" fill="#dbfaa0"/>
<circle cx="510.7" cy="140.8" r="1.9" fill="#69e74c"/>
<circle cx="525.2" cy="187.8" r="1.9" fill="#e2faa5"/>
<circle cx="472.1" cy="112.3" r="1.9" fill="#35b42f"/>
<circle cx="543.7" cy="162.9" r="1.9" fill="#159315"/>
<circle cx="520.2" cy="195.6" r="1.9" fill="#e7faaa"/>
<circle cx="532.0" cy="179.3" r="1.9" fill="#5adc44"/>
<circle cx="534.0" cy="177.6" r="1.9" fill="#50d13e"/>
<circle cx="497.4" cy="224.8" r="1.9" fill="#e9faac"/>
<circle cx="544.0" cy="170.9" r="1.9" fill="#5fe147"/>
<circle cx="525.7" cy="145.1" r="1.9" fill="#2fae2c"/>
<circle cx="537.2" cy="151.0" r="1.9" fill="#29a729"/>
<circle cx="509.0" cy="194.0" r="1.9" fill="#f2fab3"/>
<circle cx="461.4" cy="119.4" r="1.9" fill="#48c83a"/>
<circle cx="506.5" cy="140.1" r="1.9" fill="#31b02d"/>
<circle cx="519.4" cy="169.0" r="1.9" fill="#78f154"/>
<circle cx="505.2" cy="124.4" r="1.9" fill="#25a325"/>
<circle cx="479.1" cy="212.1" r="1.9" fill="#ffe7ad"/>
<circle cx="501.9" cy="212.9" r="1.9" fill="#f2fab3"/>
<circle cx="519.6" cy="161.6" r="1.9" fill="#40c035"/>
<circle cx="489.3" cy="246.0" r="1.9" fill="#ffcb97"/>
<circle cx="504.3" cy="232.3" r="1.9" fill="#dcfaa1"/>
<circle cx="521.4" cy="154.0" r="1.9" fill="#5cdd45"/>
<circle cx="530.1" cy="195.4" r="1.9" fill="#baf984"/>
<circle cx="503.9" cy="229.7" r="1.9" fill="#e7faaa"/>
<circle cx="487.5" cy="240.8" r="1.9" fill="#fff9bd"/>
<circle cx="525.6" cy="171.9" r="1.9" fill="#7cf456"/>
<circle cx="511.4" cy="179.7" r="1.9" fill="#64e449"/>
<circle cx="507.9" cy="207.2" r="1.9" fill="#ffeeb3"/>
<circle cx="522.2" cy="154.5" r="1.9" fill="#59db43"/>
<circle cx="512.3" cy="196.7" r="1.9" fill="#99f869"/>
<circle cx="444.6" cy="300.4" r="1.9" fill="#ff8f6b"/>
<circle cx="502.3" cy="139.5" r="1.9" fill="#44c438"/>
<circle cx="517.5" cy="156.9" r="1.9" fill="#6eeb4f"/>
<circle cx="533.5" cy="152.0" r="1.9" fill="#4dce3d"/>
<circle cx="540.3" cy="151.7" r="1.9" fill="#2ead2b"/>
<circle cx="537.2" cy="129.2" r="1.9" fill="#007e00"/>
<circle cx="524.3" cy="193.0" r="1.9" fill="#e2faa6"/>
<circle cx="537.3" cy="141.0" r="1.9" fill="#149214"/>
<circle cx="493.6" cy="241.6" r="1.9" fill="#fff1b6"/>
<circle cx="511.8" cy="209.9" r="1.9" fill="#d4fa9a"/>
<circle cx="482.2" cy="251.7" r="1.9" fill="#ffc492"/>
<circle cx="537.2" cy="162.2" r="1.9" fill="#33b22e"/>
<circle cx="545.1" cy="148.6" r="1.9" fill="#007e00"/>
<circle cx="497.2" cy="219.8" r="1.9" fill="#f7fab7"/>
<circle cx="538.0" cy="173.9" r="1.9" fill="#52d33f"/>
<circle cx="532.5" cy="181.0" r="1.9" fill="#92f863"/>
<circle cx="516.3" cy="196.5" r="1.9" fill="#b5f980"/>
<circle cx="526.1" cy="190.5" r="1.9" fill="#92f863"/>
<circle cx="477.4" cy="243.3" r="1.9" fill="#ff9e77"/>
<circle cx="503.7" cy="222.1" r="1.9" fill="#bef988"/>
<circle cx="487.0" cy="240.3" r="1.9" fill="#ffe0a7"/>
<circle cx="490.4" cy="236.6" r="1.9" fill="#ff8d6a"/>
<circle cx="533.7" cy="178.0" r="1.9" fill="#7ff558"/>
<circle cx="536.5" cy="187.3" r="1.9" fill="#78f254"/>
<circle cx="490.8" cy="248.3" r="1.9" fill="#ffbd8d"/>
<circle cx="527.4" cy="173.8" r="1.9" fill="#6eeb4f"/>
<circle cx="487.3" cy="151.3" r="1.9" fill="#61e247"/>
<circle cx="546.0" cy="165.5" r="1.9" fill="#36b530"/>
<circle cx="484.0" cy="241.5" r="1.9" fill="#ffc694"/>
<circle cx="514.3" cy="211.3" r="1.9" fill="#e0faa4"/>
<circle cx="509.4" cy="203.8" r="1.9" fill="#e9faab"/>
<circle cx="545.9" cy="147.5" r="1.9" fill="#26a426"/>
<circle cx="486.7" cy="250.6" r="1.9" fill="#ffd39d"/>
<circle cx="520.8" cy="126.1" r="1.9" fill="#048204"/>
<circle cx="537.8" cy="134.3" r="1.9" fill="#007e00"/>
<circle cx="480.8" cy="248.3" r="1.9" fill="#ffa179"/>
<circle cx="515.6" cy="205.4" r="1.9" fill="#a5f873"/>
<circle cx="546.9" cy="153.6" r="1.9" fill="#058305"/>
<circle cx="528.5" cy="135.2" r="1.9" fill="#129012"/>
<circle cx="503.1" cy="232.9" r="1.9" fill="#fff3b8"/>
<circle cx="541.5" cy="162.3" r="1.9" fill="#52d33f"/>
<circle cx="496.4" cy="222.9" r="1.9" fill="#edfaaf"/>
<circle cx="536.9" cy="129.7" r="1.9" fill="#007e00"/>
<circle cx="543.4" cy="137.8" r="1.9" fill="#209e20"/>
<circle cx="525.6" cy="185.9" r="1.9" fill="#96f866"/>
<circle cx="487.0" cy="240.0" r="1.9" fill="#7cf456"/>
<circle cx="528.9" cy="199.2" r="1.9" fill="#e7faaa"/>
<circle cx="485.1" cy="254.7" r="1.9" fill="#ffba8b"/>
<circle cx="538.4" cy="130.3" r="1.9" fill="#088608"/>
<circle cx="518.2" cy="137.3" r="1.9" fill="#058305"/>
<circle cx="456.0" cy="284.0" r="1.9" fill="#ff634a"/>
<circle cx="468.0" cy="145.9" r="1.9" fill="#69e74c"/>
<circle cx="467.1" cy="248.8" r="1.9" fill="#ff9d76"/>
<circle cx="465.1" cy="272.5" r="1.9" fill="#ff9d76"/>
<circle cx="541.6" cy="153.2" r="1.9" fill="#58da43"/>
<circle cx="539.9" cy="165.5" r="1.9" fill="#55d741"/>
<circle cx="501.8" cy="166.1" r="1.9" fill="#a8f974"/>
<circle cx="540.5" cy="172.8" r="1.9" fill="#73ee51"/>
<circle cx="470.7" cy="256.5" r="1.9" fill="#ff9c75"/>
<circle cx="536.7" cy="181.7" r="1.9" fill="#4fd03e"/>
<circle cx="460.7" cy="132.0" r="1.9" fill="#4dcd3c"/>
<circle cx="526.7" cy="148.6" r="1.9" fill="#088608"/>
<circle cx="527.3" cy="202.1" r="1.9" fill="#a9f976"/>
<circle cx="541.5" cy="161.8" r="1.9" fill="#50d13e"/>
<circle cx="518.3" cy="206.3" r="1.9" fill="#bcf986"/>
<circle cx="538.3" cy="182.0" r="1.9" fill="#43c237"/>
<circle cx="532.4" cy="190.1" r="1.9" fill="#6dea4e"/>
<circle cx="514.6" cy="215.5" r="1.9" fill="#fcfabc"/>
<circle cx="524.7" cy="160.8" r="1.9" fill="#43c337"/>
<circle cx="546.6" cy="135.5" r="1.9" fill="#3ebe34"/>
<circle cx="512.8" cy="195.3" r="1.9" fill="#fff1b6"/>
<circle cx="511.1" cy="207.5" r="1.9" fill="#f6fab6"/>
<circle cx="507.5" cy="141.1" r="1.9" fill="#1e9c1e"/>
<circle cx="521.1" cy="212.9" r="1.9" fill="#90f762"/>
<circle cx="545.8" cy="161.1" r="1.9" fill="#47c839"/>
<circle cx="543.2" cy="135.6" r="1.9" fill="#2dab2b"/>
<circle cx="452.9" cy="143.5" r="1.9" fill="#4bcc3c"/>
<circle cx="544.5" cy="163.1" r="1.9" fill="#1e9c1e"/>
<circle cx="545.1" cy="132.2" r="1.9" fill="#219f21"/>
<circle cx="541.3" cy="136.8" r="1.9" fill="#1c9a1c"/>
<circle cx="549.6" cy="143.8" r="1.9" fill="#017f01"/>
<circle cx="442.0" cy="303.9" r="1.9" fill="#ff654c"/>
<circle cx="542.0" cy="155.5" r="1.9" fill="#46c639"/>
<circle cx="514.7" cy="209.9" r="1.9" fill="#c9f991"/>
<circle cx="526.7" cy="148.3" r="1.9" fill="#53d440"/>
<circle cx="538.1" cy="141.2" r="1.9" fill="#0e8c0e"/>
<circle cx="515.6" cy="144.1" r="1.9" fill="#3dbc34"/>
<circle cx="503.5" cy="209.7" r="1.9" fill="#f0fab2"/>
<circle cx="542.7" cy="163.4" r="1.9" fill="#2baa2a"/>
<circle cx="489.7" cy="246.3" r="1.9" fill="#ffbd8d"/>
<circle cx="533.2" cy="167.1" r="1.9" fill="#80f558"/>
<circle cx="515.6" cy="144.2" r="1.9" fill="#37b630"/>
<circle cx="514.1" cy="176.0" r="1.9" fill="#9cf86b"/>
<circle cx="539.5" cy="153.1" r="1.9" fill="#189618"/>
<circle cx="536.9" cy="168.0" r="1.9" fill="#48c83a"/>
<circle cx="509.3" cy="227.4" r="1.9" fill="#aff97a"/>
<circle cx="529.1" cy="171.6" r="1.9" fill="#b5f97f"/>
<circle cx="547.9" cy="149.9" r="1.9" fill="#30ae2c"/>
<circle cx="527.5" cy="202.6" r="1.9" fill="#6ce94d"/>
<circle cx="499.8" cy="209.1" r="1.9" fill="#fefabd"/>
<circle cx="466.0" cy="268.6" r="1.9" fill="#ff8c69"/>
<circle cx="520.8" cy="207.1" r="1.9" fill="#83f55a"/>
<circle cx="494.6" cy="241.1" r="1.9" fill="#f8fab9"/>
<circle cx="505.0" cy="172.7" r="1.9" fill="#a0f86e"/>
<circle cx="487.8" cy="239.2" r="1.9" fill="#ffd9a1"/>
<circle cx="528.8" cy="195.3" r="1.9" fill="#9ff86e"/>
<circle cx="535.6" cy="168.0" r="1.9" fill="#59db43"/>
<circle cx="546.0" cy="141.4" r="1.9" fill="#0a880a"/>
<circle cx="482.0" cy="222.2" r="1.9" fill="#ffe6ac"/>
<circle cx="521.8" cy="164.7" r="1.9" fill="#72ee51"/>
<circle cx="528.8" cy="189.4" r="1.9" fill="#54d641"/>
<circle cx="542.8" cy="173.2" r="1.9" fill="#62e248"/>
<circle cx="547.1" cy="142.7" r="1.9" fill="#129012"/>
<circle cx="527.9" cy="176.6" r="1.9" fill="#80f559"/>
<circle cx="531.2" cy="178.8" r="1.9" fill="#66e54a"/>
<circle cx="480.4" cy="213.5" r="1.9" fill="#ffc593"/>
<circle cx="494.9" cy="218.5" r="1.9" fill="#ffcc98"/>
<circle cx="455.2" cy="187.9" r="1.9" fill="#d7fa9d"/>
<circle cx="515.7" cy="219.3" r="1.9" fill="#82f55a"/>
<circle cx="499.9" cy="183.8" r="1.9" fill="#b0f97c"/>
<circle cx="542.2" cy="149.2" r="1.9" fill="#149214"/>
<circle cx="522.0" cy="127.0" r="1.9" fill="#108e10"/>
<circle cx="517.5" cy="217.5" r="1.9" fill="#aff97a"/>
<circle cx="523.4" cy="131.5" r="1.9" fill="#3cbc33"/>
<circle cx="462.7" cy="274.5" r="1.9" fill="#ff644b"/>
<circle cx="498.0" cy="145.2" r="1.9" fill="#60e147"/>
<circle cx="493.4" cy="218.3" r="1.9" fill="#ffc593"/>
<circle cx="500.1" cy="240.2" r="1.9" fill="#fff7bb"/>
<circle cx="506.1" cy="210.4" r="1.9" fill="#fff8bc"/>
<circle cx="541.3" cy="142.2" r="1.9" fill="#189618"/>
<circle cx="534.7" cy="145.4" r="1.9" fill="#29a829"/>
<circle cx="534.6" cy="172.4" r="1.9" fill="#64e449"/>
<circle cx="466.4" cy="268.6" r="1.9" fill="#ff7558"/>
<circle cx="502.6" cy="230.5" r="1.9" fill="#ffe5ab"/>
<circle cx="533.8" cy="179.0" r="1.9" fill="#8bf75f"/>
<circle cx="520.2" cy="173.9" r="1.9" fill="#97f867"/>
<circle cx="514.3" cy="223.5" r="1.9" fill="#a7f874"/>
<circle cx="485.5" cy="244.5" r="1.9" fill="#ffc492"/>
<circle cx="498.3" cy="225.7" r="1.9" fill="#e3faa7"/>
<circle cx="535.5" cy="157.6" r="1.9" fill="#66e64b"/>
<circle cx="509.0" cy="211.6" r="1.9" fill="#fff6ba"/>
<circle cx="477.4" cy="260.2" r="1.9" fill="#ff8c69"/>
<circle cx="546.5" cy="155.3" r="1.9" fill="#129012"/>
<circle cx="527.3" cy="133.2" r="1.9" fill="#118f11"/>
<circle cx="535.4" cy="162.2" r="1.9" fill="#53d440"/>
<circle cx="544.8" cy="168.1" r="1.9" fill="#56d741"/>
<circle cx="461.9" cy="267.6" r="1.9" fill="#ffab80"/>
<circle cx="526.5" cy="162.1" r="1.9" fill="#65e54a"/>
<circle cx="533.7" cy="137.0" r="1.9" fill="#1b991b"/>
<circle cx="525.2" cy="206.2" r="1.9" fill="#f0fab1"/>
<circle cx="523.0" cy="168.6" r="1.9" fill="#6dea4e"/>
<circle cx="520.1" cy="192.1" r="1.9" fill="#bdf987"/>
<circle cx="485.4" cy="249.1" r="1.9" fill="#ff8967"/>
<circle cx="478.1" cy="207.5" r="1.9" fill="#ffedb3"/>
<circle cx="523.1" cy="184.8" r="1.9" fill="#98f867"/>
<circle cx="507.8" cy="231.3" r="1.9" fill="#e5faa9"/>
<circle cx="519.1" cy="160.3" r="1.9" fill="#89f65e"/>
<circle cx="537.9" cy="153.1" r="1.9" fill="#42c237"/>
<circle cx="524.5" cy="135.1" r="1.9" fill="#108e10"/>
<circle cx="517.8" cy="176.7" r="1.9" fill="#fbfabb"/>
<circle cx="493.7" cy="233.3" r="1.9" fill="#ffbc8d"/>
<circle cx="535.7" cy="154.6" r="1.9" fill="#83f55a"/>
<circle cx="533.2" cy="128.0" r="1.9" fill="#25a325"/>
<circle cx="468.8" cy="237.4" r="1.9" fill="#d0fa97"/>
<circle cx="519.0" cy="106.7" r="1.9" fill="#199719"/>
<circle cx="539.0" cy="135.0" r="1.9" fill="#2dab2b"/>
<circle cx="498.0" cy="209.9" r="1.9" fill="#ffe1a8"/>
<circle cx="532.1" cy="169.9" r="1.9" fill="#88f65d"/>
<circle cx="484.9" cy="238.2" r="1.9" fill="#ffb084"/>
<circle cx="506.3" cy="195.4" r="1.9" fill="#ddfaa2"/>
<circle cx="518.6" cy="159.3" r="1.9" fill="#5ddf45"/>
<circle cx="518.3" cy="180.9" r="1.9" fill="#99f868"/>
<circle cx="526.0" cy="194.5" r="1.9" fill="#73ee51"/>
<circle cx="504.3" cy="231.3" r="1.9" fill="#ffe8ae"/>
<circle cx="519.8" cy="162.5" r="1.9" fill="#8ef761"/>
<circle cx="507.2" cy="219.4" r="1.9" fill="#ffcf9a"/>
<circle cx="527.6" cy="176.8" r="1.9" fill="#8ff761"/>
<circle cx="521.4" cy="124.4" r="1.9" fill="#038103"/>
<circle cx="531.2" cy="185.8" r="1.9" fill="#89f65e"/>
<circle cx="534.6" cy="188.4" r="1.9" fill="#5ddf46"/>
<circle cx="540.3" cy="163.4" r="1.9" fill="#83f55a"/>
<circle cx="493.8" cy="246.1" r="1.9" fill="#ffecb1"/>
<circle cx="523.1" cy="158.6" r="1.9" fill="#5ddf46"/>
<circle cx="530.7" cy="188.1" r="1.9" fill="#6eeb4e"/>
<circle cx="515.7" cy="171.7" r="1.9" fill="#91f862"/>
<circle cx="437.8" cy="208.4" r="1.9" fill="#f2fab3"/>
<circle cx="539.1" cy="183.0" r="1.9" fill="#87f65c"/>
<circle cx="527.7" cy="185.0" r="1.9" fill="#c7f98f"/>
<circle cx="469.2" cy="272.3" r="1.9" fill="#ff4434"/>
<circle cx="510.8" cy="226.7" r="1.9" fill="#c5f98d"/>
<circle cx="510.3" cy="227.2" r="1.9" fill="#d1fa97"/>
<circle cx="507.1" cy="214.3" r="1.9" fill="#f4fab4"/>
<circle cx="534.7" cy="184.7" r="1.9" fill="#7af355"/>
<circle cx="479.0" cy="120.9" r="1.9" fill="#47c739"/>
<circle cx="547.0" cy="156.9" r="1.9" fill="#50d13e"/>
<circle cx="542.0" cy="138.1" r="1.9" fill="#0a880a"/>
<circle cx="537.7" cy="138.9" r="1.9" fill="#007e00"/>
<circle cx="527.8" cy="135.5" r="1.9" fill="#038103"/>
<circle cx="480.6" cy="252.8" r="1.9" fill="#ffb688"/>
<circle cx="535.6" cy="185.5" r="1.9" fill="#90f762"/>
<circle cx="542.0" cy="147.8" r="1.9" fill="#3ab932"/>
<circle cx="489.6" cy="213.0" r="1.9" fill="#eefab0"/>
<circle cx="479.7" cy="245.1" r="1.9" fill="#ffb083"/>
<circle cx="539.8" cy="143.2" r="1.9" fill="#149214"/>
<circle cx="507.2" cy="175.6" r="1.9" fill="#bdf987"/>
<circle cx="516.9" cy="193.4" r="1.9" fill="#fff6ba"/>
<circle cx="518.7" cy="144.8" r="1.9" fill="#058305"/>
<circle cx="482.2" cy="252.7" r="1.9" fill="#ffa77d"/>
<circle cx="529.8" cy="200.7" r="1.9" fill="#8af65e"/>
<circle cx="500.9" cy="236.2" r="1.9" fill="#ffefb4"/>
<circle cx="479.9" cy="254.5" r="1.9" fill="#ffdfa5"/>
<circle cx="542.7" cy="162.6" r="1.9" fill="#54d540"/>
<circle cx="507.9" cy="202.0" r="1.9" fill="#94f864"/>
<circle cx="530.8" cy="163.1" r="1.9" fill="#3ebe34"/>
<circle cx="529.1" cy="197.0" r="1.9" fill="#8bf65f"/>
<circle cx="457.4" cy="241.5" r="1.9" fill="#ffce9a"/>
<circle cx="535.2" cy="184.7" r="1.9" fill="#27a527"/>
<circle cx="449.6" cy="152.3" r="1.9" fill="#5bdd44"/>
<circle cx="522.0" cy="207.7" r="1.9" fill="#e2faa6"/>
<circle cx="532.1" cy="184.2" r="1.9" fill="#9ff86d"/>
<circle cx="502.5" cy="227.2" r="1.9" fill="#b5f980"/>
<circle cx="507.9" cy="156.8" r="1.9" fill="#40c035"/>
<circle cx="470.6" cy="152.6" r="1.9" fill="#37b630"/>
<circle cx="540.4" cy="128.8" r="1.9" fill="#169416"/>
<circle cx="511.7" cy="222.0" r="1.9" fill="#e2faa6"/>
<circle cx="517.0" cy="159.2" r="1.9" fill="#63e449"/>
<circle cx="522.0" cy="204.6" r="1.9" fill="#ccf993"/>
<circle cx="471.0" cy="237.4" r="1.9" fill="#ffebb1"/>
<circle cx="549.2" cy="146.5" r="1.9" fill="#199719"/>
<circle cx="517.7" cy="200.8" r="1.9" fill="#9cf86b"/>
<circle cx="528.5" cy="144.4" r="1.9" fill="#50d13e"/>
<circle cx="537.0" cy="148.8" r="1.9" fill="#2fad2c"/>
<circle cx="526.5" cy="192.6" r="1.9" fill="#baf984"/>
<circle cx="543.5" cy="161.1" r="1.9" fill="#4bcc3b"/>
<circle cx="539.5" cy="185.3" r="1.9" fill="#56d842"/>
<circle cx="507.8" cy="148.6" r="1.9" fill="#50d13e"/>
<circle cx="517.9" cy="162.6" r="1.9" fill="#66e54a"/>
<circle cx="510.4" cy="177.1" r="1.9" fill="#caf992"/>
<circle cx="459.3" cy="144.1" r="1.9" fill="#53d440"/>
<circle cx="503.6" cy="130.1" r="1.9" fill="#159315"/>
<circle cx="453.4" cy="214.4" r="1.9" fill="#fff1b6"/>
<circle cx="528.7" cy="201.1" r="1.9" fill="#49c93a"/>
<circle cx="536.9" cy="145.5" r="1.9" fill="#48c83a"/>
<circle cx="520.6" cy="209.1" r="1.9" fill="#adf979"/>
<circle cx="534.9" cy="131.4" r="1.9" fill="#4aca3b"/>
<circle cx="531.0" cy="188.5" r="1.9" fill="#9ef86c"/>
<circle cx="538.9" cy="186.1" r="1.9" fill="#68e74b"/>
<circle cx="515.7" cy="138.9" r="1.9" fill="#49c93a"/>
<circle cx="518.6" cy="159.0" r="1.9" fill="#56d741"/>
<circle cx="469.9" cy="242.5" r="1.9" fill="#fcfabc"/>
<circle cx="532.0" cy="139.1" r="1.9" fill="#1a981a"/>
<circle cx="545.8" cy="150.1" r="1.9" fill="#058305"/>
<circle cx="465.3" cy="274.5" r="1.9" fill="#ff4635"/>
<circle cx="452.9" cy="291.6" r="1.9" fill="#ff7d5e"/>
<circle cx="540.9" cy="149.9" r="1.9" fill="#179517"/>
<circle cx="540.2" cy="136.4" r="1.9" fill="#007e00"/>
<circle cx="529.4" cy="158.8" r="1.9" fill="#75ef52"/>
<circle cx="467.8" cy="196.5" r="1.9" fill="#eefab0"/>
<circle cx="542.2" cy="145.5" r="1.9" fill="#22a022"/>
<circle cx="521.1" cy="200.4" r="1.9" fill="#9af869"/>
<circle cx="523.4" cy="162.4" r="1.9" fill="#5cde45"/>
<circle cx="512.6" cy="173.0" r="1.9" fill="#85f65b"/>
<circle cx="517.7" cy="216.6" r="1.9" fill="#b7f981"/>
<circle cx="536.3" cy="147.9" r="1.9" fill="#219f21"/>
<circle cx="535.2" cy="143.3" r="1.9" fill="#007e00"/>
<circle cx="469.7" cy="271.6" r="1.9" fill="#ff916c"/>
<circle cx="525.1" cy="188.3" r="1.9" fill="#69e74c"/>
<circle cx="506.2" cy="199.4" r="1.9" fill="#effab0"/>
<circle cx="541.4" cy="146.7" r="1.9" fill="#1c9a1c"/>
<circle cx="456.1" cy="137.1" r="1.9" fill="#2dab2b"/>
<circle cx="548.6" cy="148.3" r="1.9" fill="#1e9c1e"/>
<circle cx="532.1" cy="195.2" r="1.9" fill="#52d33f"/>
<circle cx="541.5" cy="180.6" r="1.9" fill="#6be94d"/>
<circle cx="541.9" cy="142.5" r="1.9" fill="#159315"/>
<circle cx="516.7" cy="197.7" r="1.9" fill="#e4faa7"/>
<circle cx="538.3" cy="138.4" r="1.9" fill="#007e00"/>
<circle cx="519.2" cy="153.8" r="1.9" fill="#3cbb33"/>
<circle cx="520.6" cy="154.6" r="1.9" fill="#38b731"/>
<circle cx="523.0" cy="145.0" r="1.9" fill="#1e9c1e"/>
<circle cx="548.2" cy="144.0" r="1.9" fill="#2dab2b"/>
<circle cx="499.3" cy="151.7" r="1.9" fill="#87f65d"/>
<circle cx="544.1" cy="148.8" r="1.9" fill="#007e00"/>
<circle cx="508.8" cy="196.3" r="1.9" fill="#f4fab5"/>
<circle cx="471.7" cy="269.7" r="1.9" fill="#ff7a5b"/>
<circle cx="496.6" cy="218.2" r="1.9" fill="#e7faaa"/>
<circle cx="528.5" cy="154.4" r="1.9" fill="#41c136"/>
<circle cx="499.4" cy="207.9" r="1.9" fill="#e9faac"/>
<circle cx="518.5" cy="166.5" r="1.9" fill="#96f866"/>
<circle cx="438.1" cy="153.2" r="1.9" fill="#54d540"/>
<circle cx="508.2" cy="230.3" r="1.9" fill="#d4fa9a"/>
<circle cx="548.6" cy="132.8" r="1.9" fill="#007e00"/>
<circle cx="474.1" cy="172.6" r="1.9" fill="#a8f975"/>
<circle cx="517.4" cy="191.0" r="1.9" fill="#fefabd"/>
<circle cx="533.2" cy="147.0" r="1.9" fill="#0f8d0f"/>
<circle cx="543.5" cy="147.0" r="1.9" fill="#1e9c1e"/>
<circle cx="450.2" cy="290.6" r="1.9" fill="#ff5d46"/>
<circle cx="542.0" cy="174.2" r="1.9" fill="#80f558"/>
<circle cx="515.8" cy="203.2" r="1.9" fill="#88f65d"/>
<circle cx="545.0" cy="155.3" r="1.9" fill="#23a123"/>
<circle cx="490.3" cy="233.0" r="1.9" fill="#ff956f"/>
<circle cx="542.9" cy="139.7" r="1.9" fill="#129012"/>
<circle cx="445.0" cy="91.1" r="1.9" fill="#53d540"/>
<circle cx="534.2" cy="192.9" r="1.9" fill="#7df456"/>
<circle cx="534.1" cy="127.2" r="1.9" fill="#007e00"/>
<circle cx="512.1" cy="196.3" r="1.9" fill="#dcfaa1"/>
<circle cx="521.0" cy="132.9" r="1.9" fill="#108e10"/>
<circle cx="503.0" cy="218.0" r="1.9" fill="#fff7bb"/>
<circle cx="520.5" cy="182.6" r="1.9" fill="#86f65c"/>
<circle cx="509.5" cy="225.2" r="1.9" fill="#fffabe"/>
<circle cx="525.0" cy="132.4" r="1.9" fill="#1d9b1d"/>
<circle cx="512.9" cy="198.5" r="1.9" fill="#97f866"/>
<circle cx="515.9" cy="130.7" r="1.9" fill="#43c337"/>
<circle cx="527.9" cy="140.8" r="1.9" fill="#149214"/>
<circle cx="510.5" cy="153.3" r="1.9" fill="#27a527"/>
<circle cx="543.0" cy="156.2" r="1.9" fill="#6be84d"/>
<circle cx="515.7" cy="150.2" r="1.9" fill="#24a224"/>
<circle cx="488.0" cy="220.9" r="1.9" fill="#f0fab1"/>
<circle cx="503.0" cy="231.6" r="1.9" fill="#ddfaa1"/>
<circle cx="537.3" cy="146.4" r="1.9" fill="#0f8d0f"/>
<circle cx="520.5" cy="171.3" r="1.9" fill="#93f863"/>
<circle cx="484.4" cy="226.5" r="1.9" fill="#ff9e76"/>
<circle cx="468.8" cy="270.1" r="1.9" fill="#ffbe8e"/>
<circle cx="483.1" cy="174.9" r="1.9" fill="#91f762"/>
<circle cx="533.4" cy="142.3" r="1.9" fill="#007e00"/>
<circle cx="524.5" cy="181.4" r="1.9" fill="#c3f98b"/>
<circle cx="526.3" cy="128.6" r="1.9" fill="#1d9b1d"/>
<circle cx="528.5" cy="134.3" r="1.9" fill="#028002"/>
<circle cx="522.2" cy="191.5" r="1.9" fill="#d4fa9a"/>
<circle cx="533.7" cy="164.9" r="1.9" fill="#80f558"/>
<circle cx="529.3" cy="137.3" r="1.9" fill="#139113"/>
<circle cx="501.7" cy="164.5" r="1.9" fill="#7cf456"/>
<circle cx="531.8" cy="194.0" r="1.9" fill="#eefab0"/>
<circle cx="531.6" cy="170.0" r="1.9" fill="#55d641"/>
<circle cx="528.3" cy="154.1" r="1.9" fill="#28a628"/>
<circle cx="502.2" cy="220.5" r="1.9" fill="#ffe9af"/>
<circle cx="538.7" cy="185.1" r="1.9" fill="#99f868"/>
<circle cx="535.2" cy="154.6" r="1.9" fill="#39b831"/>
<circle cx="534.7" cy="131.9" r="1.9" fill="#007e00"/>
<circle cx="533.9" cy="144.7" r="1.9" fill="#1e9c1e"/>
<circle cx="507.5" cy="216.2" r="1.9" fill="#ecfaae"/>
<circle cx="529.7" cy="200.4" r="1.9" fill="#80f558"/>
<circle cx="544.5" cy="147.4" r="1.9" fill="#0c8a0c"/>
<circle cx="454.0" cy="103.0" r="1.9" fill="#43c337"/>
<circle cx="485.0" cy="247.0" r="1.9" fill="#8af65e"/>
<circle cx="537.3" cy="174.4" r="1.9" fill="#62e348"/>
<circle cx="461.3" cy="280.2" r="1.9" fill="#ffa179"/>
<circle cx="546.3" cy="137.7" r="1.9" fill="#098709"/>
<circle cx="494.8" cy="234.8" r="1.9" fill="#ecfaae"/>
<circle cx="515.1" cy="195.8" r="1.9" fill="#c9f991"/>
<circle cx="520.4" cy="199.4" r="1.9" fill="#c0f989"/>
<circle cx="541.9" cy="171.6" r="1.9" fill="#24a224"/>
<circle cx="539.4" cy="183.5" r="1.9" fill="#5dde45"/>
<circle cx="535.3" cy="142.6" r="1.9" fill="#017f01"/>
<circle cx="512.7" cy="210.3" r="1.9" fill="#cef995"/>
<circle cx="525.8" cy="207.1" r="1.9" fill="#8ef761"/>
<circle cx="540.2" cy="146.2" r="1.9" fill="#4ccc3c"/>
<circle cx="525.1" cy="170.0" r="1.9" fill="#80f558"/>
<circle cx="517.6" cy="156.5" r="1.9" fill="#66e54a"/>
<circle cx="526.5" cy="202.4" r="1.9" fill="#8bf65f"/>
<circle cx="475.6" cy="255.5" r="1.9" fill="#ff8866"/>
<circle cx="513.4" cy="221.5" r="1.9" fill="#abf977"/>
<circle cx="510.6" cy="193.2" r="1.9" fill="#d1fa98"/>
<circle cx="524.9" cy="143.9" r="1.9" fill="#3fbe35"/>
<circle cx="539.4" cy="139.0" r="1.9" fill="#007e00"/>
<circle cx="484.2" cy="238.0" r="1.9" fill="#ffe2a8"/>
<circle cx="500.3" cy="226.3" r="1.9" fill="#e6faa9"/>
<circle cx="478.7" cy="244.3" r="1.9" fill="#ffaf83"/>
<circle cx="540.3" cy="164.7" r="1.9" fill="#4aca3b"/>
<circle cx="547.5" cy="133.9" r="1.9" fill="#007e00"/>
<circle cx="503.9" cy="229.9" r="1.9" fill="#f8fab8"/>
<circle cx="536.5" cy="162.6" r="1.9" fill="#51d23f"/>
<circle cx="487.4" cy="248.1" r="1.9" fill="#ff916c"/>
<circle cx="538.4" cy="167.5" r="1.9" fill="#56d842"/>
<circle cx="505.4" cy="196.6" r="1.9" fill="#b2f97e"/>
<circle cx="525.5" cy="200.6" r="1.9" fill="#7ef457"/>
<circle cx="529.2" cy="144.7" r="1.9" fill="#22a022"/>
<circle cx="538.6" cy="156.7" r="1.9" fill="#3ab932"/>
<circle cx="513.4" cy="217.9" r="1.9" fill="#90f762"/>
<circle cx="548.1" cy="147.8" r="1.9" fill="#27a527"/>
<circle cx="538.4" cy="181.2" r="1.9" fill="#6ae84d"/>
<circle cx="536.2" cy="173.7" r="1.9" fill="#93f863"/>
<circle cx="492.1" cy="196.3" r="1.9" fill="#dcfaa0"/>
<circle cx="538.8" cy="163.9" r="1.9" fill="#50d13e"/>
<circle cx="548.5" cy="136.1" r="1.9" fill="#088608"/>
<circle cx="499.4" cy="217.1" r="1.9" fill="#ffd8a0"/>
<circle cx="543.9" cy="160.9" r="1.9" fill="#209e20"/>
<circle cx="536.6" cy="150.5" r="1.9" fill="#49c93a"/>
<circle cx="448.9" cy="295.9" r="1.9" fill="#ff8866"/>
<circle cx="513.6" cy="203.8" r="1.9" fill="#ebfaad"/>
<circle cx="521.1" cy="197.2" r="1.9" fill="#a0f86e"/>
<circle cx="512.2" cy="218.7" r="1.9" fill="#e1faa5"/>
<circle cx="545.7" cy="152.9" r="1.9" fill="#108e10"/>
<circle cx="516.8" cy="129.0" r="1.9" fill="#28a628"/>
<circle cx="485.2" cy="247.7" r="1.9" fill="#ffcb97"/>
<circle cx="532.1" cy="130.8" r="1.9" fill="#0d8b0d"/>
<circle cx="529.5" cy="171.6" r="1.9" fill="#b6f981"/>
<circle cx="522.4" cy="135.5" r="1.9" fill="#1e9c1e"/>
<circle cx="537.1" cy="174.7" r="1.9" fill="#78f254"/>
<circle cx="520.3" cy="182.7" r="1.9" fill="#9af869"/>
<circle cx="536.3" cy="157.7" r="1.9" fill="#29a729"/>
<circle cx="490.1" cy="202.0" r="1.9" fill="#ffefb4"/>
<circle cx="508.3" cy="213.0" r="1.9" fill="#dbfaa0"/>
<circle cx="519.4" cy="215.3" r="1.9" fill="#c4f98c"/>
<circle cx="540.5" cy="154.8" r="1.9" fill="#39b831"/>
<circle cx="532.7" cy="150.0" r="1.9" fill="#0e8c0e"/>
<circle cx="508.2" cy="209.7" r="1.9" fill="#acf978"/>
<circle cx="519.8" cy="203.1" r="1.9" fill="#d1fa97"/>
<circle cx="543.4" cy="133.6" r="1.9" fill="#088608"/>
<circle cx="548.1" cy="159.1" r="1.9" fill="#27a527"/>
<circle cx="506.6" cy="159.7" r="1.9" fill="#aef97a"/>
<circle cx="537.9" cy="157.3" r="1.9" fill="#42c237"/>
<circle cx="516.4" cy="159.2" r="1.9" fill="#8bf75f"/>
<circle cx="498.8" cy="234.0" r="1.9" fill="#fff4b8"/>
<circle cx="529.0" cy="157.7" r="1.9" fill="#70ec50"/>
<circle cx="527.3" cy="170.6" r="1.9" fill="#5bdc44"/>
<circle cx="529.8" cy="189.7" r="1.9" fill="#b1f97c"/>
<circle cx="534.9" cy="154.3" r="1.9" fill="#23a123"/>
<circle cx="512.8" cy="130.5" r="1.9" fill="#007e00"/>
<circle cx="494.3" cy="227.8" r="1.9" fill="#ffa279"/>
<circle cx="534.3" cy="187.0" r="1.9" fill="#88f65d"/>
<circle cx="533.0" cy="159.2" r="1.9" fill="#6dea4e"/>
<circle cx="492.3" cy="221.3" r="1.9" fill="#ffd29c"/>
<circle cx="550.0" cy="144.9" r="1.9" fill="#007e00"/>
<circle cx="544.4" cy="153.7" r="1.9" fill="#4fd03e"/>
<circle cx="485.5" cy="248.4" r="1.9" fill="#ff7f5f"/>
<circle cx="526.9" cy="135.9" r="1.9" fill="#007e00"/>
<circle cx="531.2" cy="195.3" r="1.9" fill="#77f153"/>
<circle cx="546.2" cy="157.6" r="1.9" fill="#32b12e"/>
<circle cx="533.7" cy="189.9" r="1.9" fill="#84f55a"/>
<circle cx="468.6" cy="241.5" r="1.9" fill="#ffaa7f"/>
<circle cx="537.4" cy="161.6" r="1.9" fill="#66e64a"/>
<circle cx="519.9" cy="142.3" r="1.9" fill="#44c437"/>
<circle cx="515.4" cy="217.4" r="1.9" fill="#cdf994"/>
<circle cx="535.3" cy="173.8" r="1.9" fill="#a3f871"/>
<circle cx="521.5" cy="178.2" r="1.9" fill="#88f65d"/>
<circle cx="481.3" cy="254.7" r="1.9" fill="#ffbf8e"/>
<circle cx="530.1" cy="178.8" r="1.9" fill="#d7fa9c"/>
<circle cx="534.9" cy="148.5" r="1.9" fill="#59db43"/>
<circle cx="536.2" cy="152.5" r="1.9" fill="#1b991b"/>
<circle cx="510.1" cy="138.9" r="1.9" fill="#159315"/>
<circle cx="515.5" cy="211.5" r="1.9" fill="#e1faa5"/>
<circle cx="538.3" cy="145.7" r="1.9" fill="#4dcd3c"/>
<circle cx="532.7" cy="190.5" r="1.9" fill="#b4f97f"/>
<circle cx="521.7" cy="177.5" r="1.9" fill="#6eeb4f"/>
<circle cx="535.6" cy="188.3" r="1.9" fill="#7ff558"/>
<circle cx="525.9" cy="152.5" r="1.9" fill="#1a981a"/>
<circle cx="512.5" cy="131.0" r="1.9" fill="#007e00"/>
<circle cx="545.0" cy="193.0" r="1.9" fill="#209e20"/>
<circle cx="515.0" cy="129.4" r="1.9" fill="#169416"/>
<circle cx="538.1" cy="129.5" r="1.9" fill="#0f8d0f"/>
<circle cx="481.3" cy="146.6" r="1.9" fill="#6ce94d"/>
<circle cx="526.6" cy="168.9" r="1.9" fill="#45c538"/>
<circle cx="528.5" cy="183.3" r="1.9" fill="#a3f871"/>
<circle cx="521.7" cy="168.7" r="1.9" fill="#a7f874"/>
<circle cx="513.4" cy="174.9" r="1.9" fill="#c4f98c"/>
<circle cx="533.3" cy="168.4" r="1.9" fill="#68e74c"/>
<circle cx="496.6" cy="225.2" r="1.9" fill="#ffce9a"/>
<circle cx="511.9" cy="156.1" r="1.9" fill="#5bdd44"/>
<circle cx="469.9" cy="263.6" r="1.9" fill="#ff4b39"/>
<circle cx="518.5" cy="205.6" r="1.9" fill="#b7f982"/>
<circle cx="530.5" cy="169.8" r="1.9" fill="#65e44a"/>
<circle cx="527.8" cy="153.0" r="1.9" fill="#219f21"/>
<circle cx="485.3" cy="247.9" r="1.9" fill="#ffe1a7"/>
<circle cx="545.4" cy="151.7" r="1.9" fill="#0b890b"/>
<circle cx="542.1" cy="138.2" r="1.9" fill="#28a628"/>
<circle cx="547.1" cy="154.6" r="1.9" fill="#47c739"/>
<circle cx="506.7" cy="169.2" r="1.9" fill="#b9f984"/>
<circle cx="503.1" cy="234.3" r="1.9" fill="#ecfaae"/>
<circle cx="547.2" cy="165.8" r="1.9" fill="#42c236"/>
<circle cx="533.6" cy="180.4" r="1.9" fill="#59db43"/>
<circle cx="533.7" cy="137.9" r="1.9" fill="#189618"/>
<circle cx="520.5" cy="192.1" r="1.9" fill="#c7f98f"/>
<circle cx="489.0" cy="184.9" r="1.9" fill="#cffa96"/>
<circle cx="543.9" cy="153.6" r="1.9" fill="#31b02d"/>
<circle cx="451.8" cy="284.2" r="1.9" fill="#ffbe8e"/>
<circle cx="530.4" cy="186.9" r="1.9" fill="#c1f98a"/>
<circle cx="522.7" cy="140.1" r="1.9" fill="#45c638"/>
<circle cx="500.6" cy="184.8" r="1.9" fill="#ffefb4"/>
<circle cx="530.4" cy="157.1" r="1.9" fill="#24a224"/>
<circle cx="543.5" cy="154.4" r="1.9" fill="#017f01"/>
<circle cx="531.3" cy="134.9" r="1.9" fill="#007e00"/>
<circle cx="504.5" cy="230.2" r="1.9" fill="#edfaaf"/>
<circle cx="544.4" cy="135.9" r="1.9" fill="#159315"/>
<circle cx="535.0" cy="165.1" r="1.9" fill="#36b530"/>
<circle cx="515.9" cy="193.6" r="1.9" fill="#e4faa7"/>
<circle cx="511.0" cy="225.4" r="1.9" fill="#e9faab"/>
<circle cx="520.2" cy="214.2" r="1.9" fill="#7ff458"/>
<circle cx="487.8" cy="251.6" r="1.9" fill="#ffcd99"/>
<circle cx="461.6" cy="273.1" r="1.9" fill="#ff8665"/>
<circle cx="495.1" cy="165.8" r="1.9" fill="#96f866"/>
<circle cx="548.1" cy="144.4" r="1.9" fill="#118f11"/>
<circle cx="527.2" cy="152.5" r="1.9" fill="#36b530"/>
<circle cx="547.8" cy="139.4" r="1.9" fill="#199719"/>
<circle cx="502.7" cy="234.9" r="1.9" fill="#fff6bb"/>
<circle cx="505.3" cy="192.5" r="1.9" fill="#c3f98c"/>
<circle cx="513.5" cy="223.4" r="1.9" fill="#e3faa7"/>
<circle cx="547.6" cy="152.1" r="1.9" fill="#179517"/>
<circle cx="492.7" cy="234.8" r="1.9" fill="#fff1b6"/>
<circle cx="472.5" cy="191.6" r="1.9" fill="#d9fa9e"/>
<circle cx="547.2" cy="137.1" r="1.9" fill="#007e00"/>
<circle cx="509.1" cy="200.4" r="1.9" fill="#e4faa7"/>
<circle cx="528.2" cy="148.9" r="1.9" fill="#209e20"/>
<circle cx="511.1" cy="208.0" r="1.9" fill="#e1faa5"/>
<circle cx="485.2" cy="226.0" r="1.9" fill="#ffd69f"/>
<circle cx="487.1" cy="246.6" r="1.9" fill="#ffc996"/>
<circle cx="523.9" cy="180.1" r="1.9" fill="#8ff761"/>
<circle cx="521.0" cy="189.7" r="1.9" fill="#9ff86d"/>
<circle cx="508.3" cy="145.5" r="1.9" fill="#74ef52"/>
<circle cx="544.4" cy="132.0" r="1.9" fill="#2dab2b"/>
<circle cx="528.0" cy="199.8" r="1.9" fill="#88f65d"/>
<circle cx="539.8" cy="136.3" r="1.9" fill="#0f8d0f"/>
<circle cx="547.3" cy="137.3" r="1.9" fill="#30af2c"/>
<circle cx="493.8" cy="222.7" r="1.9" fill="#ffc492"/>
<circle cx="526.2" cy="171.0" r="1.9" fill="#8ef760"/>
<circle cx="476.9" cy="257.7" r="1.9" fill="#ff9c75"/>
<circle cx="465.4" cy="246.3" r="1.9" fill="#ffdaa2"/>
<circle cx="506.6" cy="222.9" r="1.9" fill="#c4f98c"/>
<circle cx="541.8" cy="172.6" r="1.9" fill="#68e64b"/>
<circle cx="508.7" cy="223.6" r="1.9" fill="#e3faa7"/>
<circle cx="520.7" cy="214.5" r="1.9" fill="#58d943"/>
<circle cx="511.4" cy="214.8" r="1.9" fill="#ffdba3"/>
<circle cx="518.8" cy="132.3" r="1.9" fill="#4ccd3c"/>
<circle cx="517.5" cy="211.7" r="1.9" fill="#fafaba"/>
<circle cx="523.3" cy="192.4" r="1.9" fill="#adf979"/>
<circle cx="544.5" cy="152.2" r="1.9" fill="#149214"/>
<circle cx="531.0" cy="186.1" r="1.9" fill="#75ef52"/>
<circle cx="501.6" cy="214.3" r="1.9" fill="#fff2b7"/>
<circle cx="481.0" cy="250.1" r="1.9" fill="#ff8a68"/>
<circle cx="530.2" cy="150.7" r="1.9" fill="#22a022"/>
<circle cx="536.6" cy="146.9" r="1.9" fill="#179517"/>
<circle cx="452.5" cy="288.5" r="1.9" fill="#ff6a50"/>
<circle cx="519.4" cy="179.6" r="1.9" fill="#a5f872"/>
<circle cx="526.7" cy="169.8" r="1.9" fill="#78f154"/>
<circle cx="538.5" cy="182.2" r="1.9" fill="#99f869"/>
<circle cx="484.2" cy="251.5" r="1.9" fill="#ffbd8d"/>
<circle cx="501.6" cy="217.8" r="1.9" fill="#fff5b9"/>
<circle cx="526.1" cy="204.2" r="1.9" fill="#65e54a"/>
<circle cx="540.7" cy="135.3" r="1.9" fill="#088608"/>
<circle cx="491.1" cy="243.5" r="1.9" fill="#ff7a5c"/>
<circle cx="499.1" cy="135.6" r="1.9" fill="#038103"/>
<circle cx="468.6" cy="245.7" r="1.9" fill="#ffc291"/>
<circle cx="527.7" cy="146.7" r="1.9" fill="#0a880a"/>
<circle cx="508.1" cy="151.1" r="1.9" fill="#4ccd3c"/>
<circle cx="523.9" cy="204.6" r="1.9" fill="#bef988"/>
<circle cx="548.1" cy="142.5" r="1.9" fill="#028002"/>
<circle cx="539.0" cy="168.9" r="1.9" fill="#58da43"/>
<circle cx="489.9" cy="230.6" r="1.9" fill="#ffb587"/>
<circle cx="468.3" cy="262.4" r="1.9" fill="#ffaf83"/>
<circle cx="496.6" cy="230.8" r="1.9" fill="#fff3b7"/>
<circle cx="543.6" cy="145.6" r="1.9" fill="#209e20"/>
<circle cx="468.6" cy="249.6" r="1.9" fill="#ff9c75"/>
<circle cx="545.7" cy="149.7" r="1.9" fill="#2dac2b"/>
<circle cx="541.2" cy="174.1" r="1.9" fill="#61e248"/>
<circle cx="519.4" cy="203.3" r="1.9" fill="#98f867"/>
<circle cx="455.1" cy="288.8" r="1.9" fill="#ff7a5c"/>
<circle cx="508.6" cy="192.7" r="1.9" fill="#fffabe"/>
<circle cx="493.2" cy="129.6" r="1.9" fill="#22a022"/>
<circle cx="545.6" cy="164.4" r="1.9" fill="#6ae84c"/>
<circle cx="448.7" cy="295.8" r="1.9" fill="#ff5c45"/>
<circle cx="468.1" cy="262.7" r="1.9" fill="#ff9b74"/>
<circle cx="473.0" cy="264.9" r="1.9" fill="#ffa67c"/>
<circle cx="484.1" cy="208.2" r="1.9" fill="#fff1b6"/>
<circle cx="549.5" cy="139.5" r="1.9" fill="#0a880a"/>
<circle cx="475.2" cy="252.9" r="1.9" fill="#ffaf83"/>
<circle cx="531.1" cy="126.0" r="1.9" fill="#007e00"/>
<circle cx="456.2" cy="286.5" r="1.9" fill="#ff5c45"/>
<circle cx="497.0" cy="156.7" r="1.9" fill="#179517"/>
<circle cx="549.3" cy="156.4" r="1.9" fill="#159315"/>
<circle cx="502.9" cy="198.6" r="1.9" fill="#eafaad"/>
<circle cx="503.6" cy="143.2" r="1.9" fill="#1b991b"/>
<circle cx="504.1" cy="229.7" r="1.9" fill="#f4fab5"/>
<circle cx="514.3" cy="215.1" r="1.9" fill="#dcfaa0"/>
<circle cx="529.2" cy="188.7" r="1.9" fill="#a3f871"/>
<circle cx="533.5" cy="142.2" r="1.9" fill="#007e00"/>
<circle cx="538.5" cy="181.8" r="1.9" fill="#73ee51"/>
<circle cx="522.8" cy="201.9" r="1.9" fill="#b6f981"/>
<circle cx="540.3" cy="179.2" r="1.9" fill="#6dea4e"/>
<circle cx="545.9" cy="164.3" r="1.9" fill="#1b991b"/>
<circle cx="548.5" cy="149.6" r="1.9" fill="#028002"/>
<circle cx="495.4" cy="236.2" r="1.9" fill="#ffd69f"/>
<circle cx="463.9" cy="238.1" r="1.9" fill="#ffca96"/>
<circle cx="518.4" cy="187.5" r="1.9" fill="#d2fa99"/>
<circle cx="488.4" cy="237.3" r="1.9" fill="#ffe2a8"/>
<circle cx="470.7" cy="267.3" r="1.9" fill="#ffa37a"/>
<circle cx="500.4" cy="158.7" r="1.9" fill="#6feb4f"/>
<circle cx="545.6" cy="137.8" r="1.9" fill="#007e00"/>
<circle cx="495.1" cy="219.1" r="1.9" fill="#ffac81"/>
<circle cx="522.1" cy="212.3" r="1.9" fill="#9bf86a"/>
<circle cx="520.9" cy="202.5" r="1.9" fill="#b2f97d"/>
<circle cx="467.9" cy="270.6" r="1.9" fill="#ff7f5f"/>
<circle cx="501.4" cy="148.6" r="1.9" fill="#2aa829"/>
<circle cx="471.4" cy="245.5" r="1.9" fill="#ffa279"/>
<circle cx="508.2" cy="199.9" r="1.9" fill="#fff6ba"/>
<circle cx="519.0" cy="216.4" r="1.9" fill="#cffa96"/>
<circle cx="537.6" cy="188.1" r="1.9" fill="#41c136"/>
<circle cx="525.0" cy="145.4" r="1.9" fill="#058305"/>
<circle cx="522.2" cy="182.0" r="1.9" fill="#8ff761"/>
<circle cx="527.7" cy="178.9" r="1.9" fill="#86f65c"/>
<circle cx="519.2" cy="160.4" r="1.9" fill="#61e248"/>
<circle cx="540.2" cy="161.4" r="1.9" fill="#3dbd34"/>
<circle cx="500.3" cy="229.5" r="1.9" fill="#89f65e"/>
<circle cx="529.7" cy="160.8" r="1.9" fill="#68e74b"/>
<circle cx="523.7" cy="144.0" r="1.9" fill="#149214"/>
<circle cx="533.1" cy="146.3" r="1.9" fill="#209e20"/>
<circle cx="537.7" cy="132.5" r="1.9" fill="#0d8b0d"/>
<circle cx="548.1" cy="153.7" r="1.9" fill="#4bcc3c"/>
<circle cx="537.2" cy="149.9" r="1.9" fill="#3cbc33"/>
<circle cx="520.2" cy="205.7" r="1.9" fill="#e8faab"/>
<circle cx="503.4" cy="236.6" r="1.9" fill="#b9f984"/>
<circle cx="498.4" cy="228.4" r="1.9" fill="#e9faab"/>
<circle cx="504.3" cy="218.4" r="1.9" fill="#a0f86e"/>
<circle cx="531.2" cy="185.7" r="1.9" fill="#88f65d"/>
<circle cx="503.2" cy="233.3" r="1.9" fill="#fdfabd"/>
<circle cx="515.9" cy="215.6" r="1.9" fill="#b1f97d"/>
<circle cx="517.5" cy="202.6" r="1.9" fill="#ffeeb3"/>
<circle cx="538.1" cy="131.7" r="1.9" fill="#048204"/>
<circle cx="547.5" cy="135.1" r="1.9" fill="#007e00"/>
<circle cx="519.7" cy="147.5" r="1.9" fill="#169416"/>
<circle cx="494.2" cy="221.3" r="1.9" fill="#e1faa5"/>
<circle cx="465.2" cy="188.5" r="1.9" fill="#ffeab0"/>
<circle cx="470.7" cy="114.0" r="1.9" fill="#26a426"/>
<circle cx="537.0" cy="187.0" r="1.9" fill="#94f864"/>
<circle cx="527.1" cy="177.3" r="1.9" fill="#6eeb4f"/>
<circle cx="474.6" cy="266.8" r="1.9" fill="#ff9f77"/>
<circle cx="527.5" cy="175.6" r="1.9" fill="#8af65e"/>
<circle cx="446.0" cy="95.0" r="1.9" fill="#43c337"/>
<circle cx="505.2" cy="148.1" r="1.9" fill="#37b630"/>
<circle cx="534.3" cy="170.0" r="1.9" fill="#7af355"/>
<circle cx="524.9" cy="133.5" r="1.9" fill="#27a527"/>
<circle cx="529.1" cy="193.2" r="1.9" fill="#7bf356"/>
<circle cx="532.9" cy="130.3" r="1.9" fill="#017f01"/>
<circle cx="481.9" cy="252.2" r="1.9" fill="#ff7558"/>
<circle cx="475.2" cy="156.6" r="1.9" fill="#75ef52"/>
<circle cx="538.7" cy="168.3" r="1.9" fill="#59da43"/>
<circle cx="500.3" cy="225.3" r="1.9" fill="#ffe9af"/>
<circle cx="502.6" cy="234.0" r="1.9" fill="#dafa9f"/>
<circle cx="511.6" cy="174.0" r="1.9" fill="#b9f983"/>
<circle cx="531.8" cy="137.7" r="1.9" fill="#36b530"/>
<circle cx="524.1" cy="210.8" r="1.9" fill="#98f868"/>
<circle cx="517.8" cy="214.7" r="1.9" fill="#a8f975"/>
<circle cx="529.4" cy="183.3" r="1.9" fill="#71ed50"/>
<circle cx="535.7" cy="138.0" r="1.9" fill="#25a325"/>
<circle cx="511.1" cy="226.2" r="1.9" fill="#cdf994"/>
<circle cx="528.3" cy="138.6" r="1.9" fill="#22a022"/>
<circle cx="499.5" cy="240.1" r="1.9" fill="#ffecb2"/>
<circle cx="538.7" cy="164.1" r="1.9" fill="#5ee046"/>
<circle cx="514.9" cy="203.5" r="1.9" fill="#fff1b6"/>
<circle cx="471.9" cy="258.8" r="1.9" fill="#ff8a68"/>
<circle cx="536.8" cy="180.7" r="1.9" fill="#8df760"/>
<circle cx="495.6" cy="218.8" r="1.9" fill="#ffbc8c"/>
<circle cx="489.5" cy="204.5" r="1.9" fill="#fff1b6"/>
<circle cx="470.1" cy="262.4" r="1.9" fill="#ff8f6b"/>
<circle cx="511.8" cy="216.5" r="1.9" fill="#d4fa9a"/>
<circle cx="453.9" cy="287.4" r="1.9" fill="#ff5640"/>
<circle cx="483.8" cy="256.1" r="1.9" fill="#ffb587"/>
<circle cx="490.4" cy="211.4" r="1.9" fill="#dafa9f"/>
<circle cx="535.5" cy="130.3" r="1.9" fill="#007e00"/>
<circle cx="519.7" cy="147.9" r="1.9" fill="#28a628"/>
<circle cx="517.6" cy="219.7" r="1.9" fill="#bcf986"/>
<circle cx="545.9" cy="150.3" r="1.9" fill="#139113"/>
<circle cx="534.4" cy="149.0" r="1.9" fill="#209e20"/>
<circle cx="506.5" cy="209.6" r="1.9" fill="#b9f983"/>
<circle cx="488.9" cy="234.1" r="1.9" fill="#ffcd98"/>
<circle cx="509.1" cy="218.7" r="1.9" fill="#fff2b7"/>
<circle cx="527.2" cy="183.2" r="1.9" fill="#cdf994"/>
<circle cx="523.8" cy="159.4" r="1.9" fill="#89f65d"/>
<circle cx="469.0" cy="119.5" r="1.9" fill="#37b731"/>
<circle cx="537.5" cy="144.2" r="1.9" fill="#219f21"/>
<circle cx="460.5" cy="274.8" r="1.9" fill="#ff9c75"/>
<circle cx="525.2" cy="207.1" r="1.9" fill="#d9fa9e"/>
<circle cx="536.5" cy="152.9" r="1.9" fill="#25a325"/>
<circle cx="491.3" cy="227.5" r="1.9" fill="#ffcb97"/>
<circle cx="514.4" cy="213.7" r="1.9" fill="#c0f989"/>
<circle cx="484.0" cy="246.7" r="1.9" fill="#ffb98a"/>
<circle cx="544.7" cy="157.9" r="1.9" fill="#028002"/>
<circle cx="538.6" cy="165.7" r="1.9" fill="#59da43"/>
<circle cx="497.9" cy="234.0" r="1.9" fill="#ffefb4"/>
<circle cx="540.6" cy="144.6" r="1.9" fill="#1b991b"/>
<circle cx="546.7" cy="132.3" r="1.9" fill="#007e00"/>
<circle cx="496.5" cy="235.9" r="1.9" fill="#ffd59e"/>
<circle cx="529.2" cy="184.3" r="1.9" fill="#d7fa9d"/>
<circle cx="534.9" cy="180.2" r="1.9" fill="#7df457"/>
<circle cx="535.6" cy="176.7" r="1.9" fill="#83f55a"/>
<circle cx="517.8" cy="211.0" r="1.9" fill="#fefabe"/>
<circle cx="499.0" cy="226.9" r="1.9" fill="#fff0b5"/>
<circle cx="541.9" cy="163.2" r="1.9" fill="#4dcd3c"/>
<circle cx="501.6" cy="221.1" r="1.9" fill="#fff2b7"/>
<circle cx="528.3" cy="176.8" r="1.9" fill="#5fe146"/>
<circle cx="525.9" cy="137.7" r="1.9" fill="#159315"/>
<circle cx="540.5" cy="181.7" r="1.9" fill="#7bf355"/>
<circle cx="518.6" cy="181.3" r="1.9" fill="#b2f97d"/>
<circle cx="523.8" cy="187.3" r="1.9" fill="#cbf992"/>
<circle cx="544.7" cy="146.0" r="1.9" fill="#2dab2b"/>
<circle cx="512.7" cy="216.2" r="1.9" fill="#f5fab5"/>
<circle cx="507.9" cy="219.5" r="1.9" fill="#fff0b6"/>
<circle cx="488.2" cy="252.4" r="1.9" fill="#ffd9a1"/>
<circle cx="529.5" cy="186.7" r="1.9" fill="#bbf985"/>
<circle cx="545.2" cy="157.5" r="1.9" fill="#45c538"/>
<circle cx="544.2" cy="159.4" r="1.9" fill="#34b32f"/>
<circle cx="482.1" cy="259.1" r="1.9" fill="#ffdaa2"/>
<circle cx="537.2" cy="171.1" r="1.9" fill="#80f559"/>
<circle cx="503.3" cy="190.8" r="1.9" fill="#a7f874"/>
<circle cx="532.4" cy="146.7" r="1.9" fill="#1b991b"/>
<circle cx="509.7" cy="228.8" r="1.9" fill="#b9f983"/>
<circle cx="431.8" cy="228.0" r="1.9" fill="#ffd19c"/>
<circle cx="536.5" cy="163.6" r="1.9" fill="#48c83a"/>
<circle cx="514.3" cy="153.0" r="1.9" fill="#30ae2c"/>
<circle cx="517.6" cy="200.9" r="1.9" fill="#d9fa9f"/>
<circle cx="545.7" cy="148.9" r="1.9" fill="#007e00"/>
<circle cx="534.2" cy="192.9" r="1.9" fill="#ecfaae"/>
<circle cx="546.0" cy="134.3" r="1.9" fill="#169416"/>
<circle cx="509.9" cy="154.9" r="1.9" fill="#87f65d"/>
<circle cx="528.4" cy="178.6" r="1.9" fill="#baf984"/>
<circle cx="472.3" cy="260.5" r="1.9" fill="#ff8362"/>
<circle cx="519.9" cy="170.7" r="1.9" fill="#8af65e"/>
<circle cx="523.2" cy="202.7" r="1.9" fill="#adf979"/>
<circle cx="544.0" cy="155.6" r="1.9" fill="#2eac2b"/>
<circle cx="518.7" cy="203.5" r="1.9" fill="#baf984"/>
<circle cx="547.6" cy="138.1" r="1.9" fill="#22a022"/>
<circle cx="493.1" cy="245.4" r="1.9" fill="#ffac81"/>
<circle cx="505.5" cy="231.5" r="1.9" fill="#ffe6ad"/>
<circle cx="498.1" cy="195.0" r="1.9" fill="#f5fab5"/>
<circle cx="527.5" cy="143.9" r="1.9" fill="#199719"/>
<circle cx="515.0" cy="208.8" r="1.9" fill="#b6f980"/>
<circle cx="542.1" cy="177.3" r="1.9" fill="#7df457"/>
<circle cx="548.1" cy="154.6" r="1.9" fill="#139113"/>
<circle cx="545.6" cy="141.7" r="1.9" fill="#159315"/>
<circle cx="467.2" cy="170.1" r="1.9" fill="#8ef760"/>
<circle cx="517.7" cy="178.2" r="1.9" fill="#cffa96"/>
<circle cx="474.6" cy="260.1" r="1.9" fill="#ff9771"/>
<circle cx="519.5" cy="166.3" r="1.9" fill="#75f052"/>
<circle cx="547.8" cy="156.6" r="1.9" fill="#0a880a"/>
<circle cx="510.9" cy="227.6" r="1.9" fill="#fcfabc"/>
<circle cx="523.2" cy="193.4" r="1.9" fill="#cffa95"/>
<circle cx="540.9" cy="145.5" r="1.9" fill="#1f9d1f"/>
<circle cx="531.8" cy="172.5" r="1.9" fill="#bff988"/>
<circle cx="545.8" cy="164.9" r="1.9" fill="#3dbd34"/>
<circle cx="512.2" cy="168.4" r="1.9" fill="#94f864"/>
<circle cx="508.4" cy="206.2" r="1.9" fill="#eafaad"/>
<circle cx="473.2" cy="222.9" r="1.9" fill="#ffd7a0"/>
<circle cx="534.5" cy="172.7" r="1.9" fill="#70ec50"/>
<circle cx="527.8" cy="136.5" r="1.9" fill="#179517"/>
<circle cx="540.0" cy="145.9" r="1.9" fill="#3aba32"/>
<circle cx="531.4" cy="130.6" r="1.9" fill="#098709"/>
<circle cx="546.8" cy="141.4" r="1.9" fill="#038103"/>
<circle cx="514.4" cy="125.7" r="1.9" fill="#37b630"/>
<circle cx="521.7" cy="193.1" r="1.9" fill="#f1fab2"/>
<circle cx="531.5" cy="175.0" r="1.9" fill="#6ce94d"/>
<circle cx="482.1" cy="250.4" r="1.9" fill="#ffd69f"/>
<circle cx="505.2" cy="234.5" r="1.9" fill="#87f65d"/>
<circle cx="501.8" cy="228.8" r="1.9" fill="#e8faab"/>
<circle cx="516.8" cy="217.8" r="1.9" fill="#90f762"/>
<circle cx="514.7" cy="141.2" r="1.9" fill="#007e00"/>
<circle cx="539.7" cy="179.9" r="1.9" fill="#68e74b"/>
<circle cx="515.4" cy="211.5" r="1.9" fill="#adf979"/>
<circle cx="518.1" cy="140.9" r="1.9" fill="#43c337"/>
<circle cx="531.4" cy="157.9" r="1.9" fill="#56d842"/>
<circle cx="503.5" cy="222.2" r="1.9" fill="#b2f97d"/>
<circle cx="509.8" cy="153.1" r="1.9" fill="#2caa2a"/>
<circle cx="511.3" cy="171.2" r="1.9" fill="#a4f871"/>
<circle cx="519.8" cy="156.6" r="1.9" fill="#3ebe34"/>
<circle cx="478.4" cy="259.1" r="1.9" fill="#ff8665"/>
<circle cx="521.4" cy="190.4" r="1.9" fill="#aff97b"/>
<circle cx="548.4" cy="159.8" r="1.9" fill="#50d13e"/>
<circle cx="455.9" cy="285.2" r="1.9" fill="#ff5d46"/>
<circle cx="493.6" cy="222.5" r="1.9" fill="#ffc795"/>
<circle cx="470.0" cy="268.0" r="1.9" fill="#ff8866"/>
<circle cx="486.3" cy="236.8" r="1.9" fill="#ffe1a8"/>
<circle cx="533.0" cy="137.1" r="1.9" fill="#44c538"/>
<circle cx="534.5" cy="167.1" r="1.9" fill="#60e147"/>
<circle cx="486.0" cy="153.6" r="1.9" fill="#159315"/>
<circle cx="539.2" cy="169.9" r="1.9" fill="#82f55a"/>
<circle cx="461.1" cy="263.9" r="1.9" fill="#ff5e46"/>
<circle cx="492.0" cy="249.5" r="1.9" fill="#ffcc98"/>
<circle cx="518.8" cy="204.4" r="1.9" fill="#fcfabb"/>
<circle cx="490.8" cy="248.5" r="1.9" fill="#fff0b5"/>
<circle cx="519.5" cy="207.7" r="1.9" fill="#b0f97b"/>
<circle cx="503.7" cy="215.5" r="1.9" fill="#ffa57c"/>
<circle cx="532.5" cy="128.0" r="1.9" fill="#007e00"/>
<circle cx="475.2" cy="259.0" r="1.9" fill="#ff654c"/>
<circle cx="523.8" cy="183.4" r="1.9" fill="#78f154"/>
<circle cx="504.7" cy="235.4" r="1.9" fill="#c9f991"/>
<circle cx="525.1" cy="140.5" r="1.9" fill="#058305"/>
<circle cx="525.8" cy="205.8" r="1.9" fill="#9ef86c"/>
<circle cx="515.0" cy="223.0" r="1.9" fill="#9ef86c"/>
<circle cx="526.6" cy="168.2" r="1.9" fill="#85f55b"/>
<circle cx="544.5" cy="162.2" r="1.9" fill="#4aca3b"/>
<circle cx="548.0" cy="135.3" r="1.9" fill="#038103"/>
<circle cx="509.5" cy="120.8" r="1.9" fill="#3ab932"/>
<circle cx="425.4" cy="177.0" r="1.9" fill="#8ff761"/>
<circle cx="522.5" cy="208.2" r="1.9" fill="#82f559"/>
<circle cx="504.2" cy="234.2" r="1.9" fill="#fff7bc"/>
<circle cx="481.9" cy="241.9" r="1.9" fill="#ff9f77"/>
<circle cx="540.1" cy="175.3" r="1.9" fill="#59da43"/>
<circle cx="528.7" cy="132.6" r="1.9" fill="#108e10"/>
<circle cx="516.4" cy="192.6" r="1.9" fill="#c5f98d"/>
<circle cx="541.4" cy="154.8" r="1.9" fill="#4acb3b"/>
<circle cx="481.6" cy="152.1" r="1.9" fill="#76f053"/>
<circle cx="536.9" cy="162.9" r="1.9" fill="#52d33f"/>
<circle cx="530.1" cy="194.7" r="1.9" fill="#5ee046"/>
<circle cx="510.7" cy="207.8" r="1.9" fill="#dcfaa1"/>
<circle cx="489.1" cy="211.2" r="1.9" fill="#d4fa9a"/>
<circle cx="547.4" cy="159.2" r="1.9" fill="#048204"/>
<circle cx="501.8" cy="166.7" r="1.9" fill="#baf984"/>
<circle cx="480.3" cy="245.0" r="1.9" fill="#ff9d75"/>
<circle cx="478.0" cy="257.9" r="1.9" fill="#ff644b"/>
<circle cx="549.4" cy="145.2" r="1.9" fill="#007e00"/>
<circle cx="476.1" cy="235.5" r="1.9" fill="#ffd19c"/>
<circle cx="506.0" cy="217.8" r="1.9" fill="#ffcf9a"/>
<circle cx="546.3" cy="170.4" r="1.9" fill="#40c035"/>
<circle cx="521.2" cy="212.2" r="1.9" fill="#69e74c"/>
<circle cx="488.9" cy="244.8" r="1.9" fill="#ffecb2"/>
<circle cx="534.2" cy="126.4" r="1.9" fill="#48c93a"/>
<circle cx="523.2" cy="136.0" r="1.9" fill="#0f8d0f"/>
<circle cx="492.0" cy="200.7" r="1.9" fill="#c5f98d"/>
<circle cx="497.7" cy="235.3" r="1.9" fill="#e8faab"/>
<circle cx="470.6" cy="262.6" r="1.9" fill="#ff634a"/>
<circle cx="549.6" cy="141.3" r="1.9" fill="#007e00"/>
<circle cx="516.3" cy="134.6" r="1.9" fill="#088608"/>
<circle cx="429.7" cy="178.2" r="1.9" fill="#cefa95"/>
<circle cx="531.1" cy="174.4" r="1.9" fill="#78f154"/>
<circle cx="537.9" cy="147.1" r="1.9" fill="#1e9c1e"/>
<circle cx="533.9" cy="165.7" r="1.9" fill="#28a628"/>
<circle cx="529.7" cy="171.9" r="1.9" fill="#64e449"/>
<circle cx="515.6" cy="195.1" r="1.9" fill="#defaa3"/>
<circle cx="514.5" cy="135.0" r="1.9" fill="#118f11"/>
<circle cx="493.0" cy="186.9" r="1.9" fill="#bef987"/>
<circle cx="497.1" cy="141.3" r="1.9" fill="#30af2c"/>
<circle cx="517.6" cy="208.3" r="1.9" fill="#cdf994"/>
<circle cx="483.7" cy="246.1" r="1.9" fill="#ffd8a1"/>
<circle cx="535.4" cy="132.4" r="1.9" fill="#118f11"/>
<circle cx="528.4" cy="144.7" r="1.9" fill="#219f21"/>
<circle cx="504.9" cy="229.7" r="1.9" fill="#fcfabb"/>
<circle cx="544.7" cy="149.6" r="1.9" fill="#2baa2a"/>
<circle cx="540.8" cy="157.4" r="1.9" fill="#50d13e"/>
<circle cx="525.6" cy="181.3" r="1.9" fill="#94f864"/>
<circle cx="514.5" cy="191.8" r="1.9" fill="#92f863"/>
<circle cx="527.1" cy="191.0" r="1.9" fill="#98f868"/>
<circle cx="536.7" cy="171.4" r="1.9" fill="#48c83a"/>
<circle cx="477.5" cy="262.4" r="1.9" fill="#ff9973"/>
<circle cx="518.3" cy="139.5" r="1.9" fill="#159315"/>
<circle cx="510.1" cy="229.3" r="1.9" fill="#bbf985"/>
<circle cx="513.3" cy="221.4" r="1.9" fill="#e8faab"/>
<circle cx="523.3" cy="204.8" r="1.9" fill="#71ed50"/>
<circle cx="498.7" cy="218.8" r="1.9" fill="#f1fab2"/>
<circle cx="502.7" cy="144.1" r="1.9" fill="#48c83a"/>
<circle cx="510.9" cy="212.5" r="1.9" fill="#eefab0"/>
<circle cx="513.0" cy="184.1" r="1.9" fill="#99f868"/>
<circle cx="545.2" cy="143.6" r="1.9" fill="#007e00"/>
<circle cx="535.8" cy="182.7" r="1.9" fill="#5cdd45"/>
<circle cx="509.4" cy="199.1" r="1.9" fill="#e5faa8"/>
<circle cx="514.0" cy="142.2" r="1.9" fill="#68e74c"/>
<circle cx="523.9" cy="180.6" r="1.9" fill="#adf979"/>
<circle cx="537.4" cy="133.3" r="1.9" fill="#007e00"/>
<circle cx="523.6" cy="149.5" r="1.9" fill="#26a426"/>
<circle cx="529.7" cy="137.1" r="1.9" fill="#28a628"/>
<circle cx="487.7" cy="209.9" r="1.9" fill="#d7fa9d"/>
<circle cx="521.0" cy="169.4" r="1.9" fill="#a2f870"/>
<circle cx="525.2" cy="184.9" r="1.9" fill="#4ecf3d"/>
<circle cx="535.6" cy="188.9" r="1.9" fill="#3ab932"/>
<circle cx="534.1" cy="178.4" r="1.9" fill="#90f762"/>
<circle cx="542.5" cy="133.2" r="1.9" fill="#0c8a0c"/>
<circle cx="539.2" cy="184.9" r="1.9" fill="#8af65e"/>
<circle cx="504.5" cy="219.3" r="1.9" fill="#ffb285"/>
<circle cx="498.6" cy="223.3" r="1.9" fill="#ffefb4"/>
<circle cx="526.6" cy="176.6" r="1.9" fill="#80f558"/>
<circle cx="495.5" cy="235.7" r="1.9" fill="#ffdaa2"/>
<circle cx="530.2" cy="134.2" r="1.9" fill="#29a729"/>
<circle cx="491.7" cy="239.4" r="1.9" fill="#e7faaa"/>
<circle cx="546.0" cy="150.1" r="1.9" fill="#2caa2a"/>
<circle cx="504.9" cy="232.7" r="1.9" fill="#effab1"/>
<circle cx="543.8" cy="170.7" r="1.9" fill="#26a426"/>
<circle cx="530.8" cy="179.5" r="1.9" fill="#b8f982"/>
<circle cx="521.8" cy="187.0" r="1.9" fill="#bbf985"/>
<circle cx="537.9" cy="172.0" r="1.9" fill="#6eeb4e"/>
<circle cx="544.2" cy="163.4" r="1.9" fill="#6ae84c"/>
<circle cx="531.5" cy="159.4" r="1.9" fill="#79f254"/>
<circle cx="544.8" cy="162.1" r="1.9" fill="#41c136"/>
<circle cx="523.1" cy="202.8" r="1.9" fill="#dcfaa1"/>
<circle cx="530.3" cy="170.6" r="1.9" fill="#85f65b"/>
<circle cx="549.3" cy="141.3" r="1.9" fill="#007e00"/>
<circle cx="539.6" cy="138.2" r="1.9" fill="#2ba92a"/>
<circle cx="531.3" cy="162.9" r="1.9" fill="#4ccd3c"/>
<circle cx="550.5" cy="141.7" r="1.9" fill="#007e00"/>
<circle cx="494.9" cy="236.1" r="1.9" fill="#ffa57c"/>
<circle cx="534.7" cy="184.9" r="1.9" fill="#bbf985"/>
<circle cx="546.2" cy="138.3" r="1.9" fill="#0c8a0c"/>
<circle cx="501.8" cy="229.3" r="1.9" fill="#ffdca4"/>
<circle cx="494.8" cy="238.0" r="1.9" fill="#ffb083"/>
<circle cx="526.7" cy="193.7" r="1.9" fill="#9df86b"/>
<circle cx="547.2" cy="162.1" r="1.9" fill="#55d641"/>
<circle cx="537.2" cy="165.4" r="1.9" fill="#53d440"/>
<circle cx="538.2" cy="152.2" r="1.9" fill="#23a123"/>
<circle cx="499.4" cy="237.9" r="1.9" fill="#ffd8a1"/>
<circle cx="507.9" cy="225.1" r="1.9" fill="#dffaa4"/>
<circle cx="536.6" cy="127.7" r="1.9" fill="#0c8a0c"/>
<circle cx="522.8" cy="163.3" r="1.9" fill="#40c036"/>
<circle cx="538.4" cy="131.1" r="1.9" fill="#007e00"/>
<circle cx="504.3" cy="226.3" r="1.9" fill="#e4faa7"/>
<circle cx="548.3" cy="141.3" r="1.9" fill="#0d8b0d"/>
<circle cx="545.0" cy="168.2" r="1.9" fill="#1a981a"/>
<circle cx="511.9" cy="151.9" r="1.9" fill="#65e449"/>
<circle cx="508.5" cy="205.8" r="1.9" fill="#fff3b7"/>
<circle cx="524.7" cy="187.3" r="1.9" fill="#adf979"/>
<circle cx="485.1" cy="244.9" r="1.9" fill="#f8fab8"/>
<circle cx="495.2" cy="196.7" r="1.9" fill="#fff1b6"/>
<circle cx="539.4" cy="130.8" r="1.9" fill="#007e00"/>
<circle cx="513.2" cy="218.5" r="1.9" fill="#d8fa9d"/>
<circle cx="521.0" cy="206.0" r="1.9" fill="#d4fa9a"/>
<circle cx="532.0" cy="196.0" r="1.9" fill="#86f65c"/>
<circle cx="531.5" cy="197.9" r="1.9" fill="#5cde45"/>
<circle cx="539.4" cy="175.1" r="1.9" fill="#6ae84c"/>
<circle cx="504.5" cy="129.5" r="1.9" fill="#007e00"/>
<circle cx="477.5" cy="256.1" r="1.9" fill="#ffd8a1"/>
<circle cx="529.5" cy="160.0" r="1.9" fill="#2ba92a"/>
<circle cx="528.7" cy="134.6" r="1.9" fill="#26a426"/>
<circle cx="473.4" cy="268.1" r="1.9" fill="#ff7a5b"/>
<circle cx="486.6" cy="249.3" r="1.9" fill="#ffc794"/>
<circle cx="486.0" cy="251.8" r="1.9" fill="#ffe3a9"/>
<circle cx="542.3" cy="151.3" r="1.9" fill="#0f8d0f"/>
<circle cx="510.2" cy="197.3" r="1.9" fill="#edfaaf"/>
<circle cx="520.6" cy="214.1" r="1.9" fill="#bdf987"/>
<circle cx="525.4" cy="127.8" r="1.9" fill="#007e00"/>
<circle cx="511.4" cy="220.1" r="1.9" fill="#aff97b"/>
<circle cx="514.4" cy="220.2" r="1.9" fill="#cbf993"/>
<circle cx="512.9" cy="200.2" r="1.9" fill="#ffd69f"/>
<circle cx="493.7" cy="243.7" r="1.9" fill="#ffd29d"/>
<circle cx="528.3" cy="176.9" r="1.9" fill="#a3f870"/>
<circle cx="530.5" cy="182.3" r="1.9" fill="#67e64b"/>
<circle cx="528.6" cy="142.3" r="1.9" fill="#169416"/>
<circle cx="533.9" cy="140.2" r="1.9" fill="#0d8b0d"/>
<circle cx="501.6" cy="238.8" r="1.9" fill="#e5faa8"/>
<circle cx="513.4" cy="156.4" r="1.9" fill="#39b831"/>
<circle cx="515.2" cy="214.9" r="1.9" fill="#fff8bc"/>
<circle cx="506.0" cy="225.2" r="1.9" fill="#c4f98c"/>
<circle cx="547.9" cy="154.8" r="1.9" fill="#44c538"/>
<circle cx="513.8" cy="191.3" r="1.9" fill="#c6f98e"/>
<circle cx="499.8" cy="177.5" r="1.9" fill="#edfaaf"/>
<circle cx="539.1" cy="141.8" r="1.9" fill="#30af2c"/>
<circle cx="546.3" cy="146.0" r="1.9" fill="#1f9d1f"/>
<circle cx="536.2" cy="178.0" r="1.9" fill="#c6f98f"/>
<circle cx="516.2" cy="163.6" r="1.9" fill="#8bf65e"/>
<circle cx="526.4" cy="174.5" r="1.9" fill="#e1faa5"/>
<circle cx="530.0" cy="129.6" r="1.9" fill="#2aa829"/>
<circle cx="515.1" cy="185.1" r="1.9" fill="#e8faab"/>
<circle cx="507.1" cy="228.7" r="1.9" fill="#e9faab"/>
<circle cx="449.3" cy="291.2" r="1.9" fill="#ff8363"/>
<circle cx="527.0" cy="154.9" r="1.9" fill="#32b12e"/>
<circle cx="516.8" cy="215.9" r="1.9" fill="#c2f98b"/>
<circle cx="562.0" cy="183.0" r="1.9" fill="#1c9a1c"/>
<circle cx="488.9" cy="191.4" r="1.9" fill="#fff6bb"/>
<circle cx="487.5" cy="243.2" r="1.9" fill="#ffdea5"/>
<circle cx="511.3" cy="186.9" r="1.9" fill="#e7faaa"/>
<circle cx="543.2" cy="173.1" r="1.9" fill="#68e74c"/>
<circle cx="517.5" cy="213.7" r="1.9" fill="#abf977"/>
<circle cx="507.9" cy="204.4" r="1.9" fill="#c0f989"/>
<circle cx="502.2" cy="160.1" r="1.9" fill="#84f55a"/>
<circle cx="490.5" cy="245.8" r="1.9" fill="#ffd49e"/>
<circle cx="495.8" cy="207.0" r="1.9" fill="#e0faa4"/>
<circle cx="504.0" cy="217.4" r="1.9" fill="#e3faa6"/>
<circle cx="514.2" cy="172.4" r="1.9" fill="#91f862"/>
<circle cx="479.5" cy="258.1" r="1.9" fill="#ff7759"/>
<circle cx="534.5" cy="138.4" r="1.9" fill="#26a426"/>
<circle cx="522.3" cy="182.8" r="1.9" fill="#96f866"/>
<circle cx="536.8" cy="145.8" r="1.9" fill="#2ba92a"/>
<circle cx="496.9" cy="191.6" r="1.9" fill="#b8f982"/>
<circle cx="500.5" cy="232.9" r="1.9" fill="#fff2b7"/>
<circle cx="496.3" cy="225.5" r="1.9" fill="#fff5b9"/>
<circle cx="523.6" cy="167.6" r="1.9" fill="#59da43"/>
<circle cx="524.7" cy="186.5" r="1.9" fill="#a5f872"/>
<circle cx="499.6" cy="237.8" r="1.9" fill="#c4f98d"/>
<circle cx="538.2" cy="144.6" r="1.9" fill="#0b890b"/>
<circle cx="487.0" cy="236.1" r="1.9" fill="#fff0b5"/>
<circle cx="486.2" cy="249.1" r="1.9" fill="#ffc190"/>
<circle cx="547.7" cy="147.5" r="1.9" fill="#028002"/>
<circle cx="501.3" cy="233.5" r="1.9" fill="#ffd9a1"/>
<circle cx="540.2" cy="187.6" r="1.9" fill="#baf984"/>
<circle cx="542.1" cy="172.7" r="1.9" fill="#6dea4e"/>
<circle cx="514.7" cy="155.8" r="1.9" fill="#5ee046"/>
<circle cx="526.2" cy="159.9" r="1.9" fill="#4bcb3b"/>
<circle cx="544.4" cy="166.7" r="1.9" fill="#4ecf3d"/>
<circle cx="544.2" cy="171.9" r="1.9" fill="#49c93a"/>
<circle cx="541.0" cy="171.5" r="1.9" fill="#3fbf35"/>
<circle cx="502.1" cy="217.4" r="1.9" fill="#fff9bd"/>
<circle cx="539.0" cy="174.0" r="1.9" fill="#51d23f"/>
<circle cx="474.9" cy="152.8" r="1.9" fill="#7ef457"/>
<circle cx="472.2" cy="210.8" r="1.9" fill="#cefa95"/>
<circle cx="474.8" cy="252.3" r="1.9" fill="#ffc996"/>
<circle cx="521.3" cy="190.2" r="1.9" fill="#e9faab"/>
<circle cx="467.1" cy="274.3" r="1.9" fill="#ffb486"/>
<circle cx="475.2" cy="265.1" r="1.9" fill="#ff916d"/>
<circle cx="543.6" cy="167.0" r="1.9" fill="#35b42f"/>
<circle cx="520.7" cy="154.4" r="1.9" fill="#71ed50"/>
<circle cx="520.2" cy="180.8" r="1.9" fill="#8ef760"/>
<circle cx="502.3" cy="195.6" r="1.9" fill="#fffabe"/>
<circle cx="523.2" cy="169.5" r="1.9" fill="#5adb44"/>
<circle cx="519.8" cy="213.2" r="1.9" fill="#bff988"/>
<circle cx="519.9" cy="208.8" r="1.9" fill="#e9faac"/>
<circle cx="482.6" cy="246.5" r="1.9" fill="#ffc291"/>
<circle cx="529.8" cy="195.7" r="1.9" fill="#61e247"/>
<circle cx="499.8" cy="228.6" r="1.9" fill="#f2fab3"/>
<circle cx="533.7" cy="165.5" r="1.9" fill="#35b42f"/>
<circle cx="529.2" cy="141.5" r="1.9" fill="#41c136"/>
<circle cx="507.3" cy="206.5" r="1.9" fill="#eafaac"/>
<circle cx="529.2" cy="159.0" r="1.9" fill="#35b42f"/>
<circle cx="534.1" cy="181.3" r="1.9" fill="#bef987"/>
<circle cx="511.2" cy="189.4" r="1.9" fill="#f9fab9"/>
<circle cx="509.5" cy="203.1" r="1.9" fill="#dbfaa0"/>
<circle cx="539.7" cy="145.5" r="1.9" fill="#0f8d0f"/>
<circle cx="529.9" cy="155.2" r="1.9" fill="#77f153"/>
<circle cx="512.3" cy="135.2" r="1.9" fill="#35b42f"/>
<circle cx="526.7" cy="182.3" r="1.9" fill="#85f65b"/>
<circle cx="514.7" cy="177.2" r="1.9" fill="#ffe1a8"/>
<circle cx="508.7" cy="213.0" r="1.9" fill="#c6f98e"/>
<circle cx="495.9" cy="243.1" r="1.9" fill="#ffe1a8"/>
<circle cx="509.2" cy="174.4" r="1.9" fill="#c6f98e"/>
<circle cx="518.4" cy="208.9" r="1.9" fill="#ffeeb3"/>
<circle cx="517.1" cy="170.8" r="1.9" fill="#77f053"/>
<circle cx="543.1" cy="140.4" r="1.9" fill="#1e9c1e"/>
<circle cx="452.3" cy="130.8" r="1.9" fill="#4dcd3c"/>
<circle cx="541.4" cy="136.8" r="1.9" fill="#2cab2a"/>
<circle cx="517.5" cy="189.1" r="1.9" fill="#b9f983"/>
<circle cx="509.5" cy="177.0" r="1.9" fill="#aef97a"/>
<circle cx="526.2" cy="177.6" r="1.9" fill="#7df457"/>
<circle cx="500.0" cy="134.5" r="1.9" fill="#65e54a"/>
<circle cx="488.1" cy="220.0" r="1.9" fill="#ffdfa6"/>
<circle cx="537.4" cy="139.0" r="1.9" fill="#108e10"/>
<circle cx="523.2" cy="203.5" r="1.9" fill="#f1fab3"/>
<circle cx="506.7" cy="183.7" r="1.9" fill="#d1fa97"/>
<circle cx="513.1" cy="191.9" r="1.9" fill="#cbf993"/>
<circle cx="475.8" cy="264.2" r="1.9" fill="#ff9a74"/>
<circle cx="526.2" cy="166.6" r="1.9" fill="#51d23f"/>
<circle cx="541.7" cy="130.4" r="1.9" fill="#2cab2a"/>
<circle cx="496.8" cy="238.7" r="1.9" fill="#fbfabb"/>
<circle cx="460.9" cy="271.6" r="1.9" fill="#ff8262"/>
<circle cx="467.2" cy="253.1" r="1.9" fill="#ffeeb3"/>
<circle cx="494.3" cy="246.7" r="1.9" fill="#ffe8ae"/>
<circle cx="505.6" cy="198.4" r="1.9" fill="#a0f86e"/>
<circle cx="549.3" cy="152.8" r="1.9" fill="#179517"/>
<circle cx="481.3" cy="250.8" r="1.9" fill="#ff936e"/>
<circle cx="520.0" cy="131.7" r="1.9" fill="#169416"/>
<circle cx="527.6" cy="160.1" r="1.9" fill="#63e349"/>
<circle cx="515.0" cy="144.1" r="1.9" fill="#2fad2c"/>
<circle cx="505.2" cy="198.8" r="1.9" fill="#c5f98e"/>
<circle cx="551.9" cy="143.7" r="1.9" fill="#0a880a"/>
<circle cx="524.6" cy="140.6" r="1.9" fill="#1f9d1f"/>
<circle cx="529.0" cy="192.2" r="1.9" fill="#ddfaa2"/>
<circle cx="532.9" cy="195.7" r="1.9" fill="#95f865"/>
<circle cx="531.9" cy="193.6" r="1.9" fill="#a5f873"/>
<circle cx="546.6" cy="145.1" r="1.9" fill="#149214"/>
<circle cx="454.5" cy="252.2" r="1.9" fill="#ff8363"/>
<circle cx="463.2" cy="269.9" r="1.9" fill="#ff8d6a"/>
<circle cx="545.9" cy="152.4" r="1.9" fill="#32b12e"/>
<circle cx="539.0" cy="164.6" r="1.9" fill="#4aca3b"/>
<circle cx="456.3" cy="286.2" r="1.9" fill="#ff8f6b"/>
<circle cx="507.7" cy="230.8" r="1.9" fill="#b4f97f"/>
<circle cx="502.5" cy="181.5" r="1.9" fill="#fafaba"/>
<circle cx="546.1" cy="163.2" r="1.9" fill="#78f154"/>
<circle cx="536.7" cy="187.1" r="1.9" fill="#95f865"/>
<circle cx="506.9" cy="227.8" r="1.9" fill="#f9fab9"/>
<circle cx="490.9" cy="195.5" r="1.9" fill="#e7faaa"/>
<circle cx="526.2" cy="197.9" r="1.9" fill="#b0f97b"/>
<circle cx="492.3" cy="239.3" r="1.9" fill="#e3faa6"/>
<circle cx="544.5" cy="130.2" r="1.9" fill="#189618"/>
<circle cx="519.8" cy="213.3" r="1.9" fill="#cffa96"/>
<circle cx="520.0" cy="197.8" r="1.9" fill="#cffa96"/>
<circle cx="515.5" cy="206.0" r="1.9" fill="#e5faa8"/>
<circle cx="539.2" cy="172.9" r="1.9" fill="#75ef52"/>
<circle cx="547.5" cy="144.4" r="1.9" fill="#27a527"/>
<circle cx="512.1" cy="195.5" r="1.9" fill="#c7f98f"/>
<circle cx="517.0" cy="219.1" r="1.9" fill="#85f65b"/>
<circle cx="527.5" cy="125.2" r="1.9" fill="#118f11"/>
<circle cx="530.0" cy="184.8" r="1.9" fill="#91f862"/>
<circle cx="536.2" cy="162.4" r="1.9" fill="#7bf356"/>
<circle cx="524.4" cy="156.4" r="1.9" fill="#3ebe34"/>
<circle cx="512.5" cy="168.4" r="1.9" fill="#7ef457"/>
<circle cx="544.3" cy="153.6" r="1.9" fill="#199719"/>
<circle cx="480.9" cy="190.8" r="1.9" fill="#ffdca4"/>
<circle cx="481.7" cy="246.5" r="1.9" fill="#ff9670"/>
<circle cx="520.1" cy="213.7" r="1.9" fill="#f0fab2"/>
<circle cx="523.3" cy="132.6" r="1.9" fill="#29a729"/>
<circle cx="533.8" cy="186.8" r="1.9" fill="#9bf869"/>
<circle cx="534.4" cy="182.8" r="1.9" fill="#7df456"/>
<circle cx="499.2" cy="221.4" r="1.9" fill="#ffeab0"/>
<circle cx="452.7" cy="289.6" r="1.9" fill="#ff8161"/>
<circle cx="476.1" cy="252.5" r="1.9" fill="#ff7c5d"/>
<circle cx="500.2" cy="203.2" r="1.9" fill="#f7fab7"/>
<circle cx="533.1" cy="128.0" r="1.9" fill="#007e00"/>
<circle cx="497.6" cy="182.6" r="1.9" fill="#ecfaae"/>
<circle cx="524.4" cy="177.7" r="1.9" fill="#dbfaa0"/>
<circle cx="540.6" cy="173.7" r="1.9" fill="#5cde45"/>
<circle cx="539.1" cy="180.0" r="1.9" fill="#4acb3b"/>
<circle cx="449.5" cy="294.8" r="1.9" fill="#ff523d"/>
<circle cx="538.3" cy="150.0" r="1.9" fill="#0c8a0c"/>
<circle cx="410.1" cy="90.9" r="1.9" fill="#1a981a"/>
<circle cx="528.4" cy="194.9" r="1.9" fill="#8af65e"/>
<circle cx="523.7" cy="191.2" r="1.9" fill="#cefa95"/>
<circle cx="516.2" cy="182.6" r="1.9" fill="#b9f983"/>
<circle cx="533.0" cy="180.8" r="1.9" fill="#7cf456"/>
<circle cx="446.8" cy="185.9" r="1.9" fill="#d8fa9d"/>
<circle cx="458.6" cy="272.6" r="1.9" fill="#ffbd8d"/>
<circle cx="538.9" cy="150.7" r="1.9" fill="#149214"/>
<circle cx="518.5" cy="186.8" r="1.9" fill="#94f864"/>
<circle cx="543.7" cy="153.0" r="1.9" fill="#0d8b0d"/>
<circle cx="498.7" cy="243.2" r="1.9" fill="#fff8bc"/>
<circle cx="490.6" cy="198.4" r="1.9" fill="#ffebb0"/>
<circle cx="493.3" cy="147.4" r="1.9" fill="#43c337"/>
<circle cx="500.7" cy="126.6" r="1.9" fill="#26a426"/>
<circle cx="548.2" cy="156.6" r="1.9" fill="#77f153"/>
<circle cx="450.4" cy="293.4" r="1.9" fill="#ff5742"/>
<circle cx="525.9" cy="189.6" r="1.9" fill="#92f863"/>
<circle cx="542.7" cy="144.8" r="1.9" fill="#31b02d"/>
<circle cx="465.6" cy="269.6" r="1.9" fill="#ffae82"/>
<circle cx="534.9" cy="131.0" r="1.9" fill="#007e00"/>
<circle cx="491.3" cy="238.6" r="1.9" fill="#eefab0"/>
<circle cx="544.4" cy="140.8" r="1.9" fill="#0c8a0c"/>
<circle cx="494.3" cy="220.1" r="1.9" fill="#fff0b5"/>
<circle cx="532.9" cy="184.7" r="1.9" fill="#b0f97b"/>
<circle cx="480.4" cy="247.5" r="1.9" fill="#ffc291"/>
<circle cx="540.1" cy="153.9" r="1.9" fill="#31b02d"/>
<circle cx="530.9" cy="165.6" r="1.9" fill="#80f558"/>
<circle cx="513.5" cy="160.2" r="1.9" fill="#6be94d"/>
<circle cx="502.7" cy="158.6" r="1.9" fill="#95f865"/>
<circle cx="536.7" cy="172.9" r="1.9" fill="#70ec50"/>
<circle cx="524.5" cy="167.5" r="1.9" fill="#61e248"/>
<circle cx="475.6" cy="261.9" r="1.9" fill="#ff7759"/>
<circle cx="515.0" cy="211.2" r="1.9" fill="#e5faa8"/>
<circle cx="547.4" cy="133.4" r="1.9" fill="#007e00"/>
<circle cx="483.0" cy="257.7" r="1.9" fill="#ffb285"/>
<circle cx="498.0" cy="160.4" r="1.9" fill="#8bf75f"/>
<circle cx="549.0" cy="134.7" r="1.9" fill="#108e10"/>
<circle cx="529.3" cy="165.8" r="1.9" fill="#c2f98b"/>
<circle cx="524.6" cy="148.9" r="1.9" fill="#1d9b1d"/>
<circle cx="540.3" cy="158.6" r="1.9" fill="#43c337"/>
<circle cx="530.7" cy="135.6" r="1.9" fill="#40c035"/>
<circle cx="510.7" cy="148.2" r="1.9" fill="#26a426"/>
<circle cx="496.5" cy="238.2" r="1.9" fill="#c2f98b"/>
<circle cx="469.8" cy="136.8" r="1.9" fill="#3fbf35"/>
<circle cx="533.1" cy="197.6" r="1.9" fill="#61e248"/>
<circle cx="530.4" cy="126.0" r="1.9" fill="#139113"/>
<circle cx="526.8" cy="167.2" r="1.9" fill="#80f558"/>
<circle cx="542.7" cy="138.7" r="1.9" fill="#209e20"/>
<circle cx="532.3" cy="152.7" r="1.9" fill="#56d842"/>
<circle cx="490.3" cy="171.2" r="1.9" fill="#88f65d"/>
<circle cx="515.9" cy="156.5" r="1.9" fill="#4bcc3c"/>
<circle cx="542.5" cy="171.8" r="1.9" fill="#5bdd45"/>
<circle cx="494.2" cy="184.4" r="1.9" fill="#90f762"/>
<circle cx="492.4" cy="245.6" r="1.9" fill="#ffbd8d"/>
<circle cx="520.7" cy="191.9" r="1.9" fill="#effab1"/>
<circle cx="453.4" cy="158.9" r="1.9" fill="#41c136"/>
<circle cx="494.9" cy="243.5" r="1.9" fill="#ffbc8c"/>
<circle cx="537.5" cy="133.7" r="1.9" fill="#007e00"/>
<circle cx="548.7" cy="142.0" r="1.9" fill="#22a022"/>
<circle cx="519.3" cy="147.3" r="1.9" fill="#40c035"/>
<circle cx="501.4" cy="193.6" r="1.9" fill="#cffa96"/>
<circle cx="517.9" cy="182.4" r="1.9" fill="#b8f982"/>
<circle cx="515.4" cy="221.2" r="1.9" fill="#91f762"/>
<circle cx="531.4" cy="181.0" r="1.9" fill="#94f864"/>
<circle cx="524.9" cy="169.6" r="1.9" fill="#6dea4e"/>
<circle cx="511.2" cy="151.0" r="1.9" fill="#41c136"/>
<circle cx="482.5" cy="249.0" r="1.9" fill="#ffbc8c"/>
<circle cx="524.4" cy="161.2" r="1.9" fill="#56d741"/>
<circle cx="524.3" cy="165.1" r="1.9" fill="#d6fa9c"/>
<circle cx="471.1" cy="260.7" r="1.9" fill="#ff946f"/>
<circle cx="511.3" cy="220.9" r="1.9" fill="#a6f873"/>
<circle cx="451.1" cy="215.8" r="1.9" fill="#defaa2"/>
<circle cx="488.3" cy="220.0" r="1.9" fill="#f9fab9"/>
<circle cx="509.1" cy="181.7" r="1.9" fill="#b4f97f"/>
<circle cx="540.5" cy="138.6" r="1.9" fill="#129012"/>
<circle cx="509.8" cy="181.4" r="1.9" fill="#b4f97f"/>
<circle cx="445.8" cy="295.8" r="1.9" fill="#ff4d3a"/>
<circle cx="467.7" cy="246.6" r="1.9" fill="#ffd09b"/>
<circle cx="483.6" cy="159.6" r="1.9" fill="#b4f97f"/>
<circle cx="533.0" cy="142.0" r="1.9" fill="#199719"/>
<circle cx="506.5" cy="223.1" r="1.9" fill="#ffc492"/>
<circle cx="518.2" cy="169.4" r="1.9" fill="#98f867"/>
<circle cx="515.9" cy="217.3" r="1.9" fill="#c0f989"/>
<circle cx="507.2" cy="141.4" r="1.9" fill="#118f11"/>
<circle cx="518.9" cy="183.2" r="1.9" fill="#b2f97d"/>
<circle cx="536.6" cy="183.2" r="1.9" fill="#84f55b"/>
<circle cx="538.4" cy="150.2" r="1.9" fill="#4fd03e"/>
<circle cx="548.4" cy="153.9" r="1.9" fill="#129012"/>
<circle cx="446.5" cy="297.0" r="1.9" fill="#ff684e"/>
<circle cx="465.0" cy="260.1" r="1.9" fill="#ff9973"/>
<circle cx="525.9" cy="133.1" r="1.9" fill="#088608"/>
<circle cx="537.2" cy="157.1" r="1.9" fill="#59db43"/>
<circle cx="533.6" cy="189.1" r="1.9" fill="#8ff761"/>
<circle cx="539.8" cy="177.4" r="1.9" fill="#3dbd34"/>
<circle cx="485.7" cy="251.1" r="1.9" fill="#ffdba3"/>
<circle cx="506.2" cy="204.2" r="1.9" fill="#d6fa9c"/>
<circle cx="529.0" cy="192.6" r="1.9" fill="#b8f983"/>
<circle cx="548.1" cy="145.5" r="1.9" fill="#118f11"/>
<circle cx="530.8" cy="194.3" r="1.9" fill="#a2f870"/>
<circle cx="526.9" cy="198.7" r="1.9" fill="#dafa9f"/>
<circle cx="513.9" cy="165.0" r="1.9" fill="#7df457"/>
<circle cx="532.9" cy="164.6" r="1.9" fill="#7ff558"/>
<circle cx="531.0" cy="145.5" r="1.9" fill="#26a426"/>
<circle cx="507.2" cy="198.8" r="1.9" fill="#ffd39d"/>
<circle cx="499.0" cy="185.4" r="1.9" fill="#fff2b7"/>
<circle cx="466.8" cy="223.4" r="1.9" fill="#ffb688"/>
<circle cx="526.9" cy="147.9" r="1.9" fill="#0d8b0d"/>
<circle cx="507.6" cy="229.6" r="1.9" fill="#bff988"/>
<circle cx="545.3" cy="148.5" r="1.9" fill="#37b630"/>
<circle cx="530.9" cy="187.6" r="1.9" fill="#65e54a"/>
<circle cx="550.8" cy="154.6" r="1.9" fill="#26a426"/>
<circle cx="516.5" cy="146.4" r="1.9" fill="#54d540"/>
<circle cx="442.9" cy="302.7" r="1.9" fill="#ff684e"/>
<circle cx="484.1" cy="248.5" r="1.9" fill="#ffb486"/>
<circle cx="501.1" cy="170.6" r="1.9" fill="#8cf75f"/>
<circle cx="496.2" cy="241.3" r="1.9" fill="#dcfaa1"/>
<circle cx="520.2" cy="195.8" r="1.9" fill="#d3fa9a"/>
<circle cx="538.3" cy="145.1" r="1.9" fill="#39b831"/>
<circle cx="511.4" cy="211.4" r="1.9" fill="#fff0b5"/>
<circle cx="483.1" cy="225.9" r="1.9" fill="#fff1b6"/>
<circle cx="513.3" cy="197.1" r="1.9" fill="#e8faab"/>
<circle cx="499.2" cy="145.9" r="1.9" fill="#2caa2a"/>
<circle cx="546.5" cy="156.3" r="1.9" fill="#0f8d0f"/>
<circle cx="537.0" cy="139.6" r="1.9" fill="#028002"/>
<circle cx="544.7" cy="144.9" r="1.9" fill="#2fad2c"/>
<circle cx="529.3" cy="167.1" r="1.9" fill="#3fbe35"/>
<circle cx="508.2" cy="231.2" r="1.9" fill="#a6f873"/>
<circle cx="517.3" cy="181.7" r="1.9" fill="#c2f98b"/>
<circle cx="523.7" cy="188.2" r="1.9" fill="#b7f982"/>
<circle cx="542.2" cy="153.3" r="1.9" fill="#2caa2a"/>
<circle cx="545.4" cy="147.4" r="1.9" fill="#1b991b"/>
<circle cx="502.7" cy="226.9" r="1.9" fill="#d4fa9a"/>
<circle cx="521.8" cy="188.3" r="1.9" fill="#83f55a"/>
<circle cx="514.5" cy="176.5" r="1.9" fill="#a6f874"/>
<circle cx="519.3" cy="128.9" r="1.9" fill="#058305"/>
<circle cx="525.9" cy="205.1" r="1.9" fill="#90f762"/>
<circle cx="527.9" cy="137.8" r="1.9" fill="#017f01"/>
<circle cx="476.3" cy="226.8" r="1.9" fill="#d0fa97"/>
<circle cx="521.7" cy="198.3" r="1.9" fill="#dbfaa0"/>
<circle cx="499.3" cy="229.7" r="1.9" fill="#ffe7ad"/>
<circle cx="524.5" cy="165.9" r="1.9" fill="#57d942"/>
<circle cx="484.7" cy="175.3" r="1.9" fill="#bbf985"/>
<circle cx="536.6" cy="135.4" r="1.9" fill="#007e00"/>
<circle cx="474.5" cy="150.5" r="1.9" fill="#59db43"/>
<circle cx="544.4" cy="143.5" r="1.9" fill="#007e00"/>
<circle cx="508.0" cy="204.4" r="1.9" fill="#bdf986"/>
<circle cx="479.2" cy="185.8" r="1.9" fill="#d6fa9c"/>
<circle cx="523.5" cy="149.4" r="1.9" fill="#199719"/>
<circle cx="501.9" cy="222.6" r="1.9" fill="#e1faa5"/>
<circle cx="523.6" cy="173.8" r="1.9" fill="#53d440"/>
<circle cx="519.6" cy="188.1" r="1.9" fill="#cffa96"/>
<circle cx="531.5" cy="147.1" r="1.9" fill="#47c839"/>
<circle cx="494.7" cy="235.3" r="1.9" fill="#ffe1a8"/>
<circle cx="515.8" cy="219.3" r="1.9" fill="#85f65b"/>
<circle cx="519.5" cy="133.7" r="1.9" fill="#4fd03e"/>
<circle cx="517.7" cy="214.7" r="1.9" fill="#a3f870"/>
<circle cx="512.1" cy="147.7" r="1.9" fill="#28a628"/>
<circle cx="546.8" cy="161.6" r="1.9" fill="#48c83a"/>
<circle cx="541.2" cy="167.7" r="1.9" fill="#33b12e"/>
<circle cx="447.5" cy="295.8" r="1.9" fill="#ff513d"/>
<circle cx="548.7" cy="148.4" r="1.9" fill="#1d9b1d"/>
<circle cx="503.4" cy="219.0" r="1.9" fill="#ffeeb3"/>
<circle cx="530.5" cy="130.9" r="1.9" fill="#149214"/>
<circle cx="516.4" cy="200.7" r="1.9" fill="#edfaaf"/>
<circle cx="549.2" cy="141.4" r="1.9" fill="#007e00"/>
<circle cx="519.2" cy="204.1" r="1.9" fill="#b3f97e"/>
<circle cx="516.0" cy="215.5" r="1.9" fill="#d3fa99"/>
<circle cx="500.8" cy="232.2" r="1.9" fill="#ffebb1"/>
<circle cx="527.6" cy="186.8" r="1.9" fill="#69e74c"/>
<circle cx="504.4" cy="132.8" r="1.9" fill="#4ecf3d"/>
<circle cx="525.9" cy="187.4" r="1.9" fill="#83f55a"/>
<circle cx="513.9" cy="129.9" r="1.9" fill="#209e20"/>
<circle cx="536.5" cy="148.5" r="1.9" fill="#43c337"/>
<circle cx="508.7" cy="204.4" r="1.9" fill="#dcfaa1"/>
<circle cx="511.4" cy="181.1" r="1.9" fill="#9ef86c"/>
<circle cx="514.3" cy="204.4" r="1.9" fill="#f0fab1"/>
<circle cx="523.0" cy="125.4" r="1.9" fill="#0c8a0c"/>
<circle cx="525.2" cy="155.3" r="1.9" fill="#59db43"/>
<circle cx="502.3" cy="212.1" r="1.9" fill="#ffd09b"/>
<circle cx="502.5" cy="232.4" r="1.9" fill="#c5f98e"/>
<circle cx="454.7" cy="237.6" r="1.9" fill="#ffb688"/>
<circle cx="458.1" cy="129.5" r="1.9" fill="#209e20"/>
<circle cx="485.1" cy="233.8" r="1.9" fill="#ffeab0"/>
<circle cx="484.1" cy="241.9" r="1.9" fill="#ff8866"/>
<circle cx="544.9" cy="159.7" r="1.9" fill="#3cbb33"/>
<circle cx="476.1" cy="251.8" r="1.9" fill="#ffa27a"/>
<circle cx="507.1" cy="210.8" r="1.9" fill="#f3fab4"/>
<circle cx="529.9" cy="153.8" r="1.9" fill="#45c538"/>
<circle cx="521.5" cy="199.4" r="1.9" fill="#d2fa99"/>
<circle cx="546.9" cy="157.6" r="1.9" fill="#28a628"/>
<circle cx="531.3" cy="181.6" r="1.9" fill="#8af65e"/>
<circle cx="532.9" cy="135.0" r="1.9" fill="#0c8a0c"/>
<circle cx="533.9" cy="174.2" r="1.9" fill="#77f153"/>
<circle cx="530.5" cy="181.8" r="1.9" fill="#d2fa98"/>
<circle cx="490.3" cy="244.3" r="1.9" fill="#ffe5ab"/>
<circle cx="522.5" cy="198.0" r="1.9" fill="#e8faaa"/>
<circle cx="496.2" cy="238.2" r="1.9" fill="#ffd7a0"/>
<circle cx="525.1" cy="200.0" r="1.9" fill="#78f154"/>
<circle cx="507.4" cy="229.7" r="1.9" fill="#d7fa9c"/>
<circle cx="499.2" cy="131.3" r="1.9" fill="#36b530"/>
<circle cx="529.2" cy="183.3" r="1.9" fill="#98f867"/>
<circle cx="505.3" cy="206.3" r="1.9" fill="#ffefb5"/>
<circle cx="489.8" cy="230.0" r="1.9" fill="#ffebb0"/>
<circle cx="533.7" cy="176.5" r="1.9" fill="#56d842"/>
<circle cx="528.5" cy="144.1" r="1.9" fill="#1d9b1d"/>
<circle cx="470.5" cy="267.1" r="1.9" fill="#ffaa7f"/>
<circle cx="394.1" cy="168.9" r="1.9" fill="#83f55a"/>
<circle cx="532.9" cy="172.6" r="1.9" fill="#40c035"/>
<circle cx="541.2" cy="173.3" r="1.9" fill="#61e248"/>
<circle cx="539.9" cy="141.5" r="1.9" fill="#129012"/>
<circle cx="547.4" cy="146.1" r="1.9" fill="#4aca3b"/>
<circle cx="506.2" cy="220.6" r="1.9" fill="#ffe1a8"/>
<circle cx="546.4" cy="153.3" r="1.9" fill="#28a628"/>
<circle cx="512.5" cy="198.0" r="1.9" fill="#e8faab"/>
<circle cx="437.0" cy="83.0" r="1.9" fill="#53d440"/>
<circle cx="516.9" cy="216.7" r="1.9" fill="#b2f97d"/>
<circle cx="471.5" cy="265.0" r="1.9" fill="#ffa178"/>
<circle cx="538.4" cy="184.5" r="1.9" fill="#62e248"/>
<circle cx="521.3" cy="192.5" r="1.9" fill="#d3fa99"/>
<circle cx="523.2" cy="206.3" r="1.9" fill="#bff988"/>
<circle cx="510.5" cy="224.1" r="1.9" fill="#aff97b"/>
<circle cx="491.9" cy="240.6" r="1.9" fill="#ffc794"/>
<circle cx="512.0" cy="226.1" r="1.9" fill="#98f867"/>
<circle cx="542.1" cy="142.8" r="1.9" fill="#37b630"/>
<circle cx="515.0" cy="195.7" r="1.9" fill="#fff1b6"/>
<circle cx="519.1" cy="203.7" r="1.9" fill="#f3fab4"/>
<circle cx="545.9" cy="154.4" r="1.9" fill="#4fd03e"/>
<circle cx="529.5" cy="167.9" r="1.9" fill="#72ed51"/>
<circle cx="531.4" cy="192.7" r="1.9" fill="#89f65e"/>
<circle cx="533.2" cy="148.4" r="1.9" fill="#4ccc3c"/>
<circle cx="488.7" cy="247.9" r="1.9" fill="#ffcd99"/>
<circle cx="501.6" cy="207.5" r="1.9" fill="#e4faa8"/>
<circle cx="519.0" cy="133.9" r="1.9" fill="#149214"/>
<circle cx="524.9" cy="202.0" r="1.9" fill="#a0f86e"/>
<circle cx="532.3" cy="140.1" r="1.9" fill="#028002"/>
<circle cx="518.1" cy="200.8" r="1.9" fill="#baf984"/>
<circle cx="548.8" cy="157.3" r="1.9" fill="#2caa2a"/>
<circle cx="495.3" cy="233.7" r="1.9" fill="#ffe5ab"/>
<circle cx="523.0" cy="126.6" r="1.9" fill="#007e00"/>
<circle cx="540.6" cy="179.5" r="1.9" fill="#69e74c"/>
<circle cx="516.5" cy="219.0" r="1.9" fill="#d9fa9f"/>
<circle cx="541.0" cy="131.9" r="1.9" fill="#0a880a"/>
<circle cx="514.7" cy="209.7" r="1.9" fill="#caf991"/>
<circle cx="545.4" cy="132.0" r="1.9" fill="#007e00"/>
<circle cx="529.9" cy="177.2" r="1.9" fill="#90f762"/>
<circle cx="506.0" cy="212.2" r="1.9" fill="#edfaaf"/>
<circle cx="545.6" cy="171.7" r="1.9" fill="#86f65c"/>
<circle cx="532.5" cy="181.7" r="1.9" fill="#86f65c"/>
<circle cx="543.0" cy="153.0" r="1.9" fill="#33b22e"/>
<circle cx="538.9" cy="136.6" r="1.9" fill="#038103"/>
<circle cx="452.2" cy="291.4" r="1.9" fill="#ff9b74"/>
<circle cx="514.0" cy="108.2" r="1.9" fill="#169416"/>
<circle cx="540.2" cy="157.7" r="1.9" fill="#47c839"/>
<circle cx="495.6" cy="233.0" r="1.9" fill="#ffcc98"/>
<circle cx="479.8" cy="155.6" r="1.9" fill="#37b630"/>
<circle cx="546.9" cy="165.2" r="1.9" fill="#53d440"/>
<circle cx="486.0" cy="229.2" r="1.9" fill="#ffe5ab"/>
<circle cx="503.0" cy="209.6" r="1.9" fill="#ffefb4"/>
<circle cx="480.0" cy="256.0" r="1.9" fill="#ff9b74"/>
<circle cx="523.9" cy="124.8" r="1.9" fill="#088608"/>
<circle cx="535.4" cy="187.9" r="1.9" fill="#1c9a1c"/>
<circle cx="509.5" cy="179.1" r="1.9" fill="#ffedb3"/>
<circle cx="541.3" cy="166.7" r="1.9" fill="#56d742"/>
<circle cx="501.1" cy="236.3" r="1.9" fill="#ffe7ad"/>
<circle cx="487.6" cy="246.1" r="1.9" fill="#ffbb8c"/>
<circle cx="535.9" cy="191.3" r="1.9" fill="#b0f97c"/>
<circle cx="494.6" cy="240.1" r="1.9" fill="#ffc794"/>
<circle cx="529.3" cy="150.2" r="1.9" fill="#43c337"/>
<circle cx="473.4" cy="116.2" r="1.9" fill="#129012"/>
<circle cx="518.1" cy="208.7" r="1.9" fill="#c9f990"/>
<circle cx="527.9" cy="199.5" r="1.9" fill="#b1f97c"/>
<circle cx="534.5" cy="175.0" r="1.9" fill="#74ef52"/>
<circle cx="497.2" cy="244.7" r="1.9" fill="#bff988"/>
<circle cx="480.7" cy="139.8" r="1.9" fill="#3cbc33"/>
<circle cx="482.8" cy="125.1" r="1.9" fill="#45c538"/>
<circle cx="521.6" cy="198.9" r="1.9" fill="#8ef761"/>
<circle cx="544.9" cy="152.8" r="1.9" fill="#5ee046"/>
<circle cx="534.4" cy="126.9" r="1.9" fill="#007e00"/>
<circle cx="518.8" cy="194.1" r="1.9" fill="#cdf994"/>
<circle cx="550.7" cy="148.4" r="1.9" fill="#32b02d"/>
<circle cx="508.8" cy="229.0" r="1.9" fill="#f0fab1"/>
<circle cx="485.1" cy="139.0" r="1.9" fill="#29a728"/>
<circle cx="500.4" cy="129.5" r="1.9" fill="#149214"/>
<circle cx="532.2" cy="199.5" r="1.9" fill="#88f65d"/>
<circle cx="505.4" cy="215.4" r="1.9" fill="#f3fab4"/>
<circle cx="527.4" cy="149.1" r="1.9" fill="#51d23f"/>
<circle cx="506.7" cy="226.5" r="1.9" fill="#ffcd99"/>
<circle cx="536.9" cy="155.7" r="1.9" fill="#5ee046"/>
<circle cx="488.6" cy="225.3" r="1.9" fill="#ffbe8e"/>
<circle cx="518.1" cy="215.5" r="1.9" fill="#e7faaa"/>
<circle cx="510.1" cy="175.6" r="1.9" fill="#85f65b"/>
<circle cx="517.6" cy="201.7" r="1.9" fill="#90f762"/>
<circle cx="446.6" cy="296.9" r="1.9" fill="#ff4534"/>
<circle cx="493.5" cy="211.0" r="1.9" fill="#f3fab4"/>
<circle cx="519.2" cy="202.7" r="1.9" fill="#9ef86c"/>
<circle cx="458.3" cy="107.2" r="1.9" fill="#43c337"/>
<circle cx="458.9" cy="273.3" r="1.9" fill="#ff7b5c"/>
<circle cx="538.6" cy="130.6" r="1.9" fill="#007e00"/>
<circle cx="530.4" cy="180.9" r="1.9" fill="#84f55b"/>
<circle cx="543.0" cy="176.8" r="1.9" fill="#49c93a"/>
<circle cx="519.1" cy="206.4" r="1.9" fill="#c5f98d"/>
<circle cx="516.1" cy="190.8" r="1.9" fill="#cffa96"/>
<circle cx="524.0" cy="172.6" r="1.9" fill="#74ef52"/>
<circle cx="526.0" cy="191.1" r="1.9" fill="#c3f98b"/>
<circle cx="466.0" cy="99.0" r="1.9" fill="#43c337"/>
<circle cx="499.1" cy="226.4" r="1.9" fill="#fff1b6"/>
<circle cx="489.1" cy="240.4" r="1.9" fill="#ffb688"/>
<circle cx="528.2" cy="165.4" r="1.9" fill="#66e54a"/>
<circle cx="513.2" cy="194.2" r="1.9" fill="#9df86c"/>
<circle cx="546.0" cy="161.7" r="1.9" fill="#5ddf46"/>
<circle cx="482.1" cy="154.0" r="1.9" fill="#83f55a"/>
<circle cx="529.5" cy="181.1" r="1.9" fill="#80f558"/>
<circle cx="542.3" cy="174.5" r="1.9" fill="#82f559"/>
<circle cx="545.9" cy="149.6" r="1.9" fill="#3fbf35"/>
<circle cx="543.0" cy="158.6" r="1.9" fill="#007e00"/>
<circle cx="478.7" cy="130.6" r="1.9" fill="#39b831"/>
<circle cx="530.6" cy="165.3" r="1.9" fill="#7cf456"/>
<circle cx="532.0" cy="181.1" r="1.9" fill="#b2f97e"/>
<circle cx="538.6" cy="165.2" r="1.9" fill="#70ec50"/>
<circle cx="542.4" cy="166.8" r="1.9" fill="#60e247"/>
<circle cx="527.0" cy="132.7" r="1.9" fill="#24a224"/>
<circle cx="538.0" cy="158.0" r="1.9" fill="#3ab932"/>
<circle cx="538.2" cy="156.6" r="1.9" fill="#41c136"/>
<circle cx="541.7" cy="179.7" r="1.9" fill="#56d842"/>
<circle cx="530.2" cy="180.5" r="1.9" fill="#93f863"/>
<circle cx="504.9" cy="222.6" r="1.9" fill="#fff5b9"/>
<circle cx="502.9" cy="216.8" r="1.9" fill="#fffabe"/>
<circle cx="539.3" cy="135.5" r="1.9" fill="#179517"/>
<circle cx="515.2" cy="209.6" r="1.9" fill="#ffdba3"/>
<circle cx="542.3" cy="141.9" r="1.9" fill="#129012"/>
<circle cx="531.1" cy="177.0" r="1.9" fill="#76f053"/>
<circle cx="537.9" cy="152.6" r="1.9" fill="#3ab932"/>
<circle cx="527.6" cy="152.5" r="1.9" fill="#41c136"/>
<circle cx="523.5" cy="186.4" r="1.9" fill="#a3f871"/>
<circle cx="519.8" cy="173.5" r="1.9" fill="#b5f980"/>
<circle cx="464.7" cy="264.1" r="1.9" fill="#ffa27a"/>
<circle cx="531.4" cy="129.5" r="1.9" fill="#007e00"/>
<circle cx="507.4" cy="228.2" r="1.9" fill="#fff6ba"/>
<circle cx="468.7" cy="202.7" r="1.9" fill="#ffebb1"/>
<circle cx="508.2" cy="216.7" r="1.9" fill="#ffedb2"/>
<circle cx="483.3" cy="131.0" r="1.9" fill="#007e00"/>
<circle cx="545.4" cy="151.8" r="1.9" fill="#3cbb33"/>
<circle cx="538.4" cy="172.6" r="1.9" fill="#7bf456"/>
<circle cx="525.3" cy="195.8" r="1.9" fill="#c9f991"/>
<circle cx="539.3" cy="130.9" r="1.9" fill="#007e00"/>
<circle cx="529.5" cy="137.4" r="1.9" fill="#23a123"/>
<circle cx="538.2" cy="165.2" r="1.9" fill="#37b630"/>
<circle cx="536.4" cy="168.8" r="1.9" fill="#b5f980"/>
<circle cx="518.1" cy="128.6" r="1.9" fill="#33b22e"/>
<circle cx="529.9" cy="131.0" r="1.9" fill="#1d9b1d"/>
<circle cx="497.3" cy="214.3" r="1.9" fill="#ffd8a1"/>
<circle cx="537.4" cy="164.1" r="1.9" fill="#51d23f"/>
<circle cx="506.4" cy="206.5" r="1.9" fill="#ffc592"/>
<circle cx="540.1" cy="175.3" r="1.9" fill="#54d540"/>
<circle cx="518.2" cy="196.8" r="1.9" fill="#78f254"/>
<circle cx="515.0" cy="127.3" r="1.9" fill="#007e00"/>
<circle cx="456.1" cy="285.7" r="1.9" fill="#ff694f"/>
<circle cx="474.9" cy="252.0" r="1.9" fill="#ff8e6a"/>
<circle cx="548.6" cy="147.4" r="1.9" fill="#0a880a"/>
<circle cx="498.1" cy="236.9" r="1.9" fill="#ffdda4"/>
<circle cx="521.5" cy="184.2" r="1.9" fill="#bdf986"/>
<circle cx="525.6" cy="198.3" r="1.9" fill="#c8f990"/>
<circle cx="458.5" cy="178.7" r="1.9" fill="#f3fab4"/>
<circle cx="523.3" cy="196.8" r="1.9" fill="#b2f97d"/>
<circle cx="515.7" cy="203.7" r="1.9" fill="#b8f983"/>
<circle cx="502.1" cy="231.4" r="1.9" fill="#edfaaf"/>
<circle cx="528.4" cy="163.7" r="1.9" fill="#91f762"/>
<circle cx="500.5" cy="212.1" r="1.9" fill="#fff5ba"/>
<circle cx="547.0" cy="142.3" r="1.9" fill="#39b832"/>
<circle cx="503.4" cy="141.2" r="1.9" fill="#36b530"/>
<circle cx="497.5" cy="128.2" r="1.9" fill="#49c93a"/>
<circle cx="533.5" cy="185.6" r="1.9" fill="#9ff86d"/>
<circle cx="544.9" cy="143.2" r="1.9" fill="#129012"/>
<circle cx="546.5" cy="161.7" r="1.9" fill="#42c237"/>
<circle cx="526.3" cy="128.2" r="1.9" fill="#27a527"/>
<circle cx="541.1" cy="146.4" r="1.9" fill="#25a325"/>
<circle cx="523.8" cy="175.4" r="1.9" fill="#89f65e"/>
<circle cx="542.7" cy="147.9" r="1.9" fill="#078507"/>
<circle cx="528.8" cy="125.9" r="1.9" fill="#007e00"/>
<circle cx="540.3" cy="141.0" r="1.9" fill="#25a325"/>
<circle cx="473.8" cy="264.3" r="1.9" fill="#ff916d"/>
<circle cx="517.7" cy="199.2" r="1.9" fill="#94f864"/>
<circle cx="490.6" cy="205.9" r="1.9" fill="#ffc190"/>
<circle cx="505.8" cy="205.9" r="1.9" fill="#f5fab6"/>
<circle cx="490.7" cy="239.8" r="1.9" fill="#ffb285"/>
<circle cx="526.0" cy="183.7" r="1.9" fill="#7cf456"/>
<circle cx="537.2" cy="139.7" r="1.9" fill="#0f8d0f"/>
<circle cx="468.2" cy="270.8" r="1.9" fill="#ff5b45"/>
<circle cx="545.5" cy="130.9" r="1.9" fill="#048204"/>
<circle cx="549.6" cy="144.2" r="1.9" fill="#048204"/>
<circle cx="511.8" cy="184.5" r="1.9" fill="#a0f86e"/>
<circle cx="505.3" cy="211.9" r="1.9" fill="#ddfaa1"/>
<circle cx="531.7" cy="167.8" r="1.9" fill="#59da43"/>
<circle cx="526.6" cy="192.8" r="1.9" fill="#a4f871"/>
<circle cx="483.7" cy="256.2" r="1.9" fill="#ffa47b"/>
<circle cx="498.4" cy="226.9" r="1.9" fill="#dffaa3"/>
<circle cx="527.4" cy="181.4" r="1.9" fill="#c5f98d"/>
<circle cx="525.4" cy="127.1" r="1.9" fill="#1c9a1c"/>
<circle cx="542.8" cy="165.6" r="1.9" fill="#6dea4e"/>
<circle cx="517.2" cy="175.7" r="1.9" fill="#a0f86e"/>
<circle cx="518.1" cy="206.0" r="1.9" fill="#bdf987"/>
<circle cx="546.4" cy="161.1" r="1.9" fill="#189618"/>
<circle cx="476.7" cy="264.1" r="1.9" fill="#ff5540"/>
<circle cx="544.6" cy="168.9" r="1.9" fill="#54d540"/>
<circle cx="497.8" cy="224.2" r="1.9" fill="#f2fab3"/>
<circle cx="524.8" cy="181.3" r="1.9" fill="#8bf75f"/>
<circle cx="514.1" cy="197.9" r="1.9" fill="#8af65e"/>
<circle cx="503.3" cy="236.6" r="1.9" fill="#e3faa7"/>
<circle cx="449.8" cy="293.2" r="1.9" fill="#ff644b"/>
<circle cx="533.5" cy="197.1" r="1.9" fill="#7af355"/>
<circle cx="535.6" cy="156.2" r="1.9" fill="#43c337"/>
<circle cx="538.7" cy="156.1" r="1.9" fill="#6dea4e"/>
<circle cx="546.2" cy="170.8" r="1.9" fill="#68e74c"/>
<circle cx="541.1" cy="161.3" r="1.9" fill="#47c839"/>
<circle cx="534.8" cy="133.4" r="1.9" fill="#048204"/>
<circle cx="516.3" cy="213.1" r="1.9" fill="#f3fab4"/>
<circle cx="500.5" cy="224.3" r="1.9" fill="#d6fa9c"/>
<circle cx="534.4" cy="131.3" r="1.9" fill="#078507"/>
<circle cx="539.8" cy="180.1" r="1.9" fill="#61e247"/>
<circle cx="516.4" cy="134.9" r="1.9" fill="#038103"/>
<circle cx="468.0" cy="227.2" r="1.9" fill="#ffd9a1"/>
<circle cx="542.2" cy="151.4" r="1.9" fill="#2caa2a"/>
<circle cx="473.9" cy="261.7" r="1.9" fill="#ffbd8d"/>
<circle cx="468.1" cy="194.3" r="1.9" fill="#e3faa7"/>
<circle cx="486.4" cy="253.8" r="1.9" fill="#ffa67c"/>
<circle cx="518.3" cy="210.1" r="1.9" fill="#e9faac"/>
<circle cx="487.6" cy="238.0" r="1.9" fill="#ffbf8f"/>
<circle cx="548.4" cy="160.7" r="1.9" fill="#31af2d"/>
<circle cx="520.8" cy="209.2" r="1.9" fill="#9cf86b"/>
<circle cx="519.3" cy="205.1" r="1.9" fill="#eafaac"/>
<circle cx="534.3" cy="165.1" r="1.9" fill="#66e54a"/>
<circle cx="496.0" cy="253.0" r="1.9" fill="#28a628"/>
<circle cx="489.2" cy="239.1" r="1.9" fill="#ffeeb3"/>
<circle cx="534.0" cy="189.7" r="1.9" fill="#9ef86d"/>
<circle cx="504.8" cy="199.4" r="1.9" fill="#f4fab5"/>
<circle cx="537.4" cy="164.3" r="1.9" fill="#72ee51"/>
<circle cx="520.5" cy="214.3" r="1.9" fill="#7af355"/>
<circle cx="524.1" cy="133.0" r="1.9" fill="#007e00"/>
<circle cx="500.7" cy="239.4" r="1.9" fill="#ffdaa2"/>
<circle cx="502.1" cy="232.9" r="1.9" fill="#fefabe"/>
<circle cx="496.8" cy="245.6" r="1.9" fill="#ffe4aa"/>
<circle cx="485.8" cy="241.3" r="1.9" fill="#ffb184"/>
<circle cx="527.1" cy="152.8" r="1.9" fill="#62e348"/>
<circle cx="524.1" cy="198.2" r="1.9" fill="#b3f97e"/>
<circle cx="532.2" cy="188.6" r="1.9" fill="#99f868"/>
<circle cx="523.4" cy="207.4" r="1.9" fill="#a3f871"/>
<circle cx="518.3" cy="148.7" r="1.9" fill="#129012"/>
<circle cx="445.0" cy="301.0" r="1.9" fill="#ffa47b"/>
<circle cx="537.7" cy="138.2" r="1.9" fill="#4dcd3c"/>
<circle cx="508.0" cy="197.7" r="1.9" fill="#fff6bb"/>
<circle cx="521.7" cy="137.2" r="1.9" fill="#0f8d0f"/>
<circle cx="496.0" cy="217.0" r="1.9" fill="#e4faa7"/>
<circle cx="527.4" cy="159.0" r="1.9" fill="#40bf35"/>
<circle cx="536.1" cy="165.9" r="1.9" fill="#55d741"/>
<circle cx="549.3" cy="142.3" r="1.9" fill="#159315"/>
<circle cx="477.6" cy="166.7" r="1.9" fill="#e7faaa"/>
<circle cx="474.8" cy="122.5" r="1.9" fill="#169416"/>
<circle cx="530.4" cy="189.3" r="1.9" fill="#fafaba"/>
<circle cx="531.6" cy="162.1" r="1.9" fill="#2fae2c"/>
<circle cx="534.8" cy="181.2" r="1.9" fill="#a3f871"/>
<circle cx="510.9" cy="215.3" r="1.9" fill="#e4faa8"/>
<circle cx="527.4" cy="180.5" r="1.9" fill="#6cea4e"/>
<circle cx="543.0" cy="144.3" r="1.9" fill="#149214"/>
<circle cx="490.4" cy="242.5" r="1.9" fill="#ffba8b"/>
<circle cx="531.5" cy="185.3" r="1.9" fill="#79f254"/>
<circle cx="543.4" cy="168.1" r="1.9" fill="#55d741"/>
<circle cx="517.1" cy="140.0" r="1.9" fill="#2fad2c"/>
<circle cx="482.9" cy="251.1" r="1.9" fill="#ffc996"/>
<circle cx="513.3" cy="218.5" r="1.9" fill="#dcfaa1"/>
<circle cx="509.8" cy="205.1" r="1.9" fill="#fffabe"/>
<circle cx="513.6" cy="223.4" r="1.9" fill="#aef97a"/>
<circle cx="480.4" cy="240.6" r="1.9" fill="#ffecb2"/>
<circle cx="547.5" cy="146.0" r="1.9" fill="#007e00"/>
<circle cx="525.3" cy="134.4" r="1.9" fill="#199719"/>
<circle cx="515.4" cy="212.5" r="1.9" fill="#f1fab2"/>
<circle cx="471.6" cy="264.2" r="1.9" fill="#ff906c"/>
<circle cx="501.7" cy="230.0" r="1.9" fill="#e4faa7"/>
<circle cx="549.4" cy="155.0" r="1.9" fill="#2cab2a"/>
<circle cx="502.7" cy="193.4" r="1.9" fill="#fff7bc"/>
<circle cx="526.6" cy="153.5" r="1.9" fill="#49c93a"/>
<circle cx="538.0" cy="144.0" r="1.9" fill="#048204"/>
<circle cx="468.9" cy="259.0" r="1.9" fill="#ff8e6a"/>
<circle cx="527.1" cy="184.5" r="1.9" fill="#87f65c"/>
<circle cx="545.5" cy="148.1" r="1.9" fill="#219f21"/>
<circle cx="496.3" cy="240.1" r="1.9" fill="#eafaad"/>
<circle cx="523.0" cy="153.4" r="1.9" fill="#5adb44"/>
<circle cx="457.7" cy="220.0" r="1.9" fill="#fdfabd"/>
<circle cx="463.0" cy="274.0" r="1.9" fill="#ff8f6b"/>
<circle cx="545.2" cy="165.7" r="1.9" fill="#39b832"/>
<circle cx="520.6" cy="214.8" r="1.9" fill="#8cf75f"/>
<circle cx="526.3" cy="179.9" r="1.9" fill="#bff988"/>
<circle cx="490.7" cy="243.4" r="1.9" fill="#ffb688"/>
<circle cx="537.6" cy="183.8" r="1.9" fill="#77f153"/>
<circle cx="500.7" cy="180.4" r="1.9" fill="#f4fab4"/>
<circle cx="545.7" cy="150.4" r="1.9" fill="#219f21"/>
<circle cx="523.9" cy="130.5" r="1.9" fill="#2fad2c"/>
<circle cx="451.9" cy="292.1" r="1.9" fill="#ffb083"/>
<circle cx="528.6" cy="195.1" r="1.9" fill="#94f864"/>
<circle cx="479.3" cy="212.2" r="1.9" fill="#fff7bc"/>
<circle cx="515.3" cy="169.9" r="1.9" fill="#b5f980"/>
<circle cx="533.2" cy="173.4" r="1.9" fill="#56d742"/>
<circle cx="542.9" cy="138.6" r="1.9" fill="#0f8d0f"/>
<circle cx="512.4" cy="217.3" r="1.9" fill="#fbfabb"/>
<circle cx="530.7" cy="151.7" r="1.9" fill="#39b932"/>
<circle cx="468.9" cy="263.5" r="1.9" fill="#ff6d52"/>
<circle cx="535.6" cy="184.2" r="1.9" fill="#88f65d"/>
<circle cx="542.3" cy="165.2" r="1.9" fill="#2fae2c"/>
<circle cx="512.6" cy="222.7" r="1.9" fill="#caf991"/>
<circle cx="493.6" cy="196.8" r="1.9" fill="#c8f990"/>
<circle cx="480.9" cy="260.2" r="1.9" fill="#ffdaa2"/>
<circle cx="527.4" cy="126.7" r="1.9" fill="#017f01"/>
<circle cx="524.3" cy="168.1" r="1.9" fill="#90f762"/>
<circle cx="502.0" cy="133.5" r="1.9" fill="#1d9b1d"/>
<circle cx="519.5" cy="176.6" r="1.9" fill="#b2f97d"/>
<circle cx="543.2" cy="141.8" r="1.9" fill="#098709"/>
<circle cx="505.7" cy="200.0" r="1.9" fill="#ffc794"/>
<circle cx="538.7" cy="132.0" r="1.9" fill="#058305"/>
<circle cx="549.6" cy="141.2" r="1.9" fill="#139113"/>
<circle cx="483.1" cy="237.4" r="1.9" fill="#fff8bc"/>
<circle cx="518.4" cy="216.9" r="1.9" fill="#c1f98a"/>
<circle cx="493.0" cy="225.1" r="1.9" fill="#f5fab6"/>
<circle cx="481.2" cy="258.1" r="1.9" fill="#ff8e6b"/>
<circle cx="547.2" cy="150.1" r="1.9" fill="#2aa829"/>
<circle cx="532.9" cy="167.1" r="1.9" fill="#47c739"/>
<circle cx="544.8" cy="142.4" r="1.9" fill="#1a981a"/>
<circle cx="540.2" cy="169.6" r="1.9" fill="#7cf456"/>
<circle cx="544.6" cy="164.5" r="1.9" fill="#3ebd34"/>
<circle cx="545.2" cy="164.9" r="1.9" fill="#32b12e"/>
<circle cx="501.7" cy="228.2" r="1.9" fill="#ffc291"/>
<circle cx="530.4" cy="184.5" r="1.9" fill="#69e74c"/>
<circle cx="518.8" cy="127.8" r="1.9" fill="#149214"/>
<circle cx="471.5" cy="267.3" r="1.9" fill="#ff8f6b"/>
<circle cx="529.5" cy="153.4" r="1.9" fill="#82f55a"/>
<circle cx="495.3" cy="241.4" r="1.9" fill="#fff3b8"/>
<circle cx="541.8" cy="170.1" r="1.9" fill="#68e64b"/>
<circle cx="503.1" cy="220.5" r="1.9" fill="#cefa95"/>
<circle cx="492.5" cy="200.9" r="1.9" fill="#e1faa5"/>
<circle cx="497.7" cy="227.6" r="1.9" fill="#ffe3aa"/>
<circle cx="493.2" cy="245.0" r="1.9" fill="#ffdfa6"/>
<circle cx="527.6" cy="177.3" r="1.9" fill="#8af65e"/>
<circle cx="522.9" cy="191.1" r="1.9" fill="#f5fab6"/>
<circle cx="548.0" cy="139.4" r="1.9" fill="#0e8c0e"/>
<circle cx="505.8" cy="223.9" r="1.9" fill="#fff7bb"/>
<circle cx="516.4" cy="129.5" r="1.9" fill="#0c8a0c"/>
<circle cx="478.9" cy="243.0" r="1.9" fill="#ff8a68"/>
<circle cx="531.7" cy="145.1" r="1.9" fill="#139113"/>
<circle cx="544.0" cy="170.2" r="1.9" fill="#46c639"/>
<circle cx="538.7" cy="160.0" r="1.9" fill="#4aca3b"/>
<circle cx="434.4" cy="179.2" r="1.9" fill="#91f762"/>
<circle cx="493.2" cy="244.5" r="1.9" fill="#ecfaae"/>
<circle cx="522.8" cy="168.3" r="1.9" fill="#88f65d"/>
<circle cx="481.6" cy="178.3" r="1.9" fill="#ffefb4"/>
<circle cx="517.0" cy="161.4" r="1.9" fill="#6eeb4f"/>
<circle cx="522.9" cy="208.3" r="1.9" fill="#90f762"/>
<circle cx="503.9" cy="232.6" r="1.9" fill="#effab1"/>
<circle cx="472.9" cy="253.3" r="1.9" fill="#ffa87d"/>
<circle cx="524.0" cy="125.9" r="1.9" fill="#038103"/>
<circle cx="524.3" cy="191.6" r="1.9" fill="#c8f990"/>
<circle cx="530.8" cy="195.0" r="1.9" fill="#82f559"/>
<circle cx="519.5" cy="171.9" r="1.9" fill="#81f559"/>
<circle cx="540.1" cy="163.5" r="1.9" fill="#32b12d"/>
<circle cx="525.0" cy="187.1" r="1.9" fill="#83f55a"/>
<circle cx="525.4" cy="166.1" r="1.9" fill="#55d641"/>
<circle cx="524.0" cy="130.9" r="1.9" fill="#118f11"/>
<circle cx="522.9" cy="178.8" r="1.9" fill="#c7f98f"/>
<circle cx="523.9" cy="176.5" r="1.9" fill="#89f65e"/>
<circle cx="514.7" cy="136.6" r="1.9" fill="#088608"/>
<circle cx="514.3" cy="179.1" r="1.9" fill="#d3fa9a"/>
<circle cx="515.3" cy="162.7" r="1.9" fill="#b5f980"/>
<circle cx="544.5" cy="137.6" r="1.9" fill="#007e00"/>
<circle cx="542.8" cy="174.1" r="1.9" fill="#55d741"/>
<circle cx="525.8" cy="184.2" r="1.9" fill="#9cf86b"/>
<circle cx="517.7" cy="189.4" r="1.9" fill="#9cf86b"/>
<circle cx="426.6" cy="82.7" r="1.9" fill="#4dce3d"/>
<circle cx="526.9" cy="199.7" r="1.9" fill="#bef987"/>
<circle cx="518.7" cy="176.0" r="1.9" fill="#9cf86b"/>
<circle cx="535.5" cy="182.7" r="1.9" fill="#5ddf45"/>
<circle cx="514.2" cy="169.0" r="1.9" fill="#6eea4e"/>
<circle cx="491.0" cy="249.0" r="1.9" fill="#fffabe"/>
<circle cx="513.4" cy="181.4" r="1.9" fill="#c4f98d"/>
<circle cx="507.6" cy="220.0" r="1.9" fill="#ffe7ad"/>
<circle cx="511.0" cy="148.1" r="1.9" fill="#3bba32"/>
<circle cx="490.2" cy="236.5" r="1.9" fill="#ffbb8c"/>
<circle cx="543.2" cy="154.1" r="1.9" fill="#5adc44"/>
<circle cx="531.0" cy="158.3" r="1.9" fill="#1a981a"/>
<circle cx="524.5" cy="209.6" r="1.9" fill="#b0f97c"/>
<circle cx="547.2" cy="146.2" r="1.9" fill="#32b12e"/>
<circle cx="492.2" cy="241.2" r="1.9" fill="#ffe7ad"/>
<circle cx="469.2" cy="223.7" r="1.9" fill="#d2fa98"/>
<circle cx="532.6" cy="164.0" r="1.9" fill="#8af65e"/>
<circle cx="546.8" cy="155.2" r="1.9" fill="#69e74c"/>
<circle cx="494.5" cy="244.0" r="1.9" fill="#ffcf9a"/>
<circle cx="494.8" cy="161.6" r="1.9" fill="#7bf355"/>
<circle cx="535.0" cy="187.1" r="1.9" fill="#b8f982"/>
<circle cx="521.3" cy="139.0" r="1.9" fill="#209e20"/>
<circle cx="536.5" cy="182.7" r="1.9" fill="#6ae84c"/>
<circle cx="533.5" cy="152.0" r="1.9" fill="#0b890b"/>
<circle cx="508.0" cy="232.0" r="1.9" fill="#93f863"/>
<circle cx="545.7" cy="136.1" r="1.9" fill="#118f11"/>
<circle cx="540.6" cy="167.2" r="1.9" fill="#45c538"/>
<circle cx="536.6" cy="185.7" r="1.9" fill="#73ee51"/>
<circle cx="528.8" cy="193.6" r="1.9" fill="#9bf86a"/>
<circle cx="535.1" cy="151.0" r="1.9" fill="#52d33f"/>
<circle cx="543.2" cy="174.7" r="1.9" fill="#45c538"/>
<circle cx="465.2" cy="273.7" r="1.9" fill="#ff6048"/>
<circle cx="530.2" cy="159.0" r="1.9" fill="#44c437"/>
<circle cx="514.3" cy="223.5" r="1.9" fill="#b5f980"/>
<circle cx="493.7" cy="248.6" r="1.9" fill="#fff5ba"/>
<circle cx="527.5" cy="127.0" r="1.9" fill="#007e00"/>
<circle cx="534.3" cy="132.4" r="1.9" fill="#1e9c1e"/>
<circle cx="538.4" cy="155.8" r="1.9" fill="#29a728"/>
<circle cx="548.6" cy="152.4" r="1.9" fill="#1e9c1e"/>
<circle cx="464.6" cy="276.9" r="1.9" fill="#ff8f6b"/>
<circle cx="512.6" cy="173.2" r="1.9" fill="#82f55a"/>
<circle cx="531.0" cy="166.0" r="1.9" fill="#5dde45"/>
<circle cx="506.8" cy="189.7" r="1.9" fill="#adf979"/>
<circle cx="483.1" cy="243.2" r="1.9" fill="#ffe7ad"/>
<circle cx="523.6" cy="174.3" r="1.9" fill="#94f864"/>
<circle cx="536.8" cy="177.7" r="1.9" fill="#75ef52"/>
<circle cx="492.3" cy="228.8" r="1.9" fill="#ffd19c"/>
<circle cx="461.0" cy="159.0" r="1.9" fill="#82f559"/>
<circle cx="522.2" cy="200.1" r="1.9" fill="#a9f976"/>
<circle cx="491.2" cy="234.0" r="1.9" fill="#ffd8a0"/>
<circle cx="542.0" cy="173.0" r="1.9" fill="#3cbc33"/>
<circle cx="548.0" cy="146.7" r="1.9" fill="#007e00"/>
<circle cx="505.6" cy="213.5" r="1.9" fill="#ffd9a1"/>
<circle cx="532.8" cy="183.5" r="1.9" fill="#7ff458"/>
<circle cx="503.0" cy="218.7" r="1.9" fill="#d8fa9e"/>
<circle cx="519.8" cy="210.2" r="1.9" fill="#d9fa9e"/>
<circle cx="544.2" cy="149.0" r="1.9" fill="#25a325"/>
<circle cx="535.4" cy="145.9" r="1.9" fill="#33b12e"/>
<circle cx="504.6" cy="200.2" r="1.9" fill="#ebfaae"/>
<circle cx="514.9" cy="197.5" r="1.9" fill="#c8f98f"/>
<circle cx="532.5" cy="169.5" r="1.9" fill="#b0f97c"/>
<circle cx="472.4" cy="138.0" r="1.9" fill="#4ccd3c"/>
<circle cx="467.6" cy="272.9" r="1.9" fill="#ff5c45"/>
<circle cx="502.6" cy="146.3" r="1.9" fill="#35b32f"/>
<circle cx="497.0" cy="235.2" r="1.9" fill="#ffdba3"/>
<circle cx="545.7" cy="149.5" r="1.9" fill="#169416"/>
<circle cx="528.9" cy="163.5" r="1.9" fill="#51d23f"/>
<circle cx="523.4" cy="169.1" r="1.9" fill="#85f55b"/>
<circle cx="469.5" cy="267.1" r="1.9" fill="#ff7c5d"/>
<circle cx="508.8" cy="215.6" r="1.9" fill="#fff7bc"/>
<circle cx="534.0" cy="141.9" r="1.9" fill="#038103"/>
<circle cx="536.5" cy="148.0" r="1.9" fill="#44c437"/>
<circle cx="494.0" cy="246.3" r="1.9" fill="#ffd29c"/>
<circle cx="536.3" cy="140.8" r="1.9" fill="#007e00"/>
<circle cx="533.7" cy="172.0" r="1.9" fill="#6eeb4e"/>
<circle cx="505.1" cy="222.2" r="1.9" fill="#fff8bc"/>
<circle cx="531.8" cy="166.0" r="1.9" fill="#3bba32"/>
<circle cx="468.3" cy="274.1" r="1.9" fill="#ff5b44"/>
<circle cx="518.5" cy="179.4" r="1.9" fill="#8df760"/>
<circle cx="509.4" cy="154.4" r="1.9" fill="#47c739"/>
<circle cx="498.7" cy="229.5" r="1.9" fill="#ff946f"/>
<circle cx="527.1" cy="190.9" r="1.9" fill="#f2fab3"/>
<circle cx="526.5" cy="201.2" r="1.9" fill="#9ef86c"/>
<circle cx="535.6" cy="131.3" r="1.9" fill="#28a628"/>
<circle cx="528.4" cy="162.6" r="1.9" fill="#9ff86d"/>
<circle cx="498.9" cy="239.4" r="1.9" fill="#e9faab"/>
<circle cx="543.4" cy="151.6" r="1.9" fill="#1a981a"/>
<circle cx="490.2" cy="249.0" r="1.9" fill="#ffdca4"/>
<circle cx="499.4" cy="229.1" r="1.9" fill="#fffabe"/>
<circle cx="527.4" cy="193.5" r="1.9" fill="#b8f983"/>
<circle cx="477.4" cy="245.0" r="1.9" fill="#ff9a73"/>
<circle cx="526.8" cy="148.3" r="1.9" fill="#45c538"/>
<circle cx="523.2" cy="212.6" r="1.9" fill="#ccf993"/>
<circle cx="507.0" cy="204.0" r="1.9" fill="#e6faa9"/>
<circle cx="531.4" cy="141.8" r="1.9" fill="#209e20"/>
<circle cx="544.5" cy="138.4" r="1.9" fill="#007e00"/>
<circle cx="544.3" cy="159.0" r="1.9" fill="#1d9b1d"/>
<circle cx="525.0" cy="169.0" r="1.9" fill="#93f863"/>
<circle cx="506.3" cy="215.1" r="1.9" fill="#e6faa9"/>
<circle cx="494.8" cy="227.9" r="1.9" fill="#e6faa9"/>
<circle cx="549.3" cy="144.5" r="1.9" fill="#007e00"/>
<circle cx="518.5" cy="160.6" r="1.9" fill="#87f65c"/>
<circle cx="525.0" cy="159.1" r="1.9" fill="#6ae84c"/>
<circle cx="521.6" cy="167.1" r="1.9" fill="#74ef52"/>
<circle cx="523.9" cy="142.5" r="1.9" fill="#45c538"/>
<circle cx="512.3" cy="128.6" r="1.9" fill="#0f8d0f"/>
<circle cx="507.1" cy="187.4" r="1.9" fill="#c0f989"/>
<circle cx="526.7" cy="205.8" r="1.9" fill="#6dea4e"/>
<circle cx="528.6" cy="124.7" r="1.9" fill="#007e00"/>
<circle cx="461.2" cy="273.1" r="1.9" fill="#ff694f"/>
<circle cx="520.1" cy="161.3" r="1.9" fill="#78f154"/>
<circle cx="532.1" cy="172.1" r="1.9" fill="#87f65d"/>
<circle cx="538.4" cy="185.5" r="1.9" fill="#8ff761"/>
<circle cx="513.9" cy="171.7" r="1.9" fill="#c4f98c"/>
<circle cx="535.4" cy="161.4" r="1.9" fill="#7cf456"/>
<circle cx="518.0" cy="207.1" r="1.9" fill="#89f65e"/>
<circle cx="538.4" cy="154.1" r="1.9" fill="#6fec4f"/>
<circle cx="488.7" cy="206.6" r="1.9" fill="#ffce9a"/>
<circle cx="505.0" cy="139.7" r="1.9" fill="#1a981a"/>
<circle cx="495.6" cy="143.1" r="1.9" fill="#1d9b1d"/>
<circle cx="452.8" cy="199.4" r="1.9" fill="#d6fa9b"/>
<circle cx="515.3" cy="175.5" r="1.9" fill="#dafa9f"/>
<circle cx="542.4" cy="154.2" r="1.9" fill="#149214"/>
<circle cx="500.1" cy="217.8" r="1.9" fill="#f4fab5"/>
<circle cx="527.0" cy="155.7" r="1.9" fill="#37b630"/>
<circle cx="520.8" cy="212.3" r="1.9" fill="#94f864"/>
<circle cx="511.7" cy="224.4" r="1.9" fill="#8df760"/>
<circle cx="505.8" cy="219.1" r="1.9" fill="#f5fab5"/>
<circle cx="520.1" cy="178.6" r="1.9" fill="#bef987"/>
<circle cx="526.1" cy="131.8" r="1.9" fill="#017f01"/>
<circle cx="490.7" cy="250.0" r="1.9" fill="#ffcd99"/>
<circle cx="514.8" cy="211.7" r="1.9" fill="#d0fa97"/>
<circle cx="462.9" cy="276.2" r="1.9" fill="#ff9a73"/>
<circle cx="523.4" cy="132.2" r="1.9" fill="#219f21"/>
<circle cx="530.5" cy="175.1" r="1.9" fill="#81f559"/>
<circle cx="503.7" cy="211.2" r="1.9" fill="#e7faaa"/>
<circle cx="463.0" cy="250.6" r="1.9" fill="#ff9c75"/>
<circle cx="503.8" cy="174.0" r="1.9" fill="#abf977"/>
<circle cx="541.2" cy="166.0" r="1.9" fill="#34b32f"/>
<circle cx="543.3" cy="169.0" r="1.9" fill="#61e248"/>
<circle cx="530.2" cy="194.9" r="1.9" fill="#c1f98a"/>
<circle cx="524.2" cy="161.4" r="1.9" fill="#69e74c"/>
<circle cx="543.6" cy="167.7" r="1.9" fill="#83f55a"/>
<circle cx="517.9" cy="165.6" r="1.9" fill="#a4f872"/>
<circle cx="535.6" cy="141.6" r="1.9" fill="#46c639"/>
<circle cx="494.3" cy="234.4" r="1.9" fill="#ebfaae"/>
<circle cx="519.6" cy="184.1" r="1.9" fill="#adf979"/>
<circle cx="476.7" cy="118.6" r="1.9" fill="#29a728"/>
<circle cx="495.4" cy="195.2" r="1.9" fill="#edfaaf"/>
<circle cx="532.7" cy="177.6" r="1.9" fill="#50d13e"/>
<circle cx="449.5" cy="290.7" r="1.9" fill="#ff382b"/>
<circle cx="538.8" cy="173.1" r="1.9" fill="#2ead2b"/>
<circle cx="495.8" cy="243.6" r="1.9" fill="#ffe0a7"/>
<circle cx="532.5" cy="169.6" r="1.9" fill="#75ef52"/>
<circle cx="528.7" cy="164.5" r="1.9" fill="#50d13e"/>
<circle cx="509.1" cy="226.5" r="1.9" fill="#ffefb4"/>
<circle cx="528.3" cy="203.0" r="1.9" fill="#7cf456"/>
<circle cx="546.4" cy="136.7" r="1.9" fill="#179517"/>
<circle cx="486.4" cy="237.8" r="1.9" fill="#ffba8b"/>
<circle cx="453.2" cy="195.4" r="1.9" fill="#ffe1a8"/>
<circle cx="532.2" cy="152.9" r="1.9" fill="#017f01"/>
<circle cx="517.8" cy="185.6" r="1.9" fill="#a4f872"/>
<circle cx="534.8" cy="136.4" r="1.9" fill="#108e10"/>
<circle cx="439.2" cy="249.6" r="1.9" fill="#ffa37a"/>
<circle cx="452.3" cy="233.5" r="1.9" fill="#ffc996"/>
<circle cx="476.8" cy="260.7" r="1.9" fill="#ff916c"/>
<circle cx="536.4" cy="161.5" r="1.9" fill="#59da43"/>
<circle cx="541.9" cy="173.7" r="1.9" fill="#37b630"/>
<circle cx="522.9" cy="176.6" r="1.9" fill="#7ff558"/>
<circle cx="542.6" cy="147.6" r="1.9" fill="#1c9a1c"/>
<circle cx="539.0" cy="179.4" r="1.9" fill="#3bba32"/>
<circle cx="508.4" cy="220.8" r="1.9" fill="#ecfaae"/>
<circle cx="492.6" cy="239.2" r="1.9" fill="#ffebb1"/>
<circle cx="542.3" cy="134.9" r="1.9" fill="#189618"/>
<circle cx="534.1" cy="158.2" r="1.9" fill="#0e8c0e"/>
<circle cx="515.7" cy="188.8" r="1.9" fill="#fff9bd"/>
<circle cx="544.6" cy="167.9" r="1.9" fill="#4acb3b"/>
<circle cx="508.1" cy="214.6" r="1.9" fill="#ffefb4"/>
<circle cx="534.2" cy="179.6" r="1.9" fill="#87f65c"/>
<circle cx="514.1" cy="200.9" r="1.9" fill="#c1f98a"/>
<circle cx="526.5" cy="174.9" r="1.9" fill="#7bf456"/>
<circle cx="524.2" cy="174.4" r="1.9" fill="#93f863"/>
<circle cx="498.0" cy="242.7" r="1.9" fill="#f3fab4"/>
<circle cx="511.5" cy="178.9" r="1.9" fill="#b2f97d"/>
<circle cx="515.6" cy="216.0" r="1.9" fill="#f0fab1"/>
<circle cx="540.1" cy="166.6" r="1.9" fill="#65e54a"/>
<circle cx="521.3" cy="142.2" r="1.9" fill="#007e00"/>
<circle cx="509.2" cy="177.9" r="1.9" fill="#bbf985"/>
<circle cx="523.4" cy="168.9" r="1.9" fill="#65e54a"/>
<circle cx="504.0" cy="218.4" r="1.9" fill="#c8f990"/>
<circle cx="519.3" cy="158.6" r="1.9" fill="#32b02d"/>
<circle cx="484.3" cy="242.5" r="1.9" fill="#ff926e"/>
<circle cx="547.6" cy="140.7" r="1.9" fill="#0a880a"/>
<circle cx="531.5" cy="187.4" r="1.9" fill="#6feb4f"/>
<circle cx="506.5" cy="191.1" r="1.9" fill="#f5fab6"/>
<circle cx="541.4" cy="177.8" r="1.9" fill="#58da43"/>
<circle cx="514.6" cy="215.1" r="1.9" fill="#c0f989"/>
<circle cx="500.8" cy="225.9" r="1.9" fill="#ffefb4"/>
<circle cx="507.1" cy="217.7" r="1.9" fill="#e3faa6"/>
<circle cx="476.8" cy="255.3" r="1.9" fill="#ff8060"/>
<circle cx="533.7" cy="155.3" r="1.9" fill="#3fbf35"/>
<circle cx="485.3" cy="252.9" r="1.9" fill="#ff936e"/>
<circle cx="505.5" cy="190.6" r="1.9" fill="#d5fa9b"/>
<circle cx="525.5" cy="180.9" r="1.9" fill="#cdf994"/>
<circle cx="533.2" cy="181.1" r="1.9" fill="#88f65d"/>
<circle cx="530.4" cy="151.4" r="1.9" fill="#118f11"/>
<circle cx="492.6" cy="247.9" r="1.9" fill="#ffe8ae"/>
<circle cx="549.0" cy="141.8" r="1.9" fill="#007e00"/>
<circle cx="472.1" cy="121.6" r="1.9" fill="#3ebd34"/>
<circle cx="497.1" cy="226.8" r="1.9" fill="#f1fab3"/>
<circle cx="529.1" cy="145.2" r="1.9" fill="#1b991b"/>
<circle cx="486.9" cy="249.1" r="1.9" fill="#ffefb4"/>
<circle cx="522.2" cy="129.1" r="1.9" fill="#038103"/>
<circle cx="543.0" cy="139.0" r="1.9" fill="#22a022"/>
<circle cx="503.8" cy="217.5" r="1.9" fill="#e8faaa"/>
<circle cx="535.9" cy="162.7" r="1.9" fill="#6dea4e"/>
<circle cx="500.8" cy="234.4" r="1.9" fill="#fefabd"/>
<circle cx="526.1" cy="179.9" r="1.9" fill="#b5f980"/>
<circle cx="503.0" cy="190.1" r="1.9" fill="#ddfaa2"/>
<circle cx="498.4" cy="160.7" r="1.9" fill="#6be94d"/>
<circle cx="527.1" cy="173.3" r="1.9" fill="#87f65d"/>
<circle cx="533.0" cy="167.1" r="1.9" fill="#8cf75f"/>
<circle cx="490.4" cy="133.1" r="1.9" fill="#49ca3b"/>
<circle cx="513.3" cy="210.0" r="1.9" fill="#c3f98c"/>
<circle cx="496.2" cy="238.5" r="1.9" fill="#fbfabb"/>
<circle cx="467.5" cy="259.5" r="1.9" fill="#ff8160"/>
<circle cx="517.9" cy="167.2" r="1.9" fill="#74ef52"/>
<circle cx="539.5" cy="144.1" r="1.9" fill="#32b12e"/>
<circle cx="473.6" cy="251.1" r="1.9" fill="#ffa47b"/>
<circle cx="531.0" cy="142.2" r="1.9" fill="#108e10"/>
<circle cx="536.6" cy="148.4" r="1.9" fill="#4bcb3b"/>
<circle cx="529.2" cy="126.6" r="1.9" fill="#0d8b0d"/>
<circle cx="548.3" cy="141.6" r="1.9" fill="#038103"/>
<circle cx="533.7" cy="168.1" r="1.9" fill="#62e248"/>
<circle cx="515.0" cy="161.4" r="1.9" fill="#3cbb33"/>
<circle cx="543.1" cy="145.2" r="1.9" fill="#028002"/>
<circle cx="524.6" cy="148.4" r="1.9" fill="#179517"/>
<circle cx="506.0" cy="145.9" r="1.9" fill="#71ec50"/>
<circle cx="463.2" cy="276.4" r="1.9" fill="#ff5741"/>
<circle cx="530.2" cy="127.7" r="1.9" fill="#007e00"/>
<circle cx="532.6" cy="144.5" r="1.9" fill="#219f21"/>
<circle cx="544.4" cy="165.3" r="1.9" fill="#59db43"/>
<circle cx="461.6" cy="205.4" r="1.9" fill="#f1fab2"/>
<circle cx="507.5" cy="224.0" r="1.9" fill="#f7fab8"/>
<circle cx="543.4" cy="137.5" r="1.9" fill="#0f8d0f"/>
<circle cx="506.9" cy="218.9" r="1.9" fill="#f5fab6"/>
<circle cx="495.9" cy="232.7" r="1.9" fill="#ffedb3"/>
<circle cx="529.7" cy="196.2" r="1.9" fill="#b9f984"/>
<circle cx="478.6" cy="261.8" r="1.9" fill="#ffa27a"/>
<circle cx="539.2" cy="183.5" r="1.9" fill="#3dbd34"/>
<circle cx="517.8" cy="193.1" r="1.9" fill="#8af65e"/>
<circle cx="534.5" cy="178.2" r="1.9" fill="#76f053"/>
<circle cx="513.1" cy="215.2" r="1.9" fill="#b6f981"/>
<circle cx="535.4" cy="181.5" r="1.9" fill="#a5f873"/>
<circle cx="469.7" cy="154.9" r="1.9" fill="#6eeb4f"/>
<circle cx="538.4" cy="134.3" r="1.9" fill="#149214"/>
<circle cx="529.4" cy="181.2" r="1.9" fill="#89f65d"/>
<circle cx="534.2" cy="131.9" r="1.9" fill="#179517"/>
<circle cx="529.1" cy="148.6" r="1.9" fill="#3ab932"/>
<circle cx="508.7" cy="154.6" r="1.9" fill="#53d440"/>
<circle cx="516.1" cy="215.9" r="1.9" fill="#d9fa9f"/>
<circle cx="526.4" cy="177.2" r="1.9" fill="#e1faa5"/>
<circle cx="536.4" cy="156.1" r="1.9" fill="#2dab2b"/>
<circle cx="531.6" cy="193.0" r="1.9" fill="#b2f97e"/>
<circle cx="527.8" cy="204.0" r="1.9" fill="#b7f981"/>
<circle cx="521.2" cy="200.5" r="1.9" fill="#a3f871"/>
<circle cx="451.5" cy="151.4" r="1.9" fill="#5fe046"/>
<circle cx="495.9" cy="237.9" r="1.9" fill="#ffd7a0"/>
<circle cx="506.4" cy="204.4" r="1.9" fill="#fefabd"/>
<circle cx="526.1" cy="207.3" r="1.9" fill="#96f866"/>
<circle cx="477.7" cy="254.8" r="1.9" fill="#ff6f53"/>
<circle cx="496.6" cy="238.0" r="1.9" fill="#ffdda4"/>
<circle cx="484.0" cy="237.8" r="1.9" fill="#ffab80"/>
<circle cx="515.0" cy="154.0" r="1.9" fill="#29a829"/>
<circle cx="533.5" cy="149.3" r="1.9" fill="#1e9c1e"/>
<circle cx="538.0" cy="142.4" r="1.9" fill="#007e00"/>
<circle cx="510.1" cy="161.0" r="1.9" fill="#78f154"/>
<circle cx="500.9" cy="236.2" r="1.9" fill="#b4f97f"/>
<circle cx="507.1" cy="204.4" r="1.9" fill="#dafaa0"/>
<circle cx="534.2" cy="141.8" r="1.9" fill="#29a728"/>
<circle cx="518.0" cy="214.6" r="1.9" fill="#a6f873"/>
<circle cx="545.1" cy="142.6" r="1.9" fill="#139113"/>
<circle cx="457.5" cy="281.5" r="1.9" fill="#ffa078"/>
<circle cx="525.7" cy="194.7" r="1.9" fill="#a5f872"/>
<circle cx="547.2" cy="134.8" r="1.9" fill="#007e00"/>
</g>
<rect x="633.7" y="351.10" width="18.4" height="7.70" fill="#ff0807"/>
<rect x="633.7" y="343.70" width="18.4" height="7.70" fill="#ff110e"/>
<rect x="633.7" y="336.30" width="18.4" height="7.70" fill="#ff1b15"/>
<rect x="633.7" y="328.90" width="18.4" height="7.70" fill="#ff241c"/>
<rect x="633.7" y="321.50" width="18.4" height="7.70" fill="#ff2d23"/>
<rect x="633.7" y="314.10" width="18.4" height="7.70" fill="#ff372a"/>
<rect x="633.7" y="306.70" width="18.4" height="7.70" fill="#ff4131"/>
<rect x="633.7" y="299.30" width="18.4" height="7.70" fill="#ff4b39"/>
<rect x="633.7" y="291.90" width="18.4" height="7.70" fill="#ff5540"/>
<rect x="633.7" y="284.50" width="18.4" height="7.70" fill="#ff5f47"/>
<rect x="633.7" y="277.10" width="18.4" height="7.70" fill="#ff6a50"/>
<rect x="633.7" y="269.70" width="18.4" height="7.70" fill="#ff7659"/>
<rect x="633.7" y="262.30" width="18.4" height="7.70" fill="#ff8262"/>
<rect x="633.7" y="254.90" width="18.4" height="7.70" fill="#ff8e6b"/>
<rect x="633.7" y="247.50" width="18.4" height="7.70" fill="#ff9a74"/>
<rect x="633.7" y="240.10" width="18.4" height="7.70" fill="#ffa67d"/>
<rect x="633.7" y="232.70" width="18.4" height="7.70" fill="#ffb386"/>
<rect x="633.7" y="225.30" width="18.4" height="7.70" fill="#ffbf8f"/>
<rect x="633.7" y="217.90" width="18.4" height="7.70" fill="#ffcc98"/>
<rect x="633.7" y="210.50" width="18.4" height="7.70" fill="#ffd8a1"/>
<rect x="633.7" y="203.10" width="18.4" height="7.70" fill="#ffe4aa"/>
<rect x="633.7" y="195.70" width="18.4" height="7.70" fill="#ffefb4"/>
<rect x="633.7" y="188.30" width="18.4" height="7.70" fill="#fffabe"/>
<rect x="633.7" y="180.90" width="18.4" height="7.70" fill="#f3fab4"/>
<rect x="633.7" y="173.50" width="18.4" height="7.70" fill="#e7faaa"/>
<rect x="633.7" y="166.10" width="18.4" height="7.70" fill="#d9fa9e"/>
<rect x="633.7" y="158.70" width="18.4" height="7.70" fill="#c9f991"/>
<rect x="633.7" y="151.30" width="18.4" height="7.70" fill="#baf984"/>
<rect x="633.7" y="143.90" width="18.4" height="7.70" fill="#abf977"/>
<rect x="633.7" y="136.50" width="18.4" height="7.70" fill="#9bf86a"/>
<rect x="633.7" y="129.10" width="18.4" height="7.70" fill="#8ff761"/>
<rect x="633.7" y="121.70" width="18.4" height="7.70" fill="#85f65b"/>
<rect x="633.7" y="114.30" width="18.4" height="7.70" fill="#7bf456"/>
<rect x="633.7" y="106.90" width="18.4" height="7.70" fill="#6fec4f"/>
<rect x="633.7" y="99.50" width="18.4" height="7.70" fill="#63e449"/>
<rect x="633.7" y="92.10" width="18.4" height="7.70" fill="#58da43"/>
<rect x="633.7" y="84.70" width="18.4" height="7.70" fill="#4dce3d"/>
<rect x="633.7" y="77.30" width="18.4" height="7.70" fill="#42c237"/>
<rect x="633.7" y="69.90" width="18.4" height="7.70" fill="#38b731"/>
<rect x="633.7" y="62.50" width="18.4" height="7.70" fill="#2dab2b"/>
<rect x="633.7" y="55.10" width="18.4" height="7.70" fill="#24a224"/>
<rect x="633.7" y="47.70" width="18.4" height="7.70" fill="#1c9a1c"/>
<rect x="633.7" y="40.30" width="18.4" height="7.70" fill="#149214"/>
<rect x="633.7" y="33.60" width="18.4" height="7.00" fill="#007e00"/>
<text x="655.6" y="361.9" font-size="8.5" font-weight="bold" fill="#000">0.1</text>
<text x="655.6" y="324.9" font-size="8.5" font-weight="bold" fill="#000">0.2</text>
<text x="655.6" y="288.0" font-size="8.5" font-weight="bold" fill="#000">0.3</text>
<text x="655.6" y="251.0" font-size="8.5" font-weight="bold" fill="#000">0.4</text>
<text x="655.6" y="214.1" font-size="8.5" font-weight="bold" fill="#000">0.5</text>
<text x="655.6" y="177.1" font-size="8.5" font-weight="bold" fill="#000">0.6</text>
<text x="655.6" y="140.2" font-size="8.5" font-weight="bold" fill="#000">0.7</text>
<text x="655.6" y="103.2" font-size="8.5" font-weight="bold" fill="#000">0.8</text>
<text x="655.6" y="66.3" font-size="8.5" font-weight="bold" fill="#000">0.9</text>
<text x="655.8" y="36.7" font-size="8.5" font-weight="bold" fill="#000">1</text>
<rect x="76.5" y="34.2" width="250.5" height="322.0" fill="none" stroke="#000" stroke-width="1.4"/>
<line x1="76.5" y1="356.2" x2="76.5" y2="362.2" stroke="#000" stroke-width="1.4"/>
<line x1="139.1" y1="356.2" x2="139.1" y2="362.2" stroke="#000" stroke-width="1.4"/>
<line x1="139.1" y1="34.2" x2="139.1" y2="40.2" stroke="#000" stroke-width="1.4"/>
<line x1="201.8" y1="356.2" x2="201.8" y2="362.2" stroke="#000" stroke-width="1.4"/>
<line x1="201.8" y1="34.2" x2="201.8" y2="40.2" stroke="#000" stroke-width="1.4"/>
<line x1="264.4" y1="356.2" x2="264.4" y2="362.2" stroke="#000" stroke-width="1.4"/>
<line x1="264.4" y1="34.2" x2="264.4" y2="40.2" stroke="#000" stroke-width="1.4"/>
<line x1="327.0" y1="356.2" x2="327.0" y2="362.2" stroke="#000" stroke-width="1.4"/>
<line x1="107.8" y1="356.2" x2="107.8" y2="359.2" stroke="#000" stroke-width="1.4"/>
<line x1="107.8" y1="34.2" x2="107.8" y2="37.2" stroke="#000" stroke-width="1.4"/>
<line x1="170.4" y1="356.2" x2="170.4" y2="359.2" stroke="#000" stroke-width="1.4"/>
<line x1="170.4" y1="34.2" x2="170.4" y2="37.2" stroke="#000" stroke-width="1.4"/>
<line x1="233.1" y1="356.2" x2="233.1" y2="359.2" stroke="#000" stroke-width="1.4"/>
<line x1="233.1" y1="34.2" x2="233.1" y2="37.2" stroke="#000" stroke-width="1.4"/>
<line x1="295.7" y1="356.2" x2="295.7" y2="359.2" stroke="#000" stroke-width="1.4"/>
<line x1="295.7" y1="34.2" x2="295.7" y2="37.2" stroke="#000" stroke-width="1.4"/>
<line x1="70.5" y1="284.6" x2="76.5" y2="284.6" stroke="#000" stroke-width="1.4"/>
<line x1="321.0" y1="284.6" x2="327.0" y2="284.6" stroke="#000" stroke-width="1.4"/>
<line x1="70.5" y1="141.5" x2="76.5" y2="141.5" stroke="#000" stroke-width="1.4"/>
<line x1="321.0" y1="141.5" x2="327.0" y2="141.5" stroke="#000" stroke-width="1.4"/>
<line x1="73.5" y1="356.2" x2="76.5" y2="356.2" stroke="#000" stroke-width="1.4"/>
<line x1="73.5" y1="213.1" x2="76.5" y2="213.1" stroke="#000" stroke-width="1.4"/>
<line x1="324.0" y1="213.1" x2="327.0" y2="213.1" stroke="#000" stroke-width="1.4"/>
<line x1="73.5" y1="70.0" x2="76.5" y2="70.0" stroke="#000" stroke-width="1.4"/>
<line x1="324.0" y1="70.0" x2="327.0" y2="70.0" stroke="#000" stroke-width="1.4"/>
<rect x="382.0" y="34.2" width="250.6" height="322.0" fill="none" stroke="#000" stroke-width="1.4"/>
<line x1="382.0" y1="356.2" x2="382.0" y2="362.2" stroke="#000" stroke-width="1.4"/>
<line x1="423.8" y1="356.2" x2="423.8" y2="362.2" stroke="#000" stroke-width="1.4"/>
<line x1="423.8" y1="34.2" x2="423.8" y2="40.2" stroke="#000" stroke-width="1.4"/>
<line x1="465.5" y1="356.2" x2="465.5" y2="362.2" stroke="#000" stroke-width="1.4"/>
<line x1="465.5" y1="34.2" x2="465.5" y2="40.2" stroke="#000" stroke-width="1.4"/>
<line x1="507.3" y1="356.2" x2="507.3" y2="362.2" stroke="#000" stroke-width="1.4"/>
<line x1="507.3" y1="34.2" x2="507.3" y2="40.2" stroke="#000" stroke-width="1.4"/>
<line x1="549.1" y1="356.2" x2="549.1" y2="362.2" stroke="#000" stroke-width="1.4"/>
<line x1="549.1" y1="34.2" x2="549.1" y2="40.2" stroke="#000" stroke-width="1.4"/>
<line x1="590.8" y1="356.2" x2="590.8" y2="362.2" stroke="#000" stroke-width="1.4"/>
<line x1="590.8" y1="34.2" x2="590.8" y2="40.2" stroke="#000" stroke-width="1.4"/>
<line x1="632.6" y1="356.2" x2="632.6" y2="362.2" stroke="#000" stroke-width="1.4"/>
<line x1="402.9" y1="356.2" x2="402.9" y2="359.2" stroke="#000" stroke-width="1.4"/>
<line x1="402.9" y1="34.2" x2="402.9" y2="37.2" stroke="#000" stroke-width="1.4"/>
<line x1="444.7" y1="356.2" x2="444.7" y2="359.2" stroke="#000" stroke-width="1.4"/>
<line x1="444.7" y1="34.2" x2="444.7" y2="37.2" stroke="#000" stroke-width="1.4"/>
<line x1="486.4" y1="356.2" x2="486.4" y2="359.2" stroke="#000" stroke-width="1.4"/>
<line x1="486.4" y1="34.2" x2="486.4" y2="37.2" stroke="#000" stroke-width="1.4"/>
<line x1="528.2" y1="356.2" x2="528.2" y2="359.2" stroke="#000" stroke-width="1.4"/>
<line x1="528.2" y1="34.2" x2="528.2" y2="37.2" stroke="#000" stroke-width="1.4"/>
<line x1="570.0" y1="356.2" x2="570.0" y2="359.2" stroke="#000" stroke-width="1.4"/>
<line x1="570.0" y1="34.2" x2="570.0" y2="37.2" stroke="#000" stroke-width="1.4"/>
<line x1="611.7" y1="356.2" x2="611.7" y2="359.2" stroke="#000" stroke-width="1.4"/>
<line x1="611.7" y1="34.2" x2="611.7" y2="37.2" stroke="#000" stroke-width="1.4"/>
<line x1="382.0" y1="284.6" x2="388.0" y2="284.6" stroke="#000" stroke-width="1.4"/>
<line x1="626.6" y1="284.6" x2="632.6" y2="284.6" stroke="#000" stroke-width="1.4"/>
<line x1="382.0" y1="141.5" x2="388.0" y2="141.5" stroke="#000" stroke-width="1.4"/>
<line x1="626.6" y1="141.5" x2="632.6" y2="141.5" stroke="#000" stroke-width="1.4"/>
<line x1="382.0" y1="213.1" x2="385.0" y2="213.1" stroke="#000" stroke-width="1.4"/>
<line x1="629.6" y1="213.1" x2="632.6" y2="213.1" stroke="#000" stroke-width="1.4"/>
<line x1="382.0" y1="70.0" x2="385.0" y2="70.0" stroke="#000" stroke-width="1.4"/>
<line x1="629.6" y1="70.0" x2="632.6" y2="70.0" stroke="#000" stroke-width="1.4"/>
<text x="76.5" y="375" font-size="12" font-weight="bold" text-anchor="middle">0.7</text>
<text x="139.1" y="375" font-size="12" font-weight="bold" text-anchor="middle">0.8</text>
<text x="201.8" y="375" font-size="12" font-weight="bold" text-anchor="middle">0.9</text>
<text x="264.4" y="375" font-size="12" font-weight="bold" text-anchor="middle">1.0</text>
<text x="327.0" y="375" font-size="12" font-weight="bold" text-anchor="middle">1.1</text>
<text x="382.0" y="375" font-size="12" font-weight="bold" text-anchor="middle">0.6</text>
<text x="423.8" y="375" font-size="12" font-weight="bold" text-anchor="middle">0.7</text>
<text x="465.5" y="375" font-size="12" font-weight="bold" text-anchor="middle">0.8</text>
<text x="507.3" y="375" font-size="12" font-weight="bold" text-anchor="middle">0.9</text>
<text x="549.1" y="375" font-size="12" font-weight="bold" text-anchor="middle">1.0</text>
<text x="590.8" y="375" font-size="12" font-weight="bold" text-anchor="middle">1.1</text>
<text x="632.6" y="375" font-size="12" font-weight="bold" text-anchor="middle">1.2</text>
<text x="68" y="288.9" font-size="12" font-weight="bold" text-anchor="end">0.8</text>
<text x="68" y="145.8" font-size="12" font-weight="bold" text-anchor="end">1.0</text>
<g stroke="#000" stroke-width="2" fill="none">
<line x1="264.4" y1="69.6" x2="264.4" y2="212.6"/>
<line x1="233.2" y1="141.2" x2="296.2" y2="141.2"/>
<line x1="261.0" y1="69.6" x2="267.8" y2="69.6"/>
<line x1="261.0" y1="212.6" x2="267.8" y2="212.6"/>
<line x1="233.2" y1="137.8" x2="233.2" y2="144.6"/>
<line x1="296.2" y1="137.8" x2="296.2" y2="144.6"/>
</g>
<g stroke="#0000ff" stroke-width="2" fill="none">
<line x1="264.4" y1="119.0" x2="264.4" y2="164.0"/>
<line x1="258.4" y1="141.2" x2="270.6" y2="141.2"/>
<line x1="261.4" y1="119.0" x2="267.4" y2="119.0"/>
<line x1="261.4" y1="164.0" x2="267.4" y2="164.0"/>
<line x1="258.4" y1="138.2" x2="258.4" y2="144.2"/>
<line x1="270.6" y1="138.2" x2="270.6" y2="144.2"/>
</g>
<g stroke="#000" stroke-width="2" fill="none">
<line x1="549.7" y1="105.4" x2="549.7" y2="177.4"/>
<line x1="528.2" y1="141.3" x2="570.2" y2="141.3"/>
<line x1="546.5" y1="105.4" x2="552.9" y2="105.4"/>
<line x1="546.5" y1="177.4" x2="552.9" y2="177.4"/>
<line x1="528.2" y1="138.1" x2="528.2" y2="144.5"/>
<line x1="570.2" y1="138.1" x2="570.2" y2="144.5"/>
</g>
<g stroke="#0000ff" stroke-width="2" fill="none">
<line x1="549.7" y1="129.8" x2="549.7" y2="153.2"/>
<line x1="532.0" y1="141.3" x2="566.4" y2="141.3"/>
<line x1="546.7" y1="129.8" x2="552.7" y2="129.8"/>
<line x1="546.7" y1="153.2" x2="552.7" y2="153.2"/>
<line x1="532.0" y1="138.3" x2="532.0" y2="144.3"/>
<line x1="566.4" y1="138.3" x2="566.4" y2="144.3"/>
</g>
<text x="152.3" y="82.9" font-size="10.2" letter-spacing="0.27" font-weight="bold" fill="#000">HL-LHC(14TeV, 3ab<tspan font-size="6" dy="-4.2">-1</tspan><tspan dy="4.2">)</tspan></text>
<text x="176.8" y="134.2" font-size="10.2" letter-spacing="0.27" font-weight="bold" fill="#0000ff">ILC(1TeV, 1ab<tspan font-size="6" dy="-4.2">-1</tspan><tspan dy="4.2">)</tspan></text>
<text x="499.8" y="100.7" font-size="10.2" letter-spacing="0.27" font-weight="bold" fill="#000">HL-LHC(14TeV, 3ab<tspan font-size="6" dy="-4.2">-1</tspan><tspan dy="4.2">)</tspan></text>
<text x="555.7" y="158.1" font-size="10.2" letter-spacing="0.27" font-weight="bold" fill="#0000ff">ILC(1TeV, 1ab<tspan font-size="6" dy="-4.2">-1</tspan><tspan dy="4.2">)</tspan></text>
<rect x="213.3" y="319.4" width="99.4" height="29.8" fill="#000"/>
<rect x="209.5" y="315.4" width="99.4" height="29.8" fill="#fff" stroke="#000" stroke-width="1"/>
<text x="222.4" y="335.1" font-size="15.5" font-weight="bold">&lt;0.7, h</text>
<text x="271.7" y="340.6" font-size="9.2" font-weight="bold">2</text>
<text x="271.8" y="327.0" font-size="9.6" font-weight="bold">SM-like</text>
<g font-weight="bold" font-style="italic">
<text x="150.5" y="409.2" font-size="24.5">C</text>
<text x="166.6" y="396.2" font-size="10" letter-spacing="0.2">NMSSM</text>
<text x="166.1" y="417.2" font-size="14.3" letter-spacing="0.2">h<tspan font-size="9" dy="4.5">2</tspan><tspan dy="-4.5">VV</tspan></text>
<text x="204.3" y="409.2" font-size="24.5" font-weight="normal">/</text>
<text x="211.6" y="409.2" font-size="24.5">C</text>
<text x="227.9" y="396.2" font-size="10" letter-spacing="0.2">SM</text>
<text x="227.6" y="417.2" font-size="14.3" letter-spacing="0.2">hVV</text>
</g>
<g font-weight="bold" font-style="italic">
<text x="455.8" y="409.2" font-size="24.5">C</text>
<text x="471.9" y="396.2" font-size="10" letter-spacing="0.2">NMSSM</text>
<text x="471.4" y="417.2" font-size="14.3" letter-spacing="0.3">h<tspan font-size="9" dy="4.5">2</tspan><tspan dy="-4.5">gg</tspan></text>
<text x="509.6" y="409.2" font-size="24.5" font-weight="normal">/</text>
<text x="516.9" y="409.2" font-size="24.5">C</text>
<text x="533.2" y="396.2" font-size="10" letter-spacing="0.2">SM</text>
<text x="532.9" y="417.2" dx="1.5" font-size="14.3" letter-spacing="0.3">hgg</text>
</g>
<g font-weight="bold" font-style="italic" transform="translate(26.5,261.3) rotate(-90) scale(1,1.08)">
<text x="-0.8" y="0.0" font-size="24.5">C</text>
<text x="15.3" y="-13.0" font-size="10" letter-spacing="0.2">NMSSM</text>
<text x="14.8" y="8.0" font-size="14.3">h<tspan font-size="9" dy="4.5">2</tspan><tspan dy="-4.5">tt</tspan></text>
<text x="53.0" y="0.0" font-size="24.5" font-weight="normal">/</text>
<text x="60.3" y="0.0" font-size="24.5">C</text>
<text x="76.6" y="-13.0" font-size="10" letter-spacing="0.2">SM</text>
<text x="76.3" y="8.0" font-size="14.3">htt</text>
</g>
<g font-weight="bold" font-style="italic" transform="translate(359.4,259.5) rotate(-90) scale(1,1.08)">
<text x="-0.8" y="0.0" font-size="24.5">C</text>
<text x="15.3" y="-13.0" font-size="10" letter-spacing="0.2">NMSSM</text>
<text x="14.8" y="8.0" font-size="14.3">h<tspan font-size="9" dy="4.5">2</tspan><tspan dy="-4.5" class="sf" font-weight="normal" font-size="15.5">γγ</tspan></text>
<text x="53.0" y="0.0" font-size="24.5" font-weight="normal">/</text>
<text x="60.3" y="0.0" font-size="24.5">C</text>
<text x="76.6" y="-13.0" font-size="10" letter-spacing="0.2">SM</text>
<text x="76.3" y="8.0" font-size="14.3">h<tspan class="sf" font-weight="normal" font-size="15.5">γγ</tspan></text>
</g>
<g font-style="italic">
<text transform="translate(586.3,20.9) skewX(-13)" font-size="20" class="sf" font-style="normal">λ</text>
<text x="598.0" y="11.8" font-size="8.7" letter-spacing="-0.75" font-weight="bold">NMSSM</text>
<text x="598.0" y="26.8" font-size="10.3" font-weight="bold">3h<tspan font-size="6.5" dy="3.5">2</tspan></text>
<text x="628.2" y="20.9" font-size="19.5" class="ss">/</text>
<text transform="translate(632.0,20.9) skewX(-13)" font-size="20" class="sf" font-style="normal">λ</text>
<text x="642.5" y="11.8" font-size="8.7" letter-spacing="-0.75" font-weight="bold">SM</text>
<text x="642.8" y="26.8" font-size="10.3" font-weight="bold">3h</text>
</g>
</svg>
</body></html>
